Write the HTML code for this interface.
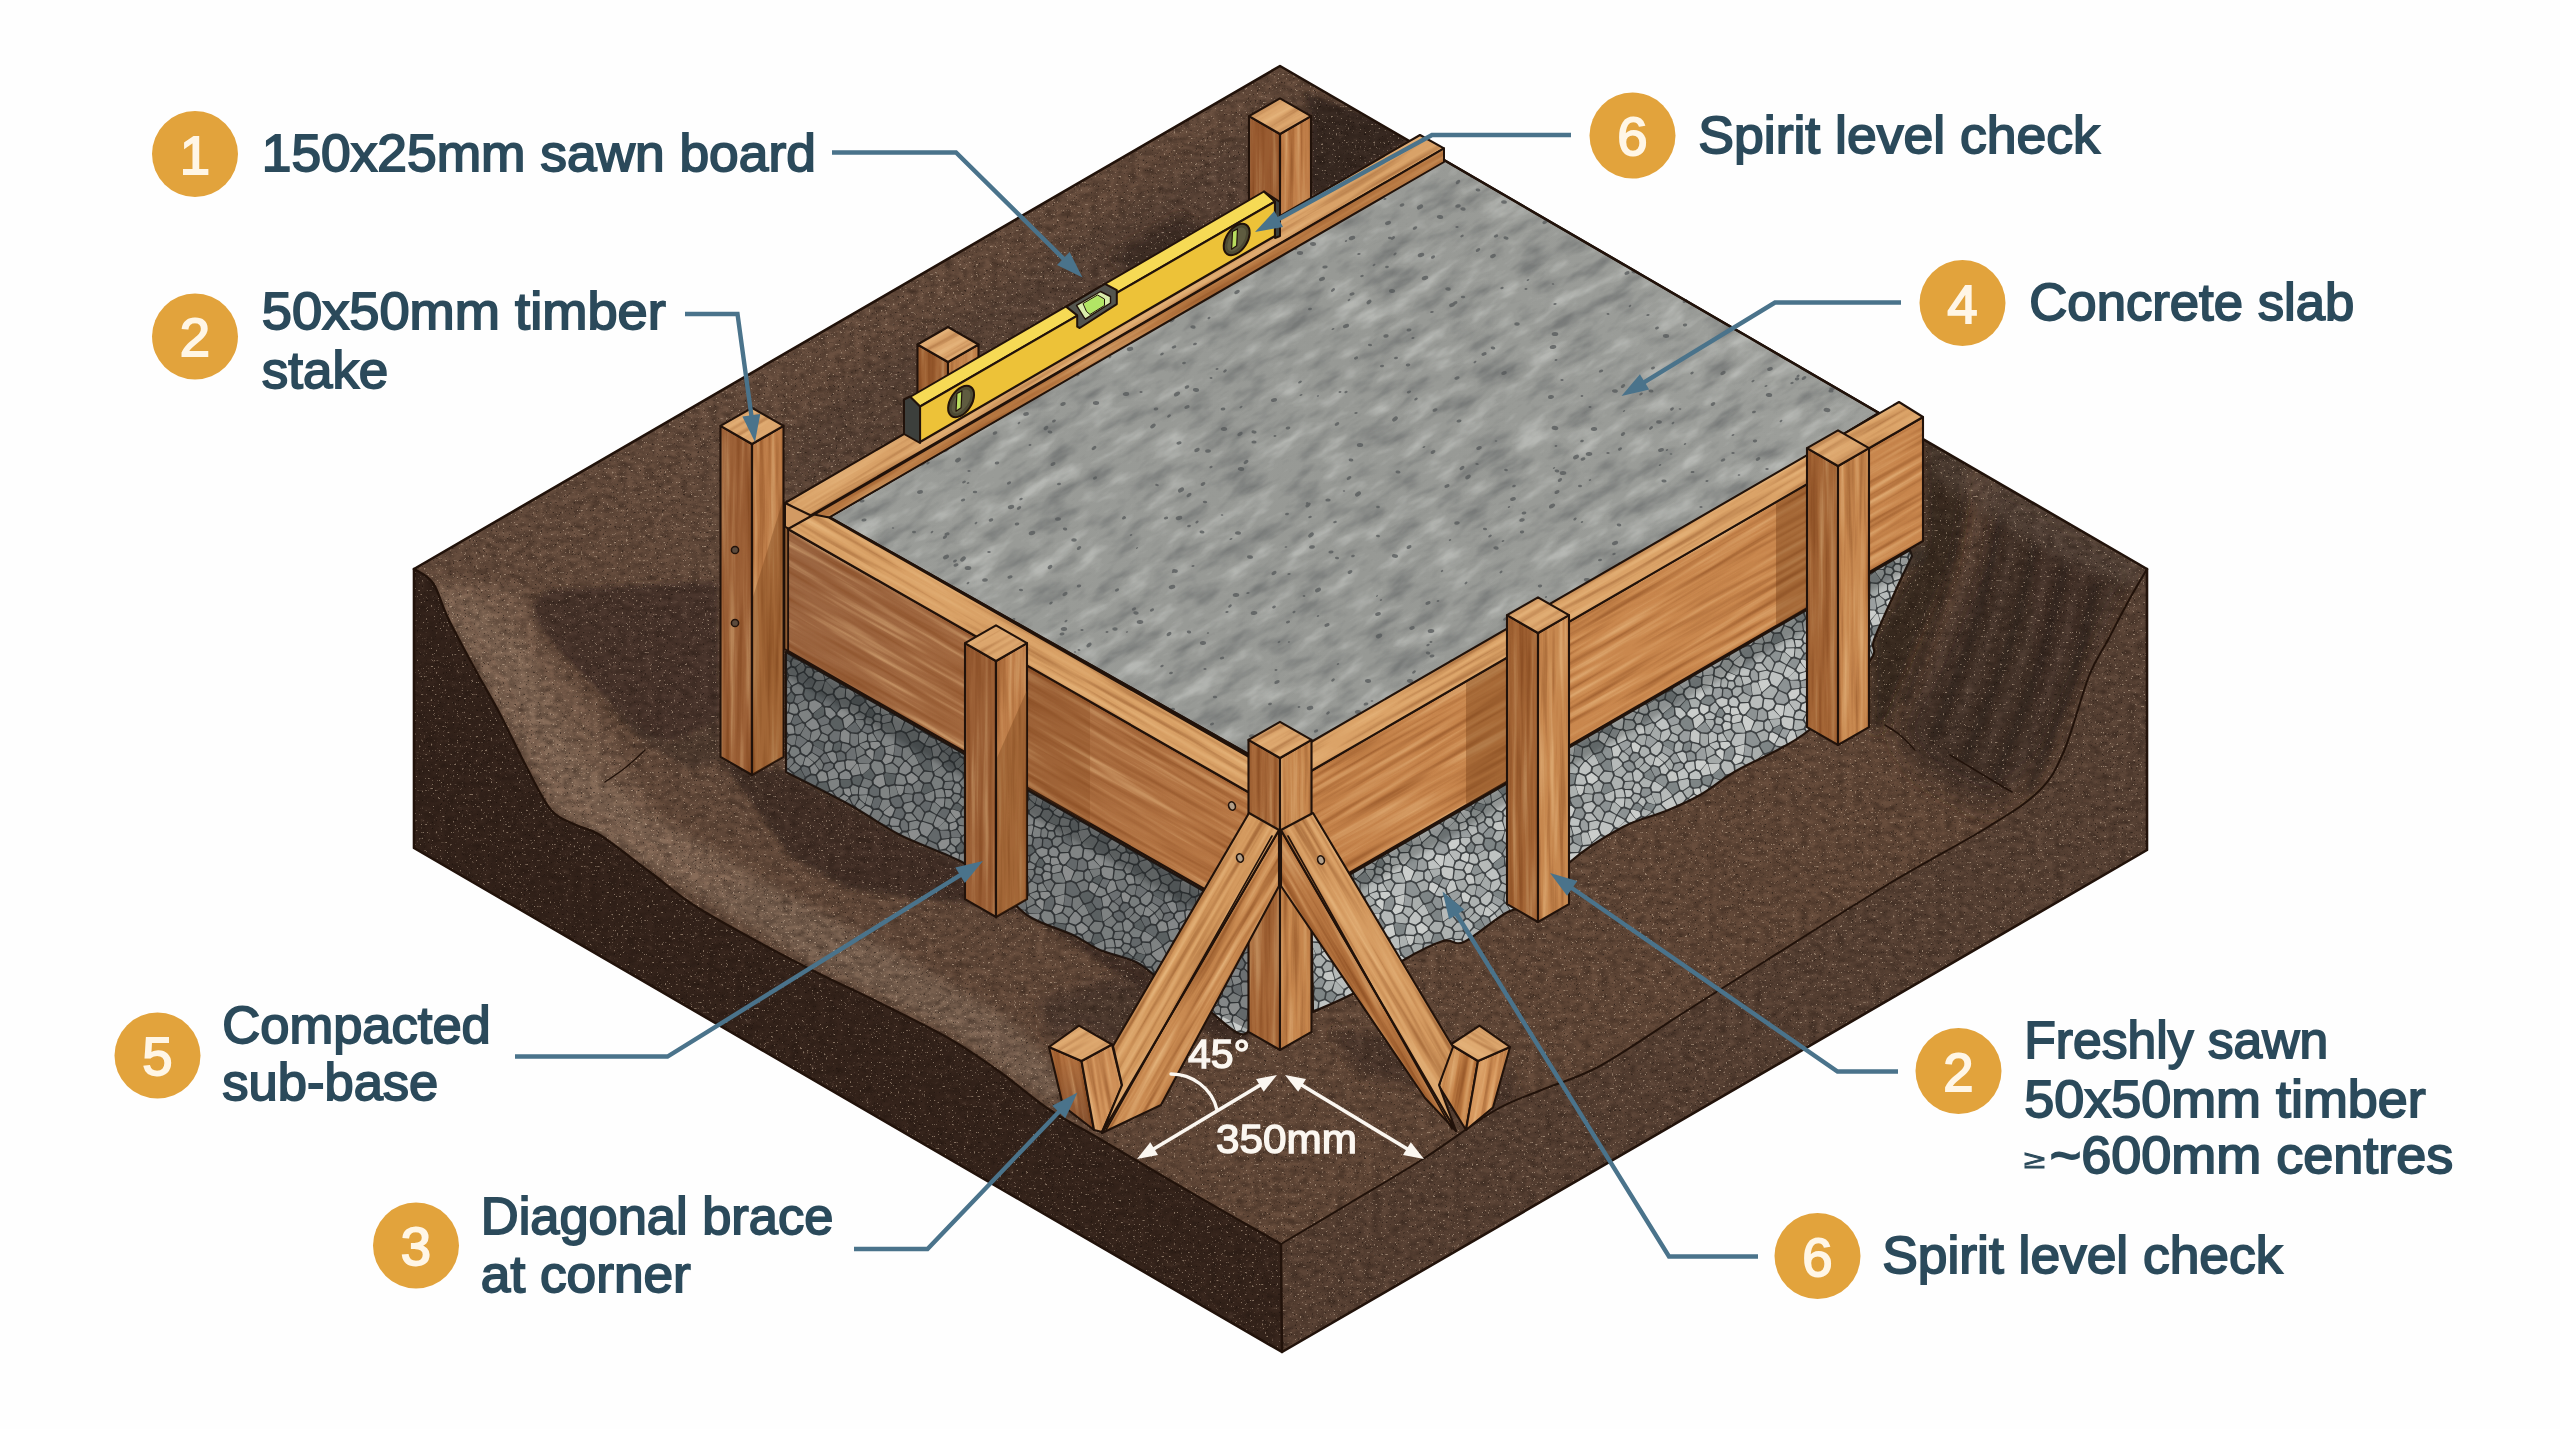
<!DOCTYPE html>
<html lang="en"><head><meta charset="utf-8"><title>Formwork for concrete slab</title>
<style>html,body{margin:0;padding:0;background:#fefefe;}svg{display:block}</style></head>
<body>
<svg width="2560" height="1429" viewBox="0 0 2560 1429">

<defs>
  <filter id="fSoil" x="0" y="0" width="100%" height="100%" filterUnits="userSpaceOnUse" color-interpolation-filters="sRGB">
    <feTurbulence type="fractalNoise" baseFrequency="0.11 0.16" numOctaves="4" seed="3" result="n"/>
    <feColorMatrix in="n" type="matrix" values="0 0 0 0 0  0 0 0 0 0  0 0 0 0 0  0.9 0.9 0 0 -0.62" result="a"/>
    <feFlood flood-color="#1c110b"/>
    <feComposite in2="a" operator="in" result="dark"/>
    <feColorMatrix in="n" type="matrix" values="0 0 0 0 0  0 0 0 0 0  0 0 0 0 0  -0.9 0 -0.9 0 0.62" result="b"/>
    <feFlood flood-color="#ab917c"/>
    <feComposite in2="b" operator="in" result="light"/>
    <feTurbulence type="fractalNoise" baseFrequency="0.42 0.5" numOctaves="2" seed="8" result="n2"/>
    <feColorMatrix in="n2" type="matrix" values="0 0 0 0 0  0 0 0 0 0  0 0 0 0 0  9 0 0 0 -6.05" result="c"/>
    <feFlood flood-color="#c8b39c"/>
    <feComposite in2="c" operator="in" result="specL"/>
    <feColorMatrix in="n2" type="matrix" values="0 0 0 0 0  0 0 0 0 0  0 0 0 0 0  0 -9 0 0 2.95" result="d"/>
    <feFlood flood-color="#120a06"/>
    <feComposite in2="d" operator="in" result="specD"/>
    <feMerge><feMergeNode in="dark"/><feMergeNode in="light"/><feMergeNode in="specD"/><feMergeNode in="specL"/></feMerge>
    <feComposite in2="SourceAlpha" operator="in"/>
  </filter>
  <filter id="fConc" x="0" y="0" width="1" height="1" color-interpolation-filters="sRGB">
    <feTurbulence type="fractalNoise" baseFrequency="0.022 0.06" numOctaves="4" seed="11" result="n"/>
    <feColorMatrix in="n" type="matrix" values="0 0 0 0 0  0 0 0 0 0  0 0 0 0 0  3 0 0 0 -1.55" result="a"/>
    <feFlood flood-color="#55585a"/>
    <feComposite in2="a" operator="in" result="dark"/>
    <feColorMatrix in="n" type="matrix" values="0 0 0 0 0  0 0 0 0 0  0 0 0 0 0  -3.4 0 0 0 1.55" result="b"/>
    <feFlood flood-color="#d5d7d3"/>
    <feComposite in2="b" operator="in" result="light"/>
    <feMerge><feMergeNode in="dark"/><feMergeNode in="light"/></feMerge>
  </filter>
  <filter id="fWood" x="0" y="0" width="1" height="1" color-interpolation-filters="sRGB">
    <feTurbulence type="fractalNoise" baseFrequency="0.007 0.17" numOctaves="3" seed="5" result="n"/>
    <feColorMatrix in="n" type="matrix" values="0 0 0 0 0  0 0 0 0 0  0 0 0 0 0  3.2 0 0 0 -1.6" result="a"/>
    <feFlood flood-color="#7a3c14"/>
    <feComposite in2="a" operator="in" result="dark"/>
    <feColorMatrix in="n" type="matrix" values="0 0 0 0 0  0 0 0 0 0  0 0 0 0 0  -3.2 0 0 0 1.5" result="b"/>
    <feFlood flood-color="#f6cf98"/>
    <feComposite in2="b" operator="in" result="light"/>
    <feMerge><feMergeNode in="dark"/><feMergeNode in="light"/></feMerge>
  </filter>
  <filter id="blur6"><feGaussianBlur stdDeviation="6"/></filter>
  <filter id="blur12"><feGaussianBlur stdDeviation="12"/></filter>
  <filter id="blur3"><feGaussianBlur stdDeviation="2.5"/></filter>

  <linearGradient id="gSoilTop" x1="414" y1="569" x2="1280" y2="1245" gradientUnits="userSpaceOnUse">
    <stop offset="0" stop-color="#6b5141"/><stop offset="1" stop-color="#684d3c"/>
  </linearGradient>
  <linearGradient id="gLeftFace" x1="414" y1="600" x2="1282" y2="1352" gradientUnits="userSpaceOnUse">
    <stop offset="0" stop-color="#35241c"/><stop offset="1" stop-color="#38261d"/>
  </linearGradient>
  <linearGradient id="gRightFace" x1="2147" y1="600" x2="1282" y2="1352" gradientUnits="userSpaceOnUse">
    <stop offset="0" stop-color="#5e4739"/><stop offset="1" stop-color="#5c4436"/>
  </linearGradient>
  <linearGradient id="gSlab" x1="829" y1="517" x2="1879" y2="413" gradientUnits="userSpaceOnUse">
    <stop offset="0" stop-color="#9a9c98"/><stop offset="0.5" stop-color="#979995"/><stop offset="1" stop-color="#9d9f9b"/>
  </linearGradient>
  <linearGradient id="gBoardL" x1="788" y1="590" x2="1249" y2="855" gradientUnits="userSpaceOnUse">
    <stop offset="0" stop-color="#9b6541"/><stop offset="0.5" stop-color="#a66b40"/><stop offset="1" stop-color="#b87744"/>
  </linearGradient>
  <linearGradient id="gBoardR" x1="1311" y1="830" x2="1923" y2="480" gradientUnits="userSpaceOnUse">
    <stop offset="0" stop-color="#c4824a"/><stop offset="0.5" stop-color="#ca884e"/><stop offset="1" stop-color="#c8864d"/>
  </linearGradient>
  <linearGradient id="gPegL" x1="0" y1="1047" x2="0" y2="1130" gradientUnits="userSpaceOnUse"><stop offset="0" stop-color="#b87541"/><stop offset="1" stop-color="#84502f"/></linearGradient>
  <pattern id="pGravel" width="170" height="150" patternUnits="userSpaceOnUse">
    <rect width="170" height="150" fill="#3d4143"/>
    <polygon points="-13.7,0.6 -10.6,-0.8 -9.7,-6.2 -10.8,-7.4 -15.0,-5.6 -15.9,-0.5" fill="#7e8586" stroke="#7e8586" stroke-width="1.6" stroke-linejoin="round"/>
    <polygon points="-2.1,-4.7 -7.1,-6.0 -7.8,-0.3 -4.5,1.4 -0.0,-3.2" fill="#a5aaa9" stroke="#a5aaa9" stroke-width="1.6" stroke-linejoin="round"/>
    <polygon points="-13.4,117.3 -9.3,120.3 -7.3,127.6 -10.2,129.3 -15.2,128.3 -18.6,123.7 -17.9,120.8" fill="#7e8586" stroke="#7e8586" stroke-width="1.6" stroke-linejoin="round"/>
    <polygon points="-14.1,14.7 -11.9,13.0 -6.7,12.2 -5.9,18.8 -11.0,21.7 -14.2,17.1" fill="#bfc3c2" stroke="#bfc3c2" stroke-width="1.6" stroke-linejoin="round"/>
    <polygon points="-0.5,84.8 -4.0,86.1 -8.3,85.0 -9.1,80.3 -6.2,77.0 0.2,78.9 0.2,84.0" fill="#8c9293" stroke="#8c9293" stroke-width="1.6" stroke-linejoin="round"/>
    <polygon points="-15.0,144.4 -10.8,142.6 -9.7,143.8 -10.6,149.2 -13.7,150.6 -15.9,149.5" fill="#7e8586" stroke="#7e8586" stroke-width="1.6" stroke-linejoin="round"/>
    <polygon points="-16.6,75.6 -15.0,69.9 -14.8,69.8 -9.6,71.5 -8.7,74.6 -11.3,77.7" fill="#9a9fa0" stroke="#9a9fa0" stroke-width="1.6" stroke-linejoin="round"/>
    <polygon points="-11.8,113.0 -8.7,109.7 -2.9,109.2 -1.9,113.1 -7.8,117.1 -11.7,114.6" fill="#cbcecc" stroke="#cbcecc" stroke-width="1.6" stroke-linejoin="round"/>
    <polygon points="-8.5,53.3 -7.5,58.1 -13.1,58.3 -16.9,55.2 -12.8,50.2 -11.8,50.4" fill="#a9aead" stroke="#a9aead" stroke-width="1.6" stroke-linejoin="round"/>
    <polygon points="-1.1,103.0 -2.3,106.4 -7.9,106.5 -10.1,100.3 -4.5,99.6 -1.4,101.7" fill="#a9aead" stroke="#a9aead" stroke-width="1.6" stroke-linejoin="round"/>
    <polygon points="-8.0,35.5 -8.7,30.8 -0.3,30.4 0.5,34.2 -1.7,36.1 -5.8,36.7" fill="#7e8586" stroke="#7e8586" stroke-width="1.6" stroke-linejoin="round"/>
    <polygon points="-3.7,11.9 -2.6,11.1 4.5,11.4 5.5,13.1 -0.2,19.5 -3.1,18.2" fill="#cbcecc" stroke="#cbcecc" stroke-width="1.6" stroke-linejoin="round"/>
    <polygon points="-1.6,142.3 -1.1,133.4 -4.8,130.7 -5.6,130.5 -8.1,132.4 -8.8,139.4 -7.6,140.7" fill="#c4c7c5" stroke="#c4c7c5" stroke-width="1.6" stroke-linejoin="round"/>
    <polygon points="-13.7,111.2 -10.9,106.9 -12.4,101.3 -13.6,100.7 -18.4,106.4" fill="#7e8586" stroke="#7e8586" stroke-width="1.6" stroke-linejoin="round"/>
    <polygon points="-7.1,61.0 -12.2,61.3 -14.2,67.2 -8.2,68.7 -5.6,64.6 -6.9,61.2" fill="#cbcecc" stroke="#cbcecc" stroke-width="1.6" stroke-linejoin="round"/>
    <polygon points="2.7,121.0 3.2,119.9 2.4,116.8 -0.2,115.1 -6.1,119.4 -4.7,127.0 -3.7,127.1" fill="#c4c7c5" stroke="#c4c7c5" stroke-width="1.6" stroke-linejoin="round"/>
    <polygon points="-10.2,38.0 -15.7,41.7 -12.5,46.6 -11.6,46.6 -8.2,43.3 -8.2,39.7" fill="#a9aead" stroke="#a9aead" stroke-width="1.6" stroke-linejoin="round"/>
    <polygon points="-11.5,97.6 -12.7,97.1 -14.8,93.8 -14.0,90.9 -10.2,87.9 -5.6,89.2 -6.2,96.6" fill="#bfc3c2" stroke="#bfc3c2" stroke-width="1.6" stroke-linejoin="round"/>
    <polygon points="-1.3,50.1 1.5,55.5 -4.8,58.0 -5.0,57.8 -5.0,53.9" fill="#a5aaa9" stroke="#a5aaa9" stroke-width="1.6" stroke-linejoin="round"/>
    <polygon points="-11.3,9.8 -12.6,3.5 -9.0,2.5 -6.1,4.5 -5.4,8.5 -6.3,9.3" fill="#8c9293" stroke="#8c9293" stroke-width="1.6" stroke-linejoin="round"/>
    <polygon points="-2.6,48.3 -6.1,51.0 -10.0,48.4 -5.9,45.6 -2.3,47.6" fill="#c4c7c5" stroke="#c4c7c5" stroke-width="1.6" stroke-linejoin="round"/>
    <polygon points="-9.2,24.1 -4.5,21.6 -1.6,22.7 0.4,26.3 -0.6,28.1 -8.7,28.5 -9.6,27.5" fill="#bfc3c2" stroke="#bfc3c2" stroke-width="1.6" stroke-linejoin="round"/>
    <polygon points="-0.0,146.8 -4.5,151.4 -7.8,149.7 -7.1,144.0 -2.1,145.3" fill="#a5aaa9" stroke="#a5aaa9" stroke-width="1.6" stroke-linejoin="round"/>
    <polygon points="-6.1,71.0 -3.2,66.9 1.1,68.5 1.5,74.9 0.6,76.0 -5.3,74.2" fill="#b9bdbc" stroke="#b9bdbc" stroke-width="1.6" stroke-linejoin="round"/>
    <polygon points="-5.5,39.6 -4.6,43.1 -1.2,45.4 0.3,44.2 -1.0,39.1" fill="#cbcecc" stroke="#cbcecc" stroke-width="1.6" stroke-linejoin="round"/>
    <polygon points="-9.0,152.5 -12.6,153.5 -11.3,159.8 -6.3,159.3 -5.4,158.5 -6.1,154.5" fill="#8c9293" stroke="#8c9293" stroke-width="1.6" stroke-linejoin="round"/>
    <polygon points="98.7,-4.1 94.1,-0.4 93.1,-0.3 90.0,-5.4 96.9,-8.5 99.8,-7.0" fill="#9a9fa0" stroke="#9a9fa0" stroke-width="1.6" stroke-linejoin="round"/>
    <polygon points="51.3,-17.2 47.5,-16.4 47.1,-15.9 46.9,-7.3 52.7,-4.6 57.8,-5.8 59.0,-8.2 54.9,-15.2" fill="#8c9293" stroke="#8c9293" stroke-width="1.6" stroke-linejoin="round"/>
    <polygon points="111.6,-5.6 106.6,-9.2 109.7,-13.5 114.0,-14.2 115.6,-13.6 114.1,-6.0" fill="#a5aaa9" stroke="#a5aaa9" stroke-width="1.6" stroke-linejoin="round"/>
    <polygon points="160.3,-6.2 159.2,-7.4 155.0,-5.6 154.1,-0.5 156.3,0.6 159.4,-0.8" fill="#7e8586" stroke="#7e8586" stroke-width="1.6" stroke-linejoin="round"/>
    <polygon points="150.3,-14.1 154.1,-18.1 159.3,-17.8 158.4,-10.2 153.8,-8.8 150.6,-10.8" fill="#9a9fa0" stroke="#9a9fa0" stroke-width="1.6" stroke-linejoin="round"/>
    <polygon points="16.1,-15.0 11.7,-17.5 9.4,-15.6 9.9,-7.4 16.1,-10.2" fill="#b9bdbc" stroke="#b9bdbc" stroke-width="1.6" stroke-linejoin="round"/>
    <polygon points="107.6,1.4 103.8,0.7 102.5,-3.6 102.6,-6.5 104.8,-6.9 109.5,-3.6" fill="#cbcecc" stroke="#cbcecc" stroke-width="1.6" stroke-linejoin="round"/>
    <polygon points="126.9,4.1 129.9,0.8 131.3,-3.9 130.9,-5.9 129.0,-7.3 127.8,-7.2 121.5,-1.6 122.2,2.2 125.9,4.4" fill="#b9bdbc" stroke="#b9bdbc" stroke-width="1.6" stroke-linejoin="round"/>
    <polygon points="72.3,-16.7 70.7,-16.0 69.7,-10.6 74.1,-7.4 77.4,-13.7 77.2,-14.3" fill="#cbcecc" stroke="#cbcecc" stroke-width="1.6" stroke-linejoin="round"/>
    <polygon points="1.1,-6.8 1.4,-15.6 7.1,-14.9 7.4,-6.6 7.2,-6.2 4.9,-4.7 2.8,-5.1" fill="#a5aaa9" stroke="#a5aaa9" stroke-width="1.6" stroke-linejoin="round"/>
    <polygon points="87.5,-11.9 88.3,-7.7 88.8,-7.6 95.8,-11.1 93.9,-17.7 92.5,-18.9 90.5,-18.2" fill="#c4c7c5" stroke="#c4c7c5" stroke-width="1.6" stroke-linejoin="round"/>
    <polygon points="148.7,-7.9 146.1,-5.4 145.3,-0.5 145.7,1.0 146.8,1.2 151.0,-0.3 152.1,-5.7" fill="#adb2b1" stroke="#adb2b1" stroke-width="1.6" stroke-linejoin="round"/>
    <polygon points="32.4,-8.0 33.2,-5.7 35.3,-4.6 43.6,-6.8 43.6,-6.8 44.4,-15.7 35.9,-15.0" fill="#b9bdbc" stroke="#b9bdbc" stroke-width="1.6" stroke-linejoin="round"/>
    <polygon points="106.7,-14.7 103.9,-19.5 96.4,-18.1 99.0,-11.5 101.6,-9.9 103.8,-10.5" fill="#a5aaa9" stroke="#a5aaa9" stroke-width="1.6" stroke-linejoin="round"/>
    <polygon points="17.6,-6.6 18.5,-2.9 15.3,-1.4 10.6,-5.0 11.0,-5.4 16.5,-7.3" fill="#b9bdbc" stroke="#b9bdbc" stroke-width="1.6" stroke-linejoin="round"/>
    <polygon points="72.5,-4.8 67.9,-7.7 62.2,-6.2 61.0,-4.0 64.5,2.0 65.3,2.2 70.2,0.4 72.9,-4.0" fill="#7e8586" stroke="#7e8586" stroke-width="1.6" stroke-linejoin="round"/>
    <polygon points="21.0,-7.0 21.8,-3.0 24.8,-1.6 29.7,-4.9 28.8,-6.9 26.8,-7.5" fill="#cbcecc" stroke="#cbcecc" stroke-width="1.6" stroke-linejoin="round"/>
    <polygon points="84.2,-10.1 85.6,-6.3 80.8,-4.6 76.4,-5.3 76.1,-6.0 79.6,-12.1" fill="#b9bdbc" stroke="#b9bdbc" stroke-width="1.6" stroke-linejoin="round"/>
    <polygon points="143.2,-6.6 142.5,-0.8 134.8,-5.2 134.0,-6.9 138.1,-8.4" fill="#7e8586" stroke="#7e8586" stroke-width="1.6" stroke-linejoin="round"/>
    <polygon points="116.3,-5.6 117.8,-13.1 119.7,-13.1 126.0,-9.0 119.6,-3.4" fill="#9a9fa0" stroke="#9a9fa0" stroke-width="1.6" stroke-linejoin="round"/>
    <polygon points="22.2,-15.8 25.9,-9.9 20.0,-9.4 19.0,-10.1 19.0,-14.4" fill="#b9bdbc" stroke="#b9bdbc" stroke-width="1.6" stroke-linejoin="round"/>
    <polygon points="165.5,1.4 162.2,-0.3 162.9,-6.0 167.9,-4.7 170.0,-3.2" fill="#a5aaa9" stroke="#a5aaa9" stroke-width="1.6" stroke-linejoin="round"/>
    <polygon points="146.9,-13.5 142.3,-15.5 139.7,-10.7 144.8,-8.9 147.2,-10.5" fill="#adb2b1" stroke="#adb2b1" stroke-width="1.6" stroke-linejoin="round"/>
    <polygon points="87.5,100.0 86.9,101.3 84.0,103.1 77.5,102.5 75.4,99.0 79.2,92.0 85.9,95.2" fill="#9a9fa0" stroke="#9a9fa0" stroke-width="1.6" stroke-linejoin="round"/>
    <polygon points="55.2,54.5 53.9,57.3 56.6,61.5 61.1,61.1 64.8,55.9 61.8,52.8" fill="#b9bdbc" stroke="#b9bdbc" stroke-width="1.6" stroke-linejoin="round"/>
    <polygon points="113.2,90.7 115.9,93.3 121.6,93.0 122.9,88.4 121.2,85.9 118.0,84.6 113.6,87.0 112.7,88.2" fill="#a5aaa9" stroke="#a5aaa9" stroke-width="1.6" stroke-linejoin="round"/>
    <polygon points="0.7,87.8 -3.1,89.6 -3.3,96.4 0.2,99.1 3.8,95.1" fill="#cbcecc" stroke="#cbcecc" stroke-width="1.6" stroke-linejoin="round"/>
    <polygon points="11.0,128.2 13.3,123.7 12.8,120.7 6.6,120.5 6.4,121.7" fill="#a9aead" stroke="#a9aead" stroke-width="1.6" stroke-linejoin="round"/>
    <polygon points="82.7,124.0 82.2,119.5 82.6,118.8 84.3,117.8 91.9,118.7 92.6,119.9 91.7,127.9 89.4,128.2 84.3,126.2" fill="#c4c7c5" stroke="#c4c7c5" stroke-width="1.6" stroke-linejoin="round"/>
    <polygon points="70.7,129.8 69.1,130.9 65.6,128.3 65.3,122.9 67.9,121.0 68.8,121.5 71.5,127.5" fill="#adb2b1" stroke="#adb2b1" stroke-width="1.6" stroke-linejoin="round"/>
    <polygon points="152.1,120.8 156.6,117.3 160.7,120.3 162.7,127.6 159.8,129.3 154.8,128.3 151.4,123.7" fill="#7e8586" stroke="#7e8586" stroke-width="1.6" stroke-linejoin="round"/>
    <polygon points="90.8,15.0 83.7,20.2 83.6,20.1 82.3,10.5 84.0,9.1 87.5,9.2 91.3,13.2" fill="#b6bab9" stroke="#b6bab9" stroke-width="1.6" stroke-linejoin="round"/>
    <polygon points="159.0,21.7 164.1,18.8 163.3,12.2 158.1,13.0 155.9,14.7 155.8,17.1" fill="#bfc3c2" stroke="#bfc3c2" stroke-width="1.6" stroke-linejoin="round"/>
    <polygon points="169.5,84.8 166.0,86.1 161.7,85.0 160.9,80.3 163.8,77.0 170.2,78.9 170.2,84.0" fill="#8c9293" stroke="#8c9293" stroke-width="1.6" stroke-linejoin="round"/>
    <polygon points="90.0,144.6 93.1,149.7 94.1,149.6 98.7,145.9 99.8,143.0 96.9,141.5" fill="#9a9fa0" stroke="#9a9fa0" stroke-width="1.6" stroke-linejoin="round"/>
    <polygon points="97.3,78.8 97.3,74.4 95.1,72.3 89.0,77.9 90.8,79.1" fill="#b9bdbc" stroke="#b9bdbc" stroke-width="1.6" stroke-linejoin="round"/>
    <polygon points="63.9,63.1 67.2,57.4 69.2,57.6 73.2,63.0 71.2,69.3 70.3,69.8 67.8,68.1" fill="#a5aaa9" stroke="#a5aaa9" stroke-width="1.6" stroke-linejoin="round"/>
    <polygon points="1.6,104.9 7.9,106.9 7.7,110.7 3.6,113.4 1.3,111.9 0.5,108.6" fill="#cbcecc" stroke="#cbcecc" stroke-width="1.6" stroke-linejoin="round"/>
    <polygon points="110.0,18.7 115.0,13.9 119.3,17.1 118.5,18.4 114.2,21.6" fill="#a9aead" stroke="#a9aead" stroke-width="1.6" stroke-linejoin="round"/>
    <polygon points="141.4,72.3 135.4,73.4 134.0,77.0 136.9,79.1 143.4,79.4 143.6,79.0" fill="#c4c7c5" stroke="#c4c7c5" stroke-width="1.6" stroke-linejoin="round"/>
    <polygon points="90.6,29.6 85.0,27.2 82.4,32.7 85.1,38.4 91.4,36.7 92.3,32.0" fill="#adb2b1" stroke="#adb2b1" stroke-width="1.6" stroke-linejoin="round"/>
    <polygon points="2.9,29.4 3.8,27.6 9.9,26.3 10.5,26.6 11.5,28.4 9.3,34.3 8.6,34.8 3.8,33.0" fill="#7e8586" stroke="#7e8586" stroke-width="1.6" stroke-linejoin="round"/>
    <polygon points="14.6,86.3 19.4,86.0 20.0,79.7 14.8,77.8 13.5,84.7" fill="#b6bab9" stroke="#b6bab9" stroke-width="1.6" stroke-linejoin="round"/>
    <polygon points="16.4,43.6 9.9,44.0 9.7,43.9 10.2,38.1 10.9,37.7 17.1,39.6 16.8,43.5" fill="#bfc3c2" stroke="#bfc3c2" stroke-width="1.6" stroke-linejoin="round"/>
    <polygon points="43.0,53.7 41.3,49.7 42.0,49.0 47.8,47.2 49.4,47.6 51.9,52.9 50.6,55.9 45.7,56.3" fill="#8c9293" stroke="#8c9293" stroke-width="1.6" stroke-linejoin="round"/>
    <polygon points="123.4,73.6 119.4,75.4 118.9,76.8 119.4,81.1 122.4,82.8 127.0,77.5" fill="#9a9fa0" stroke="#9a9fa0" stroke-width="1.6" stroke-linejoin="round"/>
    <polygon points="38.4,47.6 39.0,46.7 37.9,37.8 35.8,37.0 31.3,39.5 31.3,45.3 33.2,47.2" fill="#b9bdbc" stroke="#b9bdbc" stroke-width="1.6" stroke-linejoin="round"/>
    <polygon points="123.6,124.7 122.0,124.0 115.9,126.7 116.2,132.7 117.8,133.5 119.7,133.1 123.7,126.5" fill="#a5aaa9" stroke="#a5aaa9" stroke-width="1.6" stroke-linejoin="round"/>
    <polygon points="61.7,23.8 66.8,27.7 67.0,29.5 62.0,33.1 58.7,32.1 57.1,26.5" fill="#cbcecc" stroke="#cbcecc" stroke-width="1.6" stroke-linejoin="round"/>
    <polygon points="33.4,90.5 34.0,94.6 37.1,95.5 41.0,91.9 40.6,88.1 36.2,88.0" fill="#a9aead" stroke="#a9aead" stroke-width="1.6" stroke-linejoin="round"/>
    <polygon points="36.6,2.5 42.7,4.3 44.0,-4.7 35.8,-2.1" fill="#c4c7c5" stroke="#c4c7c5" stroke-width="1.6" stroke-linejoin="round"/>
    <polygon points="47.1,18.3 42.2,14.4 36.0,15.8 36.5,21.6 45.4,22.7 46.9,22.0" fill="#adb2b1" stroke="#adb2b1" stroke-width="1.6" stroke-linejoin="round"/>
    <polygon points="141.7,101.9 145.3,95.3 141.3,92.1 137.5,93.5 136.6,98.3" fill="#7e8586" stroke="#7e8586" stroke-width="1.6" stroke-linejoin="round"/>
    <polygon points="108.1,34.4 110.2,37.9 109.2,42.5 104.7,41.7 103.7,39.0 105.7,34.2" fill="#b6bab9" stroke="#b6bab9" stroke-width="1.6" stroke-linejoin="round"/>
    <polygon points="148.4,22.7 153.8,19.5 157.1,23.8 157.1,27.1 149.5,28.7" fill="#bfc3c2" stroke="#bfc3c2" stroke-width="1.6" stroke-linejoin="round"/>
    <polygon points="101.1,9.1 101.6,6.7 103.6,4.3 107.2,4.4 108.7,6.8 103.8,10.9" fill="#8c9293" stroke="#8c9293" stroke-width="1.6" stroke-linejoin="round"/>
    <polygon points="1.9,-1.5 4.2,-1.1 5.4,6.9 5.1,8.9 -2.5,8.4 -2.7,3.6" fill="#9a9fa0" stroke="#9a9fa0" stroke-width="1.6" stroke-linejoin="round"/>
    <polygon points="154.4,60.7 150.9,57.4 148.1,57.4 144.2,62.0 145.3,64.7 152.9,66.8 153.1,66.7" fill="#b9bdbc" stroke="#b9bdbc" stroke-width="1.6" stroke-linejoin="round"/>
    <polygon points="33.9,65.9 29.9,71.5 36.2,74.2 37.8,73.6 38.7,68.7" fill="#a5aaa9" stroke="#a5aaa9" stroke-width="1.6" stroke-linejoin="round"/>
    <polygon points="95.2,97.7 98.5,93.7 98.4,89.9 92.0,90.7 89.0,93.9 90.5,98.8" fill="#cbcecc" stroke="#cbcecc" stroke-width="1.6" stroke-linejoin="round"/>
    <polygon points="126.6,65.5 124.2,61.1 126.9,56.6 126.9,56.6 130.2,55.8 134.6,60.5 130.7,65.5" fill="#a9aead" stroke="#a9aead" stroke-width="1.6" stroke-linejoin="round"/>
    <polygon points="15.7,56.7 19.6,58.0 21.3,59.8 18.8,64.6 15.0,66.4 10.5,62.8 10.5,60.9" fill="#c4c7c5" stroke="#c4c7c5" stroke-width="1.6" stroke-linejoin="round"/>
    <polygon points="99.7,57.8 100.5,57.1 102.4,53.5 99.9,49.5 96.4,49.2 96.2,49.4 95.7,56.0" fill="#adb2b1" stroke="#adb2b1" stroke-width="1.6" stroke-linejoin="round"/>
    <polygon points="111.4,57.6 111.3,57.2 107.7,54.5 105.8,54.8 103.2,58.3 109.8,60.2" fill="#7e8586" stroke="#7e8586" stroke-width="1.6" stroke-linejoin="round"/>
    <polygon points="132.5,132.5 131.0,139.7 133.0,140.9 136.8,138.2 139.7,133.7 138.5,130.0" fill="#b6bab9" stroke="#b6bab9" stroke-width="1.6" stroke-linejoin="round"/>
    <polygon points="133.1,112.2 129.8,108.1 130.4,102.6 134.9,101.1 140.3,104.3 141.0,105.7" fill="#bfc3c2" stroke="#bfc3c2" stroke-width="1.6" stroke-linejoin="round"/>
    <polygon points="46.9,142.7 52.7,145.4 57.8,144.2 59.0,141.8 54.9,134.8 51.3,132.8 47.5,133.6 47.1,134.1" fill="#8c9293" stroke="#8c9293" stroke-width="1.6" stroke-linejoin="round"/>
    <polygon points="64.9,45.6 65.6,44.6 70.2,44.2 72.0,45.6 73.0,49.6 69.0,53.9 67.1,53.7 64.5,50.3" fill="#9a9fa0" stroke="#9a9fa0" stroke-width="1.6" stroke-linejoin="round"/>
    <polygon points="60.0,96.5 62.0,99.1 61.0,106.4 57.5,107.7 52.1,106.0 51.0,102.2 52.8,97.9 53.5,97.4" fill="#b9bdbc" stroke="#b9bdbc" stroke-width="1.6" stroke-linejoin="round"/>
    <polygon points="109.7,136.5 106.6,140.8 111.6,144.4 114.1,144.0 115.6,136.4 114.0,135.8" fill="#a5aaa9" stroke="#a5aaa9" stroke-width="1.6" stroke-linejoin="round"/>
    <polygon points="24.3,30.8 26.6,27.1 32.6,25.2 34.3,34.3 29.5,36.4 24.7,33.4" fill="#cbcecc" stroke="#cbcecc" stroke-width="1.6" stroke-linejoin="round"/>
    <polygon points="81.5,23.1 81.4,23.1 74.9,22.5 70.5,27.1 70.7,29.1 74.6,31.6 79.6,31.1 82.2,25.8" fill="#a9aead" stroke="#a9aead" stroke-width="1.6" stroke-linejoin="round"/>
    <polygon points="100.2,63.9 104.9,69.6 104.6,70.5 99.6,71.6 97.5,70.1 97.3,69.5" fill="#c4c7c5" stroke="#c4c7c5" stroke-width="1.6" stroke-linejoin="round"/>
    <polygon points="89.7,57.8 84.2,53.2 83.1,53.9 81.2,60.0 86.4,63.3" fill="#adb2b1" stroke="#adb2b1" stroke-width="1.6" stroke-linejoin="round"/>
    <polygon points="148.3,39.9 146.1,33.1 139.8,33.7 137.3,37.2 142.9,43.6" fill="#7e8586" stroke="#7e8586" stroke-width="1.6" stroke-linejoin="round"/>
    <polygon points="134.4,11.2 134.4,11.2 137.6,8.3 137.9,7.6 132.1,3.8 128.5,6.6" fill="#b6bab9" stroke="#b6bab9" stroke-width="1.6" stroke-linejoin="round"/>
    <polygon points="74.1,103.9 72.0,107.5 67.9,109.6 64.1,107.0 65.0,99.8 72.4,100.6" fill="#bfc3c2" stroke="#bfc3c2" stroke-width="1.6" stroke-linejoin="round"/>
    <polygon points="47.3,114.7 51.4,109.2 56.6,111.0 55.7,118.5 54.5,119.2" fill="#8c9293" stroke="#8c9293" stroke-width="1.6" stroke-linejoin="round"/>
    <polygon points="53.0,79.8 51.3,76.0 51.9,71.6 53.8,70.4 56.9,73.6 57.3,79.0 56.5,79.8" fill="#9a9fa0" stroke="#9a9fa0" stroke-width="1.6" stroke-linejoin="round"/>
    <polygon points="103.8,23.0 104.7,29.5 105.8,30.6 108.3,30.7 111.9,26.6 111.7,24.1 108.0,20.8 106.2,20.4" fill="#b9bdbc" stroke="#b9bdbc" stroke-width="1.6" stroke-linejoin="round"/>
    <polygon points="36.7,84.5 41.0,85.1 41.8,84.0 40.1,78.2 39.0,77.0 37.4,77.8 35.8,80.7" fill="#a5aaa9" stroke="#a5aaa9" stroke-width="1.6" stroke-linejoin="round"/>
    <polygon points="45.8,116.6 53.1,121.4 50.2,129.2 46.4,130.3 43.5,122.0 44.0,117.1" fill="#cbcecc" stroke="#cbcecc" stroke-width="1.6" stroke-linejoin="round"/>
    <polygon points="63.8,92.8 70.8,86.9 75.7,88.8 76.6,90.8 72.5,97.4 65.1,97.0 63.0,94.5" fill="#a9aead" stroke="#a9aead" stroke-width="1.6" stroke-linejoin="round"/>
    <polygon points="145.6,55.5 141.9,48.2 133.6,53.1 132.7,54.3 137.2,58.9 141.3,60.2" fill="#c4c7c5" stroke="#c4c7c5" stroke-width="1.6" stroke-linejoin="round"/>
    <polygon points="93.5,11.1 89.9,7.1 92.8,3.0 93.8,3.2 97.8,6.5 97.9,9.1" fill="#adb2b1" stroke="#adb2b1" stroke-width="1.6" stroke-linejoin="round"/>
    <polygon points="156.3,150.6 159.4,149.2 160.3,143.8 159.2,142.6 155.0,144.4 154.1,149.5" fill="#7e8586" stroke="#7e8586" stroke-width="1.6" stroke-linejoin="round"/>
    <polygon points="60.0,79.1 60.1,73.0 66.3,71.6 69.0,72.5 67.2,77.5" fill="#b6bab9" stroke="#b6bab9" stroke-width="1.6" stroke-linejoin="round"/>
    <polygon points="82.5,77.7 76.9,85.9 72.2,83.4 70.4,78.7 71.8,73.2 72.8,72.8 81.0,75.4" fill="#bfc3c2" stroke="#bfc3c2" stroke-width="1.6" stroke-linejoin="round"/>
    <polygon points="6.7,131.7 9.4,130.3 9.5,129.9 4.7,123.0 -2.6,128.9 2.2,131.5" fill="#8c9293" stroke="#8c9293" stroke-width="1.6" stroke-linejoin="round"/>
    <polygon points="161.3,74.6 158.7,77.7 153.4,75.6 155.0,69.9 155.2,69.8 160.4,71.5" fill="#9a9fa0" stroke="#9a9fa0" stroke-width="1.6" stroke-linejoin="round"/>
    <polygon points="67.7,13.1 62.4,15.3 58.0,10.7 63.5,5.6 64.2,5.8" fill="#b9bdbc" stroke="#b9bdbc" stroke-width="1.6" stroke-linejoin="round"/>
    <polygon points="18.6,13.0 21.1,10.3 14.6,5.9 8.7,8.7 8.1,10.4 9.1,12.0 9.6,12.2" fill="#a5aaa9" stroke="#a5aaa9" stroke-width="1.6" stroke-linejoin="round"/>
    <polygon points="158.2,113.0 161.3,109.7 167.1,109.2 168.1,113.1 162.2,117.1 158.3,114.6" fill="#cbcecc" stroke="#cbcecc" stroke-width="1.6" stroke-linejoin="round"/>
    <polygon points="161.5,53.3 162.5,58.1 156.9,58.3 153.1,55.2 157.2,50.2 158.2,50.4" fill="#a9aead" stroke="#a9aead" stroke-width="1.6" stroke-linejoin="round"/>
    <polygon points="20.7,76.7 15.9,75.1 15.4,74.4 15.9,69.7 19.9,67.9 25.2,72.4 23.4,76.0" fill="#c4c7c5" stroke="#c4c7c5" stroke-width="1.6" stroke-linejoin="round"/>
    <polygon points="111.7,5.2 110.4,2.6 112.3,-2.1 114.7,-2.4 117.9,-0.6 118.8,2.8 113.9,6.1" fill="#adb2b1" stroke="#adb2b1" stroke-width="1.6" stroke-linejoin="round"/>
    <polygon points="137.5,118.0 143.1,114.5 143.3,108.3 142.1,107.4 134.5,113.8 134.5,116.2" fill="#7e8586" stroke="#7e8586" stroke-width="1.6" stroke-linejoin="round"/>
    <polygon points="102.1,118.5 105.0,113.4 99.6,111.4 96.8,112.8 95.2,116.9 95.8,117.9" fill="#b6bab9" stroke="#b6bab9" stroke-width="1.6" stroke-linejoin="round"/>
    <polygon points="124.7,32.5 123.7,33.1 122.1,37.5 123.0,40.5 128.8,40.8 132.3,37.3" fill="#bfc3c2" stroke="#bfc3c2" stroke-width="1.6" stroke-linejoin="round"/>
    <polygon points="27.2,89.7 24.2,89.9 23.8,95.7 28.2,97.4 31.1,95.1 30.0,91.2" fill="#8c9293" stroke="#8c9293" stroke-width="1.6" stroke-linejoin="round"/>
    <polygon points="150.3,135.9 154.1,131.9 159.3,132.2 158.4,139.8 153.8,141.2 150.6,139.2" fill="#9a9fa0" stroke="#9a9fa0" stroke-width="1.6" stroke-linejoin="round"/>
    <polygon points="101.5,89.5 102.0,88.8 109.1,88.8 109.6,91.4 105.5,95.2 102.1,92.6" fill="#b9bdbc" stroke="#b9bdbc" stroke-width="1.6" stroke-linejoin="round"/>
    <polygon points="123.1,43.5 129.1,44.0 130.4,51.1 129.8,52.5 126.4,53.0 122.7,45.0" fill="#a5aaa9" stroke="#a5aaa9" stroke-width="1.6" stroke-linejoin="round"/>
    <polygon points="106.4,111.1 101.7,108.8 102.8,104.9 106.1,103.5 108.2,104.8 107.4,110.7" fill="#cbcecc" stroke="#cbcecc" stroke-width="1.6" stroke-linejoin="round"/>
    <polygon points="69.4,16.1 72.2,20.4 68.4,25.4 63.2,21.1 64.0,17.8 68.7,16.0" fill="#a9aead" stroke="#a9aead" stroke-width="1.6" stroke-linejoin="round"/>
    <polygon points="25.3,122.7 23.4,125.1 24.7,129.4 29.9,127.7 30.0,124.4 29.3,123.4" fill="#c4c7c5" stroke="#c4c7c5" stroke-width="1.6" stroke-linejoin="round"/>
    <polygon points="97.5,23.5 93.7,27.7 95.4,30.2 102.0,29.8 101.0,23.4" fill="#adb2b1" stroke="#adb2b1" stroke-width="1.6" stroke-linejoin="round"/>
    <polygon points="70.4,12.5 74.5,8.9 71.3,3.6 66.1,5.2 69.7,12.3" fill="#7e8586" stroke="#7e8586" stroke-width="1.6" stroke-linejoin="round"/>
    <polygon points="22.3,17.5 26.1,23.5 32.4,22.2 33.3,21.1 32.5,15.4 30.3,12.7 24.4,11.7 24.1,11.9 22.1,14.4" fill="#b6bab9" stroke="#b6bab9" stroke-width="1.6" stroke-linejoin="round"/>
    <polygon points="130.9,17.9 132.0,22.7 135.4,23.3 137.8,20.1 134.3,15.0 134.3,15.0" fill="#bfc3c2" stroke="#bfc3c2" stroke-width="1.6" stroke-linejoin="round"/>
    <polygon points="131.3,78.8 133.8,81.2 131.4,86.7 126.0,86.8 124.5,84.2 129.1,79.2" fill="#8c9293" stroke="#8c9293" stroke-width="1.6" stroke-linejoin="round"/>
    <polygon points="14.9,89.4 19.9,88.9 21.3,89.8 20.8,95.5 16.1,98.0 13.8,94.6" fill="#9a9fa0" stroke="#9a9fa0" stroke-width="1.6" stroke-linejoin="round"/>
    <polygon points="9.9,142.6 16.1,139.8 16.1,135.0 11.7,132.5 9.4,134.4" fill="#b9bdbc" stroke="#b9bdbc" stroke-width="1.6" stroke-linejoin="round"/>
    <polygon points="64.0,131.4 57.9,133.8 61.4,140.9 66.8,139.0 67.6,133.6" fill="#a5aaa9" stroke="#a5aaa9" stroke-width="1.6" stroke-linejoin="round"/>
    <polygon points="102.6,143.5 102.5,146.4 103.8,150.7 107.6,151.4 109.5,146.4 104.8,143.1" fill="#cbcecc" stroke="#cbcecc" stroke-width="1.6" stroke-linejoin="round"/>
    <polygon points="168.6,101.7 168.9,103.0 167.7,106.4 162.1,106.5 159.9,100.3 165.5,99.6" fill="#a9aead" stroke="#a9aead" stroke-width="1.6" stroke-linejoin="round"/>
    <polygon points="18.6,18.1 12.5,23.4 11.9,23.1 9.4,14.5 18.9,14.9" fill="#c4c7c5" stroke="#c4c7c5" stroke-width="1.6" stroke-linejoin="round"/>
    <polygon points="21.0,119.0 17.1,118.0 16.2,120.0 16.5,122.8 20.5,123.4 22.2,121.0" fill="#adb2b1" stroke="#adb2b1" stroke-width="1.6" stroke-linejoin="round"/>
    <polygon points="168.3,36.1 164.2,36.7 162.0,35.5 161.3,30.8 169.7,30.4 170.5,34.2" fill="#7e8586" stroke="#7e8586" stroke-width="1.6" stroke-linejoin="round"/>
    <polygon points="95.5,101.3 99.5,103.8 98.6,108.1 95.4,109.5 90.4,102.8 90.9,101.5" fill="#b6bab9" stroke="#b6bab9" stroke-width="1.6" stroke-linejoin="round"/>
    <polygon points="70.4,118.3 78.8,117.8 79.3,117.1 73.3,110.8 68.9,112.6 69.4,118.1" fill="#bfc3c2" stroke="#bfc3c2" stroke-width="1.6" stroke-linejoin="round"/>
    <polygon points="26.1,1.1 24.7,8.7 31.0,9.2 33.3,3.4 33.1,-1.5 31.2,-2.9" fill="#8c9293" stroke="#8c9293" stroke-width="1.6" stroke-linejoin="round"/>
    <polygon points="109.3,86.8 110.1,85.6 106.7,80.8 101.7,82.1 102.2,86.7" fill="#9a9fa0" stroke="#9a9fa0" stroke-width="1.6" stroke-linejoin="round"/>
    <polygon points="131.3,146.1 129.9,150.8 126.9,154.1 125.9,154.4 122.2,152.2 121.5,148.4 127.8,142.8 129.0,142.7 130.9,144.1" fill="#b9bdbc" stroke="#b9bdbc" stroke-width="1.6" stroke-linejoin="round"/>
    <polygon points="55.3,42.2 56.0,36.7 57.9,35.2 60.9,36.6 63.0,41.9 62.3,42.9" fill="#a5aaa9" stroke="#a5aaa9" stroke-width="1.6" stroke-linejoin="round"/>
    <polygon points="77.2,135.7 77.4,136.3 74.1,142.6 69.7,139.4 70.7,134.0 72.3,133.3" fill="#cbcecc" stroke="#cbcecc" stroke-width="1.6" stroke-linejoin="round"/>
    <polygon points="115.7,74.9 109.7,74.0 108.3,71.2 108.6,70.4 111.6,68.4 113.9,69.1 116.3,73.3" fill="#a9aead" stroke="#a9aead" stroke-width="1.6" stroke-linejoin="round"/>
    <polygon points="21.8,106.0 20.4,105.8 17.2,101.9 17.2,100.6 22.0,98.7 26.8,100.1 26.5,104.0" fill="#c4c7c5" stroke="#c4c7c5" stroke-width="1.6" stroke-linejoin="round"/>
    <polygon points="85.0,65.6 82.2,72.8 73.6,70.2 76.5,63.6 79.9,62.9 85.0,65.5" fill="#adb2b1" stroke="#adb2b1" stroke-width="1.6" stroke-linejoin="round"/>
    <polygon points="109.9,101.6 112.3,101.0 113.7,96.2 111.2,93.4 107.7,97.7 108.0,100.5" fill="#7e8586" stroke="#7e8586" stroke-width="1.6" stroke-linejoin="round"/>
    <polygon points="53.3,83.3 57.0,83.3 60.3,91.7 60.0,93.5 53.3,94.1 52.1,84.8" fill="#b6bab9" stroke="#b6bab9" stroke-width="1.6" stroke-linejoin="round"/>
    <polygon points="4.0,67.9 8.6,65.2 12.8,68.8 12.2,73.6 4.2,74.7" fill="#bfc3c2" stroke="#bfc3c2" stroke-width="1.6" stroke-linejoin="round"/>
    <polygon points="127.5,18.4 129.5,23.2 125.5,25.7 122.2,19.2 122.5,17.9 123.8,17.2" fill="#8c9293" stroke="#8c9293" stroke-width="1.6" stroke-linejoin="round"/>
    <polygon points="145.6,105.2 149.2,105.0 154.6,99.4 152.2,95.5 147.4,96.9 143.9,103.1 144.4,104.5" fill="#9a9fa0" stroke="#9a9fa0" stroke-width="1.6" stroke-linejoin="round"/>
    <polygon points="49.0,24.8 47.6,25.8 46.3,33.3 46.9,33.7 53.3,34.0 55.5,32.6 53.9,27.0" fill="#b9bdbc" stroke="#b9bdbc" stroke-width="1.6" stroke-linejoin="round"/>
    <polygon points="6.9,46.4 2.9,46.9 1.3,47.9 1.2,48.6 3.7,53.8 4.4,54.1 7.1,49.0 7.0,46.5" fill="#a5aaa9" stroke="#a5aaa9" stroke-width="1.6" stroke-linejoin="round"/>
    <polygon points="167.4,11.1 166.3,11.9 166.9,18.2 169.8,19.5 175.5,13.1 174.5,11.4" fill="#cbcecc" stroke="#cbcecc" stroke-width="1.6" stroke-linejoin="round"/>
    <polygon points="30.9,62.9 28.3,60.7 24.3,60.7 21.9,65.7 27.2,70.2 27.9,69.9 31.5,64.4" fill="#a9aead" stroke="#a9aead" stroke-width="1.6" stroke-linejoin="round"/>
    <polygon points="168.4,142.3 162.4,140.7 161.2,139.4 161.9,132.4 164.4,130.5 165.2,130.7 168.9,133.4" fill="#c4c7c5" stroke="#c4c7c5" stroke-width="1.6" stroke-linejoin="round"/>
    <polygon points="52.8,11.0 50.3,8.6 45.7,7.9 44.0,12.1 48.8,16.0" fill="#adb2b1" stroke="#adb2b1" stroke-width="1.6" stroke-linejoin="round"/>
    <polygon points="35.0,25.0 35.8,23.9 45.0,25.3 43.3,33.1 38.9,34.2 36.9,33.4" fill="#7e8586" stroke="#7e8586" stroke-width="1.6" stroke-linejoin="round"/>
    <polygon points="125.0,121.4 123.5,120.6 119.5,114.6 120.8,112.6 127.5,110.8 130.7,114.6 131.0,116.9" fill="#b6bab9" stroke="#b6bab9" stroke-width="1.6" stroke-linejoin="round"/>
    <polygon points="54.8,12.8 50.8,18.0 50.0,21.9 55.4,23.8 59.8,20.9 60.3,17.4 55.9,12.9" fill="#bfc3c2" stroke="#bfc3c2" stroke-width="1.6" stroke-linejoin="round"/>
    <polygon points="49.8,85.2 44.3,86.8 43.6,87.8 44.6,91.3 50.4,94.9 51.2,94.4" fill="#8c9293" stroke="#8c9293" stroke-width="1.6" stroke-linejoin="round"/>
    <polygon points="117.5,102.7 115.1,101.5 116.5,96.6 121.7,95.7 123.5,99.3" fill="#9a9fa0" stroke="#9a9fa0" stroke-width="1.6" stroke-linejoin="round"/>
    <polygon points="158.4,85.2 153.9,87.9 146.9,80.9 146.9,80.8 147.1,80.4 151.7,78.6 157.3,80.1" fill="#b9bdbc" stroke="#b9bdbc" stroke-width="1.6" stroke-linejoin="round"/>
    <polygon points="4.9,145.3 2.8,144.9 1.1,143.2 1.4,134.4 7.1,135.1 7.4,143.4 7.2,143.8" fill="#a5aaa9" stroke="#a5aaa9" stroke-width="1.6" stroke-linejoin="round"/>
    <polygon points="39.6,107.7 40.8,104.2 48.0,103.9 49.0,107.8 44.9,112.9 43.3,113.6 41.5,112.0" fill="#cbcecc" stroke="#cbcecc" stroke-width="1.6" stroke-linejoin="round"/>
    <polygon points="91.9,17.2 84.9,22.1 85.8,24.7 91.2,26.3 95.5,21.8" fill="#a9aead" stroke="#a9aead" stroke-width="1.6" stroke-linejoin="round"/>
    <polygon points="92.5,131.1 93.9,132.3 95.8,138.9 88.8,142.4 88.3,142.3 87.5,138.1 90.5,131.8" fill="#c4c7c5" stroke="#c4c7c5" stroke-width="1.6" stroke-linejoin="round"/>
    <polygon points="146.8,151.2 145.7,151.0 145.3,149.5 146.1,144.6 148.7,142.1 152.1,144.3 151.0,149.7" fill="#adb2b1" stroke="#adb2b1" stroke-width="1.6" stroke-linejoin="round"/>
    <polygon points="128.9,99.7 133.4,98.0 134.3,92.9 131.5,90.1 125.9,89.8 124.9,94.4 126.6,97.9" fill="#7e8586" stroke="#7e8586" stroke-width="1.6" stroke-linejoin="round"/>
    <polygon points="14.1,116.3 13.0,118.2 6.7,118.5 5.5,115.5 9.9,113.2 13.8,115.1" fill="#b6bab9" stroke="#b6bab9" stroke-width="1.6" stroke-linejoin="round"/>
    <polygon points="43.0,68.4 49.1,70.5 47.9,75.0 41.9,74.9 40.7,74.0 41.5,69.1" fill="#bfc3c2" stroke="#bfc3c2" stroke-width="1.6" stroke-linejoin="round"/>
    <polygon points="114.8,124.0 121.0,121.7 117.1,116.0 114.7,116.6 112.4,122.6" fill="#8c9293" stroke="#8c9293" stroke-width="1.6" stroke-linejoin="round"/>
    <polygon points="66.3,117.9 65.8,112.6 62.4,109.6 59.1,111.0 58.2,118.9 63.6,119.7" fill="#9a9fa0" stroke="#9a9fa0" stroke-width="1.6" stroke-linejoin="round"/>
    <polygon points="35.3,145.4 43.6,143.2 43.6,143.2 44.4,134.3 35.9,135.0 32.4,142.0 33.2,144.3" fill="#b9bdbc" stroke="#b9bdbc" stroke-width="1.6" stroke-linejoin="round"/>
    <polygon points="96.4,131.9 103.9,130.5 106.7,135.3 103.8,139.5 101.6,140.1 99.0,138.5" fill="#a5aaa9" stroke="#a5aaa9" stroke-width="1.6" stroke-linejoin="round"/>
    <polygon points="31.5,113.0 32.0,108.5 36.5,108.6 38.5,112.9 32.6,114.2" fill="#cbcecc" stroke="#cbcecc" stroke-width="1.6" stroke-linejoin="round"/>
    <polygon points="108.7,45.5 104.6,44.9 102.4,47.8 104.9,51.8 106.8,50.8 109.5,47.1" fill="#a9aead" stroke="#a9aead" stroke-width="1.6" stroke-linejoin="round"/>
    <polygon points="87.7,-3.9 87.2,-4.1 82.7,-1.8 84.0,5.7 87.7,5.5 90.2,0.9" fill="#c4c7c5" stroke="#c4c7c5" stroke-width="1.6" stroke-linejoin="round"/>
    <polygon points="94.6,128.3 95.6,120.7 102.2,121.5 104.5,124.6 103.0,127.6 96.2,129.3" fill="#adb2b1" stroke="#adb2b1" stroke-width="1.6" stroke-linejoin="round"/>
    <polygon points="156.3,111.2 159.1,106.9 157.6,101.3 156.4,100.7 151.6,106.4" fill="#7e8586" stroke="#7e8586" stroke-width="1.6" stroke-linejoin="round"/>
    <polygon points="151.0,39.0 152.8,39.4 158.4,35.5 158.2,30.8 157.4,29.7 149.9,31.2 149.0,32.3" fill="#b6bab9" stroke="#b6bab9" stroke-width="1.6" stroke-linejoin="round"/>
    <polygon points="153.8,12.1 151.4,10.2 147.9,4.0 152.7,2.6 154.8,4.0 156.0,10.0" fill="#bfc3c2" stroke="#bfc3c2" stroke-width="1.6" stroke-linejoin="round"/>
    <polygon points="81.7,6.2 80.2,-1.0 75.5,-2.7 73.4,2.2 76.9,7.2 80.0,7.6" fill="#8c9293" stroke="#8c9293" stroke-width="1.6" stroke-linejoin="round"/>
    <polygon points="44.9,4.2 45.3,4.8 50.5,5.5 51.3,-1.8 45.9,-4.3 45.8,-4.3" fill="#9a9fa0" stroke="#9a9fa0" stroke-width="1.6" stroke-linejoin="round"/>
    <polygon points="94.0,46.3 93.8,46.5 86.7,46.7 85.9,40.9 85.9,40.9 91.8,39.8 92.8,40.8" fill="#b9bdbc" stroke="#b9bdbc" stroke-width="1.6" stroke-linejoin="round"/>
    <polygon points="125.6,127.4 121.6,134.9 127.6,139.1 128.8,139.2 129.9,132.2" fill="#a5aaa9" stroke="#a5aaa9" stroke-width="1.6" stroke-linejoin="round"/>
    <polygon points="164.4,64.6 163.1,61.2 162.9,61.0 157.8,61.3 155.8,67.2 161.8,68.7" fill="#cbcecc" stroke="#cbcecc" stroke-width="1.6" stroke-linejoin="round"/>
    <polygon points="55.1,9.1 53.2,6.1 53.8,-1.0 58.5,-2.6 61.8,3.9 56.2,9.1" fill="#a9aead" stroke="#a9aead" stroke-width="1.6" stroke-linejoin="round"/>
    <polygon points="140.6,22.3 142.3,22.0 145.3,23.4 146.8,29.0 146.0,30.1 139.6,30.6 137.9,25.3" fill="#c4c7c5" stroke="#c4c7c5" stroke-width="1.6" stroke-linejoin="round"/>
    <polygon points="110.5,32.8 113.3,36.2 118.8,36.4 121.1,31.9 114.3,28.9" fill="#adb2b1" stroke="#adb2b1" stroke-width="1.6" stroke-linejoin="round"/>
    <polygon points="124.3,55.6 117.4,54.1 115.1,57.4 115.2,57.9 120.8,60.2 121.1,60.2" fill="#7e8586" stroke="#7e8586" stroke-width="1.6" stroke-linejoin="round"/>
    <polygon points="82.6,49.9 83.5,47.9 83.4,41.8 75.2,45.2 76.6,49.4 81.6,50.4" fill="#b6bab9" stroke="#b6bab9" stroke-width="1.6" stroke-linejoin="round"/>
    <polygon points="92.5,116.0 84.7,114.8 85.9,106.4 88.7,104.1 93.7,111.1" fill="#bfc3c2" stroke="#bfc3c2" stroke-width="1.6" stroke-linejoin="round"/>
    <polygon points="111.9,43.8 113.2,39.2 119.0,39.2 120.1,42.3 119.4,43.5 115.1,45.8 112.8,45.4" fill="#8c9293" stroke="#8c9293" stroke-width="1.6" stroke-linejoin="round"/>
    <polygon points="101.3,2.1 100.2,-2.2 95.4,1.4 99.5,4.6" fill="#9a9fa0" stroke="#9a9fa0" stroke-width="1.6" stroke-linejoin="round"/>
    <polygon points="117.5,110.7 116.6,112.6 114.1,112.9 110.0,111.4 110.8,105.0 113.7,104.4 115.9,106.1" fill="#b9bdbc" stroke="#b9bdbc" stroke-width="1.6" stroke-linejoin="round"/>
    <polygon points="141.8,127.2 148.4,125.2 152.2,129.9 147.6,133.8 142.9,131.6 141.3,128.7" fill="#a5aaa9" stroke="#a5aaa9" stroke-width="1.6" stroke-linejoin="round"/>
    <polygon points="40.9,56.6 34.4,62.0 35.2,63.5 39.9,65.8 41.4,65.0 43.8,59.2" fill="#cbcecc" stroke="#cbcecc" stroke-width="1.6" stroke-linejoin="round"/>
    <polygon points="139.8,18.7 141.4,18.4 142.2,14.5 139.7,10.1 136.2,13.8" fill="#a9aead" stroke="#a9aead" stroke-width="1.6" stroke-linejoin="round"/>
    <polygon points="112.7,126.9 113.7,132.7 108.9,133.1 106.5,128.6 107.6,125.8 110.5,125.5" fill="#c4c7c5" stroke="#c4c7c5" stroke-width="1.6" stroke-linejoin="round"/>
    <polygon points="112.7,65.1 112.5,62.5 113.7,59.9 120.1,62.0 114.9,65.8" fill="#adb2b1" stroke="#adb2b1" stroke-width="1.6" stroke-linejoin="round"/>
    <polygon points="74.6,43.0 72.6,41.6 74.9,34.8 79.8,34.5 82.4,39.7 82.4,39.7" fill="#7e8586" stroke="#7e8586" stroke-width="1.6" stroke-linejoin="round"/>
    <polygon points="144.5,67.3 152.3,69.4 150.4,75.3 145.8,78.0 144.0,71.2" fill="#b6bab9" stroke="#b6bab9" stroke-width="1.6" stroke-linejoin="round"/>
    <polygon points="150.5,117.8 154.8,114.7 154.4,113.0 150.0,108.7 145.9,108.2 146.7,114.4" fill="#bfc3c2" stroke="#bfc3c2" stroke-width="1.6" stroke-linejoin="round"/>
    <polygon points="20.2,43.5 23.9,45.3 28.1,45.0 28.3,39.2 23.3,36.3 20.5,39.7" fill="#8c9293" stroke="#8c9293" stroke-width="1.6" stroke-linejoin="round"/>
    <polygon points="141.4,8.1 144.0,12.0 149.0,10.9 145.5,4.7 144.5,4.5 141.7,7.5" fill="#9a9fa0" stroke="#9a9fa0" stroke-width="1.6" stroke-linejoin="round"/>
    <polygon points="15.3,148.6 18.5,147.1 17.6,143.4 16.5,142.7 11.0,144.6 10.6,145.0" fill="#b9bdbc" stroke="#b9bdbc" stroke-width="1.6" stroke-linejoin="round"/>
    <polygon points="30.0,140.4 27.9,139.0 24.5,133.1 25.2,132.2 30.5,130.7 33.3,133.7" fill="#a5aaa9" stroke="#a5aaa9" stroke-width="1.6" stroke-linejoin="round"/>
    <polygon points="59.1,82.1 60.1,81.4 67.1,80.2 69.3,84.7 62.2,91.0" fill="#cbcecc" stroke="#cbcecc" stroke-width="1.6" stroke-linejoin="round"/>
    <polygon points="49.7,96.9 43.3,94.0 39.0,97.6 41.1,101.3 47.7,101.2" fill="#a9aead" stroke="#a9aead" stroke-width="1.6" stroke-linejoin="round"/>
    <polygon points="173.2,119.9 172.7,121.0 166.3,127.1 165.3,127.0 163.9,119.4 169.8,115.1 172.4,116.8" fill="#c4c7c5" stroke="#c4c7c5" stroke-width="1.6" stroke-linejoin="round"/>
    <polygon points="41.1,46.2 40.3,37.3 44.3,36.2 44.9,36.8 47.1,44.0" fill="#adb2b1" stroke="#adb2b1" stroke-width="1.6" stroke-linejoin="round"/>
    <polygon points="67.9,142.3 62.2,143.8 61.0,146.0 64.5,152.0 65.3,152.2 70.2,150.4 72.9,146.0 72.5,145.2" fill="#7e8586" stroke="#7e8586" stroke-width="1.6" stroke-linejoin="round"/>
    <polygon points="13.5,54.4 9.5,50.9 6.3,55.6 9.2,59.0 13.8,54.8" fill="#b6bab9" stroke="#b6bab9" stroke-width="1.6" stroke-linejoin="round"/>
    <polygon points="100.8,41.1 95.7,40.7 96.7,46.2 99.9,45.9 101.8,43.4" fill="#bfc3c2" stroke="#bfc3c2" stroke-width="1.6" stroke-linejoin="round"/>
    <polygon points="94.5,15.7 98.0,19.8 101.3,20.3 104.0,17.9 102.1,13.9 99.4,12.1 94.8,13.8" fill="#8c9293" stroke="#8c9293" stroke-width="1.6" stroke-linejoin="round"/>
    <polygon points="13.2,130.4 17.7,132.3 21.1,131.5 21.8,130.6 20.2,126.5 15.9,125.8 13.3,129.9" fill="#9a9fa0" stroke="#9a9fa0" stroke-width="1.6" stroke-linejoin="round"/>
    <polygon points="149.8,42.5 151.6,42.9 154.9,48.2 150.8,53.7 147.9,53.8 144.5,46.8 144.7,46.1" fill="#b9bdbc" stroke="#b9bdbc" stroke-width="1.6" stroke-linejoin="round"/>
    <polygon points="18.4,37.0 21.2,34.1 20.8,31.6 14.4,29.2 11.9,35.4" fill="#a5aaa9" stroke="#a5aaa9" stroke-width="1.6" stroke-linejoin="round"/>
    <polygon points="36.2,5.3 33.2,10.6 35.5,13.4 40.8,11.2 42.7,7.3 42.3,6.8" fill="#cbcecc" stroke="#cbcecc" stroke-width="1.6" stroke-linejoin="round"/>
    <polygon points="158.4,46.6 157.5,46.6 154.3,41.7 159.8,38.0 161.8,39.7 161.8,43.3" fill="#a9aead" stroke="#a9aead" stroke-width="1.6" stroke-linejoin="round"/>
    <polygon points="26.0,112.1 23.7,108.5 27.9,106.4 29.4,108.0 28.9,112.3" fill="#c4c7c5" stroke="#c4c7c5" stroke-width="1.6" stroke-linejoin="round"/>
    <polygon points="145.7,82.3 143.7,90.1 147.6,93.2 151.9,92.8 152.7,89.7" fill="#adb2b1" stroke="#adb2b1" stroke-width="1.6" stroke-linejoin="round"/>
    <polygon points="81.6,20.4 74.9,19.1 72.2,14.6 76.6,10.9 79.8,10.9" fill="#7e8586" stroke="#7e8586" stroke-width="1.6" stroke-linejoin="round"/>
    <polygon points="1.4,38.2 2.6,43.5 7.1,43.5 7.4,37.7 3.0,36.0" fill="#b6bab9" stroke="#b6bab9" stroke-width="1.6" stroke-linejoin="round"/>
    <polygon points="164.4,89.2 159.8,87.9 156.0,90.9 155.2,93.8 157.3,97.1 158.5,97.6 163.8,96.6" fill="#bfc3c2" stroke="#bfc3c2" stroke-width="1.6" stroke-linejoin="round"/>
    <polygon points="131.4,26.2 134.9,26.6 136.7,31.7 134.6,35.5 133.7,35.6 126.2,30.7 127.4,28.4" fill="#8c9293" stroke="#8c9293" stroke-width="1.6" stroke-linejoin="round"/>
    <polygon points="138.7,120.0 144.7,117.1 148.6,120.1 147.8,122.7 141.3,124.7" fill="#9a9fa0" stroke="#9a9fa0" stroke-width="1.6" stroke-linejoin="round"/>
    <polygon points="18.2,46.5 16.7,52.6 16.7,53.2 20.4,55.0 22.3,48.2 18.5,46.2" fill="#b9bdbc" stroke="#b9bdbc" stroke-width="1.6" stroke-linejoin="round"/>
    <polygon points="168.7,50.1 171.5,55.5 165.2,58.0 165.0,57.8 165.0,53.9" fill="#a5aaa9" stroke="#a5aaa9" stroke-width="1.6" stroke-linejoin="round"/>
    <polygon points="29.7,145.1 24.8,148.4 21.8,147.0 21.0,143.0 26.8,142.5 28.8,143.1" fill="#cbcecc" stroke="#cbcecc" stroke-width="1.6" stroke-linejoin="round"/>
    <polygon points="143.6,81.7 136.8,82.1 134.0,87.7 136.9,90.5 140.9,88.5 143.6,81.7" fill="#a9aead" stroke="#a9aead" stroke-width="1.6" stroke-linejoin="round"/>
    <polygon points="7.4,15.0 6.9,14.6 1.6,20.9 3.1,24.8 9.5,23.4" fill="#c4c7c5" stroke="#c4c7c5" stroke-width="1.6" stroke-linejoin="round"/>
    <polygon points="36.3,131.7 33.2,128.9 33.3,124.9 40.9,123.3 44.5,131.4 44.0,131.9" fill="#adb2b1" stroke="#adb2b1" stroke-width="1.6" stroke-linejoin="round"/>
    <polygon points="21.7,116.1 17.5,115.2 17.4,114.0 19.9,109.5 21.3,109.7 23.4,113.5" fill="#7e8586" stroke="#7e8586" stroke-width="1.6" stroke-linejoin="round"/>
    <polygon points="123.9,7.3 120.4,5.2 115.6,8.7 116.5,11.4 120.7,14.8 122.0,13.9" fill="#b6bab9" stroke="#b6bab9" stroke-width="1.6" stroke-linejoin="round"/>
    <polygon points="126.8,123.6 132.9,119.1 135.6,121.2 138.3,125.8 137.8,127.4 131.8,129.1 127.2,125.3" fill="#bfc3c2" stroke="#bfc3c2" stroke-width="1.6" stroke-linejoin="round"/>
    <polygon points="46.6,59.6 51.4,59.1 53.8,63.4 52.4,67.0 50.6,68.1 44.3,65.9" fill="#8c9293" stroke="#8c9293" stroke-width="1.6" stroke-linejoin="round"/>
    <polygon points="-3.9,59.9 -2.1,64.0 2.4,65.2 6.8,62.6 6.7,60.9 3.8,57.7 3.1,57.6" fill="#9a9fa0" stroke="#9a9fa0" stroke-width="1.6" stroke-linejoin="round"/>
    <polygon points="85.6,143.7 80.8,145.4 76.4,144.7 76.1,144.0 79.6,137.9 84.2,139.9" fill="#b9bdbc" stroke="#b9bdbc" stroke-width="1.6" stroke-linejoin="round"/>
    <polygon points="105.5,12.8 110.3,8.6 112.5,9.4 112.8,12.3 108.5,17.1 106.8,16.9" fill="#a5aaa9" stroke="#a5aaa9" stroke-width="1.6" stroke-linejoin="round"/>
    <polygon points="29.0,78.9 26.8,76.8 28.1,73.7 28.7,73.5 34.7,76.1 32.6,79.2" fill="#cbcecc" stroke="#cbcecc" stroke-width="1.6" stroke-linejoin="round"/>
    <polygon points="26.1,86.2 23.3,86.7 22.0,85.8 22.4,80.1 24.7,79.0 26.8,81.7" fill="#a9aead" stroke="#a9aead" stroke-width="1.6" stroke-linejoin="round"/>
    <polygon points="3.3,83.4 3.5,78.1 4.5,77.1 12.1,76.1 12.5,76.8 10.9,84.1" fill="#c4c7c5" stroke="#c4c7c5" stroke-width="1.6" stroke-linejoin="round"/>
    <polygon points="62.4,122.7 57.1,122.0 55.9,122.7 52.5,129.8 56.5,131.4 62.4,128.6" fill="#adb2b1" stroke="#adb2b1" stroke-width="1.6" stroke-linejoin="round"/>
    <polygon points="138.1,141.6 134.0,143.1 134.8,144.8 142.5,149.2 143.2,143.4" fill="#7e8586" stroke="#7e8586" stroke-width="1.6" stroke-linejoin="round"/>
    <polygon points="39.5,54.8 38.3,50.6 33.1,50.6 30.2,57.8 33.1,60.1" fill="#b6bab9" stroke="#b6bab9" stroke-width="1.6" stroke-linejoin="round"/>
    <polygon points="93.7,70.4 93.8,71.1 87.7,76.6 85.7,76.2 84.5,74.0 87.3,67.0" fill="#bfc3c2" stroke="#bfc3c2" stroke-width="1.6" stroke-linejoin="round"/>
    <polygon points="98.3,60.4 94.0,59.2 92.4,59.7 88.6,64.4 88.6,64.4 94.9,67.7 98.2,62.1" fill="#8c9293" stroke="#8c9293" stroke-width="1.6" stroke-linejoin="round"/>
    <polygon points="119.6,146.6 126.0,141.0 119.7,136.9 117.8,136.9 116.3,144.4" fill="#9a9fa0" stroke="#9a9fa0" stroke-width="1.6" stroke-linejoin="round"/>
    <polygon points="50.5,81.2 48.6,77.8 42.5,77.5 44.4,83.9 49.2,82.3" fill="#b9bdbc" stroke="#b9bdbc" stroke-width="1.6" stroke-linejoin="round"/>
    <polygon points="141.7,65.9 141.0,63.3 137.1,62.5 133.4,67.0 135.2,70.6 140.9,69.2" fill="#a5aaa9" stroke="#a5aaa9" stroke-width="1.6" stroke-linejoin="round"/>
    <polygon points="20.2,-0.1 17.0,1.6 17.4,4.0 22.3,8.6 22.5,8.4 23.0,1.5" fill="#cbcecc" stroke="#cbcecc" stroke-width="1.6" stroke-linejoin="round"/>
    <polygon points="116.3,48.4 118.5,51.7 124.6,53.7 124.6,53.7 121.1,45.8" fill="#a9aead" stroke="#a9aead" stroke-width="1.6" stroke-linejoin="round"/>
    <polygon points="128.6,15.5 124.4,14.3 126.2,8.0 127.0,7.9 132.6,12.7" fill="#c4c7c5" stroke="#c4c7c5" stroke-width="1.6" stroke-linejoin="round"/>
    <polygon points="28.7,86.8 29.4,82.3 32.9,82.3 33.9,85.7 31.5,88.1" fill="#adb2b1" stroke="#adb2b1" stroke-width="1.6" stroke-linejoin="round"/>
    <polygon points="6.6,97.3 2.3,100.9 2.6,102.5 9.2,104.1 13.5,101.3 13.6,100.0 11.0,97.0" fill="#7e8586" stroke="#7e8586" stroke-width="1.6" stroke-linejoin="round"/>
    <polygon points="115.6,77.4 109.7,76.8 108.9,79.2 112.1,84.3 116.6,81.9" fill="#b6bab9" stroke="#b6bab9" stroke-width="1.6" stroke-linejoin="round"/>
    <polygon points="24.4,117.7 26.2,115.5 28.8,115.5 29.9,116.5 29.6,120.6 25.4,119.8" fill="#bfc3c2" stroke="#bfc3c2" stroke-width="1.6" stroke-linejoin="round"/>
    <polygon points="22.6,55.6 24.0,57.6 28.0,57.0 30.8,50.0 28.8,47.9 24.7,48.9" fill="#8c9293" stroke="#8c9293" stroke-width="1.6" stroke-linejoin="round"/>
    <polygon points="92.5,87.8 90.9,81.2 98.0,81.6 98.7,82.5 99.0,86.5 98.6,87.1" fill="#9a9fa0" stroke="#9a9fa0" stroke-width="1.6" stroke-linejoin="round"/>
    <polygon points="16.4,45.7 14.6,52.3 10.8,48.6 9.9,46.3" fill="#b9bdbc" stroke="#b9bdbc" stroke-width="1.6" stroke-linejoin="round"/>
    <polygon points="124.1,67.3 122.0,63.5 121.8,63.6 117.1,67.6 118.9,72.3 123.1,70.3" fill="#a5aaa9" stroke="#a5aaa9" stroke-width="1.6" stroke-linejoin="round"/>
    <polygon points="101.1,79.6 105.4,77.9 106.6,75.8 105.5,72.7 100.5,74.5 100.4,78.7" fill="#cbcecc" stroke="#cbcecc" stroke-width="1.6" stroke-linejoin="round"/>
    <polygon points="120.3,109.9 126.7,107.8 127.2,102.7 124.9,101.1 118.8,104.7" fill="#a9aead" stroke="#a9aead" stroke-width="1.6" stroke-linejoin="round"/>
    <polygon points="52.2,42.2 53.4,37.1 46.8,36.5 49.2,43.7 50.6,44.2" fill="#c4c7c5" stroke="#c4c7c5" stroke-width="1.6" stroke-linejoin="round"/>
    <polygon points="15.1,112.7 11.0,110.2 11.3,106.8 14.9,103.5 17.9,107.8" fill="#adb2b1" stroke="#adb2b1" stroke-width="1.6" stroke-linejoin="round"/>
    <polygon points="79.8,126.3 75.0,128.8 73.5,130.9 78.6,133.3 81.4,128.3" fill="#7e8586" stroke="#7e8586" stroke-width="1.6" stroke-linejoin="round"/>
    <polygon points="111.8,48.5 109.1,52.2 113.0,55.4 114.8,51.9 113.7,49.3" fill="#b6bab9" stroke="#b6bab9" stroke-width="1.6" stroke-linejoin="round"/>
    <polygon points="31.8,105.3 36.6,105.6 37.9,102.4 35.9,98.9 33.0,97.9 30.2,100.1 30.0,103.7" fill="#bfc3c2" stroke="#bfc3c2" stroke-width="1.6" stroke-linejoin="round"/>
    <polygon points="163.9,4.5 161.0,2.5 157.4,3.5 158.7,9.8 163.7,9.3 164.6,8.5" fill="#8c9293" stroke="#8c9293" stroke-width="1.6" stroke-linejoin="round"/>
    <polygon points="139.3,5.4 142.8,2.3 141.9,1.0 134.2,-3.4 133.1,1.9" fill="#9a9fa0" stroke="#9a9fa0" stroke-width="1.6" stroke-linejoin="round"/>
    <polygon points="19.0,139.9 20.0,140.6 25.9,140.1 22.2,134.2 19.0,135.6" fill="#b9bdbc" stroke="#b9bdbc" stroke-width="1.6" stroke-linejoin="round"/>
    <polygon points="54.9,44.9 61.8,45.2 61.2,50.2 54.6,51.7 52.4,46.5" fill="#a5aaa9" stroke="#a5aaa9" stroke-width="1.6" stroke-linejoin="round"/>
    <polygon points="101.6,60.7 102.6,60.2 108.8,62.3 109.7,65.6 106.3,67.9 102.0,62.4" fill="#cbcecc" stroke="#cbcecc" stroke-width="1.6" stroke-linejoin="round"/>
    <polygon points="63.7,35.5 68.7,31.6 72.1,34.3 70.1,40.8 65.4,41.4" fill="#a9aead" stroke="#a9aead" stroke-width="1.6" stroke-linejoin="round"/>
    <polygon points="167.7,47.6 164.1,45.6 160.0,48.4 163.9,51.0 167.4,48.3" fill="#c4c7c5" stroke="#c4c7c5" stroke-width="1.6" stroke-linejoin="round"/>
    <polygon points="2.7,86.8 6.2,93.9 11.0,93.9 11.8,88.4 10.5,86.9 3.4,85.9" fill="#adb2b1" stroke="#adb2b1" stroke-width="1.6" stroke-linejoin="round"/>
    <polygon points="20.0,19.6 23.9,25.4 21.3,29.1 15.0,26.9 13.7,25.2" fill="#7e8586" stroke="#7e8586" stroke-width="1.6" stroke-linejoin="round"/>
    <polygon points="141.0,45.0 140.9,45.7 132.7,50.6 131.8,42.6 134.8,39.2 135.7,39.0" fill="#b6bab9" stroke="#b6bab9" stroke-width="1.6" stroke-linejoin="round"/>
    <polygon points="160.4,27.5 161.3,28.5 169.4,28.1 170.4,26.3 168.4,22.7 165.5,21.6 160.8,24.1" fill="#bfc3c2" stroke="#bfc3c2" stroke-width="1.6" stroke-linejoin="round"/>
    <polygon points="80.7,53.2 78.5,59.5 75.4,60.6 71.2,55.9 75.3,52.0" fill="#8c9293" stroke="#8c9293" stroke-width="1.6" stroke-linejoin="round"/>
    <polygon points="143.8,19.2 147.2,20.3 152.1,17.2 152.4,14.8 149.8,13.7 145.6,14.9" fill="#9a9fa0" stroke="#9a9fa0" stroke-width="1.6" stroke-linejoin="round"/>
    <polygon points="97.7,99.3 101.7,101.7 104.8,100.7 104.2,97.9 100.9,95.4" fill="#b9bdbc" stroke="#b9bdbc" stroke-width="1.6" stroke-linejoin="round"/>
    <polygon points="170.0,146.8 165.5,151.4 162.2,149.7 162.9,144.0 167.9,145.3" fill="#a5aaa9" stroke="#a5aaa9" stroke-width="1.6" stroke-linejoin="round"/>
    <polygon points="80.8,115.6 75.2,109.2 76.9,105.2 83.4,106.2 82.4,114.5" fill="#cbcecc" stroke="#cbcecc" stroke-width="1.6" stroke-linejoin="round"/>
    <polygon points="79.2,124.0 79.2,119.7 70.7,120.4 74.0,126.6" fill="#a9aead" stroke="#a9aead" stroke-width="1.6" stroke-linejoin="round"/>
    <polygon points="32.4,121.2 33.1,122.4 39.9,120.7 41.4,116.3 39.2,115.1 33.3,116.8" fill="#c4c7c5" stroke="#c4c7c5" stroke-width="1.6" stroke-linejoin="round"/>
    <polygon points="127.1,68.8 130.8,69.0 132.1,72.2 131.2,75.5 129.1,75.4 126.0,72.0" fill="#adb2b1" stroke="#adb2b1" stroke-width="1.6" stroke-linejoin="round"/>
    <polygon points="115.2,24.2 120.3,20.5 123.8,27.2 122.9,29.3 122.0,29.7 115.7,26.9" fill="#7e8586" stroke="#7e8586" stroke-width="1.6" stroke-linejoin="round"/>
    <polygon points="55.5,68.1 56.9,64.6 61.1,64.3 65.4,69.3 58.7,70.5" fill="#b6bab9" stroke="#b6bab9" stroke-width="1.6" stroke-linejoin="round"/>
    <polygon points="93.0,55.9 93.7,49.1 86.8,49.3 85.8,51.7 91.1,56.1" fill="#bfc3c2" stroke="#bfc3c2" stroke-width="1.6" stroke-linejoin="round"/>
    <polygon points="86.7,91.9 79.9,89.2 79.1,87.2 84.6,79.5 86.6,80.2 88.1,81.7 89.4,88.1" fill="#8c9293" stroke="#8c9293" stroke-width="1.6" stroke-linejoin="round"/>
    <polygon points="83.3,129.7 88.6,130.8 85.0,137.1 80.9,135.1 80.8,134.5" fill="#9a9fa0" stroke="#9a9fa0" stroke-width="1.6" stroke-linejoin="round"/>
    <polygon points="171.5,74.9 170.6,76.0 164.7,74.2 163.9,71.0 166.8,66.9 171.1,68.5" fill="#b9bdbc" stroke="#b9bdbc" stroke-width="1.6" stroke-linejoin="round"/>
    <polygon points="95.7,32.9 94.4,37.3 95.6,38.2 100.7,38.0 103.4,33.1 102.1,32.2" fill="#a5aaa9" stroke="#a5aaa9" stroke-width="1.6" stroke-linejoin="round"/>
    <polygon points="170.3,44.2 168.8,45.4 165.4,43.1 164.5,39.6 169.0,39.1" fill="#cbcecc" stroke="#cbcecc" stroke-width="1.6" stroke-linejoin="round"/>
    <polygon points="9.2,-3.2 13.6,0.7 13.9,3.1 7.7,6.3 6.5,-1.7" fill="#a9aead" stroke="#a9aead" stroke-width="1.6" stroke-linejoin="round"/>
    <polygon points="110.0,121.9 106.9,122.6 105.1,119.2 107.3,114.7 108.3,114.3 112.4,115.7" fill="#c4c7c5" stroke="#c4c7c5" stroke-width="1.6" stroke-linejoin="round"/>
    <polygon points="139.7,139.3 144.8,141.1 147.2,139.5 146.9,136.5 142.3,134.5" fill="#adb2b1" stroke="#adb2b1" stroke-width="1.6" stroke-linejoin="round"/>
    <polygon points="82.3,160.5 84.0,159.1 87.5,159.2 91.3,163.2 90.8,165.0 83.7,170.2 83.6,170.1" fill="#b6bab9" stroke="#b6bab9" stroke-width="1.6" stroke-linejoin="round"/>
    <polygon points="35.8,147.9 36.6,152.5 42.7,154.3 44.0,145.3" fill="#c4c7c5" stroke="#c4c7c5" stroke-width="1.6" stroke-linejoin="round"/>
    <polygon points="108.7,156.8 107.2,154.4 103.6,154.3 101.6,156.7 101.1,159.1 103.8,160.9" fill="#8c9293" stroke="#8c9293" stroke-width="1.6" stroke-linejoin="round"/>
    <polygon points="5.4,156.9 5.1,158.9 -2.5,158.4 -2.7,153.6 1.9,148.5 4.2,148.9" fill="#9a9fa0" stroke="#9a9fa0" stroke-width="1.6" stroke-linejoin="round"/>
    <polygon points="134.4,161.2 137.6,158.3 137.9,157.6 132.1,153.8 128.5,156.6 134.4,161.2" fill="#b6bab9" stroke="#b6bab9" stroke-width="1.6" stroke-linejoin="round"/>
    <polygon points="97.8,156.5 93.8,153.2 92.8,153.0 89.9,157.1 93.5,161.1 97.9,159.1" fill="#adb2b1" stroke="#adb2b1" stroke-width="1.6" stroke-linejoin="round"/>
    <polygon points="67.7,163.1 62.4,165.3 58.0,160.7 63.5,155.6 64.2,155.8" fill="#b9bdbc" stroke="#b9bdbc" stroke-width="1.6" stroke-linejoin="round"/>
    <polygon points="14.6,155.9 21.1,160.3 18.6,163.0 9.6,162.2 9.1,162.0 8.1,160.4 8.7,158.7" fill="#a5aaa9" stroke="#a5aaa9" stroke-width="1.6" stroke-linejoin="round"/>
    <polygon points="113.9,156.1 118.8,152.8 117.9,149.4 114.7,147.6 112.3,147.9 110.4,152.6 111.7,155.2" fill="#adb2b1" stroke="#adb2b1" stroke-width="1.6" stroke-linejoin="round"/>
    <polygon points="74.5,158.9 71.3,153.6 66.1,155.2 69.7,162.3 70.4,162.5" fill="#7e8586" stroke="#7e8586" stroke-width="1.6" stroke-linejoin="round"/>
    <polygon points="33.1,148.5 33.3,153.4 31.0,159.2 24.7,158.7 26.1,151.1 31.2,147.1" fill="#8c9293" stroke="#8c9293" stroke-width="1.6" stroke-linejoin="round"/>
    <polygon points="52.8,161.0 48.8,166.0 44.0,162.1 45.7,157.9 50.3,158.6" fill="#adb2b1" stroke="#adb2b1" stroke-width="1.6" stroke-linejoin="round"/>
    <polygon points="87.7,146.1 90.2,150.9 87.7,155.5 84.0,155.7 82.7,148.2 87.2,145.9" fill="#c4c7c5" stroke="#c4c7c5" stroke-width="1.6" stroke-linejoin="round"/>
    <polygon points="156.0,160.0 154.8,154.0 152.7,152.6 147.9,154.0 151.4,160.2 153.8,162.1" fill="#bfc3c2" stroke="#bfc3c2" stroke-width="1.6" stroke-linejoin="round"/>
    <polygon points="76.9,157.2 73.4,152.2 75.5,147.3 80.2,149.0 81.7,156.2 80.0,157.6" fill="#8c9293" stroke="#8c9293" stroke-width="1.6" stroke-linejoin="round"/>
    <polygon points="45.9,145.7 51.3,148.2 50.5,155.5 45.3,154.8 44.9,154.2 45.8,145.7" fill="#9a9fa0" stroke="#9a9fa0" stroke-width="1.6" stroke-linejoin="round"/>
    <polygon points="55.1,159.1 53.2,156.1 53.8,149.0 58.5,147.4 61.8,153.9 56.2,159.1" fill="#a9aead" stroke="#a9aead" stroke-width="1.6" stroke-linejoin="round"/>
    <polygon points="100.2,147.8 95.4,151.4 99.5,154.6 101.3,152.1" fill="#9a9fa0" stroke="#9a9fa0" stroke-width="1.6" stroke-linejoin="round"/>
    <polygon points="149.0,160.9 144.0,162.0 141.4,158.1 141.7,157.5 144.5,154.5 145.5,154.7" fill="#9a9fa0" stroke="#9a9fa0" stroke-width="1.6" stroke-linejoin="round"/>
    <polygon points="40.8,161.2 35.5,163.4 33.2,160.6 36.2,155.3 42.3,156.8 42.7,157.3" fill="#cbcecc" stroke="#cbcecc" stroke-width="1.6" stroke-linejoin="round"/>
    <polygon points="115.6,158.7 120.4,155.2 123.9,157.3 122.0,163.9 120.7,164.8 116.5,161.4" fill="#b6bab9" stroke="#b6bab9" stroke-width="1.6" stroke-linejoin="round"/>
    <polygon points="112.5,159.4 112.8,162.3 108.5,167.1 106.8,166.9 105.5,162.8 110.3,158.6" fill="#a5aaa9" stroke="#a5aaa9" stroke-width="1.6" stroke-linejoin="round"/>
    <polygon points="17.4,154.0 22.3,158.6 22.5,158.4 23.0,151.5 20.2,149.9 17.0,151.6" fill="#cbcecc" stroke="#cbcecc" stroke-width="1.6" stroke-linejoin="round"/>
    <polygon points="132.6,162.7 127.0,157.9 126.2,158.0 124.4,164.3 128.6,165.5" fill="#c4c7c5" stroke="#c4c7c5" stroke-width="1.6" stroke-linejoin="round"/>
    <polygon points="158.7,159.8 163.7,159.3 164.6,158.5 163.9,154.5 161.0,152.5 157.4,153.5" fill="#8c9293" stroke="#8c9293" stroke-width="1.6" stroke-linejoin="round"/>
    <polygon points="139.3,155.4 133.1,151.9 134.2,146.6 141.9,151.0 142.8,152.3" fill="#9a9fa0" stroke="#9a9fa0" stroke-width="1.6" stroke-linejoin="round"/>
    <polygon points="13.9,153.1 7.7,156.3 6.5,148.3 9.2,146.8 13.6,150.7" fill="#a9aead" stroke="#a9aead" stroke-width="1.6" stroke-linejoin="round"/>
    <polygon points="186.1,-10.2 186.1,-15.0 181.7,-17.5 179.4,-15.6 179.9,-7.4" fill="#b9bdbc" stroke="#b9bdbc" stroke-width="1.6" stroke-linejoin="round"/>
    <polygon points="177.4,-6.6 177.1,-14.9 171.4,-15.6 171.1,-6.8 172.8,-5.1 174.9,-4.7 177.2,-6.2" fill="#a5aaa9" stroke="#a5aaa9" stroke-width="1.6" stroke-linejoin="round"/>
    <polygon points="170.7,87.8 166.9,89.6 166.7,96.4 170.2,99.1 173.8,95.1" fill="#cbcecc" stroke="#cbcecc" stroke-width="1.6" stroke-linejoin="round"/>
    <polygon points="176.6,120.5 176.4,121.7 181.0,128.2 183.3,123.7 182.8,120.7" fill="#a9aead" stroke="#a9aead" stroke-width="1.6" stroke-linejoin="round"/>
    <polygon points="173.6,113.4 171.3,111.9 170.5,108.6 171.6,104.9 177.9,106.9 177.7,110.7" fill="#cbcecc" stroke="#cbcecc" stroke-width="1.6" stroke-linejoin="round"/>
    <polygon points="173.8,33.0 172.9,29.4 173.8,27.6 179.9,26.3 180.5,26.6 181.5,28.4 179.3,34.3 178.6,34.8" fill="#7e8586" stroke="#7e8586" stroke-width="1.6" stroke-linejoin="round"/>
    <polygon points="179.7,43.9 179.9,44.0 186.4,43.6 186.8,43.5 187.1,39.6 180.9,37.7 180.2,38.1" fill="#bfc3c2" stroke="#bfc3c2" stroke-width="1.6" stroke-linejoin="round"/>
    <polygon points="167.3,3.6 171.9,-1.5 174.2,-1.1 175.4,6.9 175.1,8.9 167.5,8.4" fill="#9a9fa0" stroke="#9a9fa0" stroke-width="1.6" stroke-linejoin="round"/>
    <polygon points="176.7,131.7 179.4,130.3 179.5,129.9 174.7,123.0 167.4,128.9 172.2,131.5" fill="#8c9293" stroke="#8c9293" stroke-width="1.6" stroke-linejoin="round"/>
    <polygon points="178.1,10.4 179.1,12.0 179.6,12.2 188.6,13.0 191.1,10.3 184.6,5.9 178.7,8.7" fill="#a5aaa9" stroke="#a5aaa9" stroke-width="1.6" stroke-linejoin="round"/>
    <polygon points="179.9,142.6 186.1,139.8 186.1,135.0 181.7,132.5 179.4,134.4" fill="#b9bdbc" stroke="#b9bdbc" stroke-width="1.6" stroke-linejoin="round"/>
    <polygon points="182.2,73.6 174.2,74.7 174.0,67.9 178.6,65.2 182.8,68.8" fill="#bfc3c2" stroke="#bfc3c2" stroke-width="1.6" stroke-linejoin="round"/>
    <polygon points="172.9,46.9 171.3,47.9 171.2,48.6 173.7,53.8 174.4,54.1 177.1,49.0 177.0,46.5 176.9,46.4" fill="#a5aaa9" stroke="#a5aaa9" stroke-width="1.6" stroke-linejoin="round"/>
    <polygon points="172.8,144.9 174.9,145.3 177.2,143.8 177.4,143.4 177.1,135.1 171.4,134.4 171.1,143.2" fill="#a5aaa9" stroke="#a5aaa9" stroke-width="1.6" stroke-linejoin="round"/>
    <polygon points="176.7,118.5 183.0,118.2 184.1,116.3 183.8,115.1 179.9,113.2 175.5,115.5" fill="#b6bab9" stroke="#b6bab9" stroke-width="1.6" stroke-linejoin="round"/>
    <polygon points="183.5,54.4 183.8,54.8 179.2,59.0 176.3,55.6 179.5,50.9" fill="#b6bab9" stroke="#b6bab9" stroke-width="1.6" stroke-linejoin="round"/>
    <polygon points="172.6,43.5 171.4,38.2 173.0,36.0 177.4,37.7 177.1,43.5" fill="#b6bab9" stroke="#b6bab9" stroke-width="1.6" stroke-linejoin="round"/>
    <polygon points="176.9,14.6 171.6,20.9 173.1,24.8 179.5,23.4 177.4,15.0" fill="#c4c7c5" stroke="#c4c7c5" stroke-width="1.6" stroke-linejoin="round"/>
    <polygon points="176.8,62.6 176.7,60.9 173.8,57.7 173.1,57.6 166.1,59.9 167.9,64.0 172.4,65.2" fill="#9a9fa0" stroke="#9a9fa0" stroke-width="1.6" stroke-linejoin="round"/>
    <polygon points="182.1,76.1 182.5,76.8 180.9,84.1 173.3,83.4 173.5,78.1 174.5,77.1" fill="#c4c7c5" stroke="#c4c7c5" stroke-width="1.6" stroke-linejoin="round"/>
    <polygon points="176.6,97.3 172.3,100.9 172.6,102.5 179.2,104.1 183.5,101.3 183.6,100.0 181.0,97.0" fill="#7e8586" stroke="#7e8586" stroke-width="1.6" stroke-linejoin="round"/>
    <polygon points="186.4,45.7 179.9,46.3 180.8,48.6 184.6,52.3" fill="#b9bdbc" stroke="#b9bdbc" stroke-width="1.6" stroke-linejoin="round"/>
    <polygon points="185.1,112.7 187.9,107.8 184.9,103.5 181.3,106.8 181.0,110.2" fill="#adb2b1" stroke="#adb2b1" stroke-width="1.6" stroke-linejoin="round"/>
    <polygon points="172.7,86.8 176.2,93.9 181.0,93.9 181.8,88.4 180.5,86.9 173.4,85.9" fill="#adb2b1" stroke="#adb2b1" stroke-width="1.6" stroke-linejoin="round"/>
    <polygon points="179.2,-3.2 176.5,-1.7 177.7,6.3 183.9,3.1 183.6,0.7" fill="#a9aead" stroke="#a9aead" stroke-width="1.6" stroke-linejoin="round"/>
    <polygon points="171.9,148.5 167.3,153.6 167.5,158.4 175.1,158.9 175.4,156.9 174.2,148.9" fill="#9a9fa0" stroke="#9a9fa0" stroke-width="1.6" stroke-linejoin="round"/>
    <polygon points="184.6,155.9 191.1,160.3 188.6,163.0 179.6,162.2 179.1,162.0 178.1,160.4 178.7,158.7" fill="#a5aaa9" stroke="#a5aaa9" stroke-width="1.6" stroke-linejoin="round"/>
    <polygon points="179.2,146.8 183.6,150.7 183.9,153.1 177.7,156.3 176.5,148.3" fill="#a9aead" stroke="#a9aead" stroke-width="1.6" stroke-linejoin="round"/>
  </pattern>
</defs>

<rect width="2560" height="1429" fill="#fefefe"/>
<polygon points="1280.0,66.0 2147.0,569.0 2147.0,850.0 1282.0,1352.0 414.0,848.0 414.0,569.0" fill="url(#gSoilTop)" />
<clipPath id="clipSoil"><polygon points="1280.0,66.0 2147.0,569.0 2147.0,850.0 1282.0,1352.0 414.0,848.0 414.0,569.0"/></clipPath>
<g clip-path="url(#clipSoil)">
<polygon points="790.0,500.0 1420.0,135.0 1400.0,112.0 1290.0,100.0 1180.0,170.0 980.0,300.0 860.0,375.0 790.0,430.0" fill="#4b3a30" filter="url(#blur12)" opacity="0.35"/>
<polygon points="1305.0,92.0 1420.0,134.0 1335.0,186.0 1311.0,195.0 1311.0,118.0" fill="#2f221c" filter="url(#blur3)" opacity="0.75"/>
<polygon points="1110.0,255.0 1180.0,215.0 1215.0,235.0 1140.0,285.0" fill="#2f211a" filter="url(#blur6)" opacity="0.6"/>
<polygon points="533.0,602.0 548.0,590.0 717.0,581.0 720.0,722.0 668.0,742.0 640.0,735.0 600.0,692.0 560.0,652.0 536.0,622.0" fill="#44332a" filter="url(#blur3)" opacity="0.8"/>
<polygon points="600.0,700.0 668.0,742.0 720.0,722.0 722.0,760.0 690.0,770.0 640.0,740.0" fill="#4a382e" filter="url(#blur3)" opacity="0.6"/>
<polygon points="436.0,588.0 470.0,596.0 520.0,640.0 580.0,760.0 640.0,810.0 760.0,880.0 900.0,955.0 1010.0,1020.0 1070.0,1085.0 1050.0,1103.0 950.0,1032.0 800.0,957.0 650.0,866.0 556.0,812.0 500.0,707.0 452.0,622.0" fill="#836a58" filter="url(#blur6)" opacity="0.9"/>
<polygon points="428.0,578.0 520.0,588.0 540.0,640.0 600.0,720.0 660.0,820.0 760.0,880.0 700.0,890.0 600.0,830.0 556.0,806.0 500.0,700.0 452.0,618.0" fill="#8d705b" filter="url(#blur6)" opacity="0.6"/>
<polygon points="722.0,762.0 786.0,772.0 850.0,805.0 900.0,835.0 962.0,862.0 1000.0,890.0 1030.0,917.0 1073.0,935.0 1100.0,950.0 1136.0,962.0 1161.0,980.0 1205.0,1008.0 1249.0,1030.0 1249.0,1052.0 1200.0,1030.0 1120.0,975.0 1060.0,935.0 1018.0,912.0 961.0,903.0 905.0,897.0 848.0,889.0 790.0,856.0 752.0,803.0" fill="#3f2e25" filter="url(#blur3)" opacity="0.85"/>
<polygon points="1120.0,975.0 1200.0,1020.0 1160.0,1095.0 1115.0,1045.0 1080.0,1025.0 1050.0,1040.0 1040.0,1000.0" fill="#43312a" filter="url(#blur6)" opacity="0.6"/>
<polygon points="1330.0,1030.0 1440.0,1040.0 1500.0,1050.0 1520.0,1100.0 1470.0,1135.0 1440.0,1090.0 1360.0,1075.0" fill="#3f2d25" filter="url(#blur6)" opacity="0.6"/>
<polygon points="1925.0,425.0 1970.0,455.0 1955.0,560.0 1915.0,650.0 1890.0,720.0 1872.0,735.0 1872.0,640.0 1900.0,590.0 1925.0,545.0" fill="#33261f" filter="url(#blur6)" opacity="0.8"/>
<polygon points="1990.0,470.0 2147.0,569.0 2120.0,610.0 2080.0,690.0 2050.0,760.0 1990.0,810.0 1920.0,770.0 1895.0,730.0 1935.0,650.0 1975.0,560.0" fill="#3d2e27" filter="url(#blur12)" opacity="0.8"/>
<path d="M1965.0,500.0 C1961.7,515.0 1955.0,556.7 1945.0,590.0 C1935.0,623.3 1911.7,681.7 1905.0,700.0" fill="none" stroke="#2c201a" stroke-width="9" stroke-linejoin="round" stroke-linecap="round" opacity="0.45" filter="url(#blur3)"/>
<path d="M1981.0,506.0 C1977.7,521.0 1971.0,562.7 1961.0,596.0 C1951.0,629.3 1927.7,687.7 1921.0,706.0" fill="none" stroke="#6a5548" stroke-width="7" stroke-linejoin="round" stroke-linecap="round" opacity="0.35" filter="url(#blur3)"/>
<path d="M2000.0,520.0 C1996.2,536.2 1988.3,581.7 1977.5,617.5 C1966.7,653.3 1942.1,715.4 1935.0,735.0" fill="none" stroke="#2c201a" stroke-width="9" stroke-linejoin="round" stroke-linecap="round" opacity="0.45" filter="url(#blur3)"/>
<path d="M2016.0,526.0 C2012.2,542.2 2004.3,587.7 1993.5,623.5 C1982.7,659.3 1958.1,721.4 1951.0,741.0" fill="none" stroke="#6a5548" stroke-width="7" stroke-linejoin="round" stroke-linecap="round" opacity="0.35" filter="url(#blur3)"/>
<path d="M2035.0,545.0 C2030.8,561.2 2021.7,606.7 2010.0,642.5 C1998.3,678.3 1972.5,740.4 1965.0,760.0" fill="none" stroke="#2c201a" stroke-width="9" stroke-linejoin="round" stroke-linecap="round" opacity="0.45" filter="url(#blur3)"/>
<path d="M2051.0,551.0 C2046.8,567.2 2037.7,612.7 2026.0,648.5 C2014.3,684.3 1988.5,746.4 1981.0,766.0" fill="none" stroke="#6a5548" stroke-width="7" stroke-linejoin="round" stroke-linecap="round" opacity="0.35" filter="url(#blur3)"/>
<path d="M2065.0,565.0 C2060.8,581.2 2051.7,626.7 2040.0,662.5 C2028.3,698.3 2002.5,760.4 1995.0,780.0" fill="none" stroke="#2c201a" stroke-width="9" stroke-linejoin="round" stroke-linecap="round" opacity="0.45" filter="url(#blur3)"/>
<path d="M2081.0,571.0 C2076.8,587.2 2067.7,632.7 2056.0,668.5 C2044.3,704.3 2018.5,766.4 2011.0,786.0" fill="none" stroke="#6a5548" stroke-width="7" stroke-linejoin="round" stroke-linecap="round" opacity="0.35" filter="url(#blur3)"/>
<path d="M2095.0,585.0 C2091.2,600.4 2083.3,643.3 2072.5,677.5 C2061.7,711.7 2037.1,771.2 2030.0,790.0" fill="none" stroke="#2c201a" stroke-width="9" stroke-linejoin="round" stroke-linecap="round" opacity="0.45" filter="url(#blur3)"/>
<path d="M2111.0,591.0 C2107.2,606.4 2099.3,649.3 2088.5,683.5 C2077.7,717.7 2053.1,777.2 2046.0,796.0" fill="none" stroke="#6a5548" stroke-width="7" stroke-linejoin="round" stroke-linecap="round" opacity="0.35" filter="url(#blur3)"/>
<polygon points="1930.0,440.0 2147.0,565.0 2140.0,590.0 2060.0,560.0 1935.0,480.0" fill="#66544a" filter="url(#blur6)" opacity="0.55"/>
</g>
<path d="M414.0,569.0 C417.2,571.3 427.3,574.8 433.0,583.0 C438.7,591.2 440.8,603.3 448.0,618.0 C455.2,632.7 467.3,655.0 476.0,671.0 C484.7,687.0 491.7,698.2 500.0,714.0 C508.3,729.8 517.5,750.0 526.0,766.0 C534.5,782.0 542.7,800.2 551.0,810.0 C559.3,819.8 567.8,820.8 576.0,825.0 C584.2,829.2 587.7,827.2 600.0,835.0 C612.3,842.8 633.3,859.7 650.0,872.0 C666.7,884.3 675.0,893.7 700.0,909.0 C725.0,924.3 770.0,948.3 800.0,964.0 C830.0,979.7 855.0,990.5 880.0,1003.0 C905.0,1015.5 930.0,1027.5 950.0,1039.0 C970.0,1050.5 983.3,1060.2 1000.0,1072.0 C1016.7,1083.8 1033.3,1098.8 1050.0,1110.0 C1066.7,1121.2 1076.7,1125.3 1100.0,1139.0 C1123.3,1152.7 1159.8,1174.5 1190.0,1192.0 C1220.2,1209.5 1265.8,1235.3 1281.0,1244.0 L1282,1352 L414,848 Z" fill="url(#gLeftFace)" />
<path d="M2147.0,569.0 C2144.0,574.2 2135.5,588.2 2129.0,600.0 C2122.5,611.8 2114.7,627.3 2108.0,640.0 C2101.3,652.7 2096.3,657.5 2089.0,676.0 C2081.7,694.5 2072.3,731.8 2064.0,751.0 C2055.7,770.2 2051.7,778.3 2039.0,791.0 C2026.3,803.7 2013.3,811.3 1988.0,827.0 C1962.7,842.7 1923.8,862.8 1887.0,885.0 C1850.2,907.2 1801.5,938.3 1767.0,960.0 C1732.5,981.7 1707.8,997.3 1680.0,1015.0 C1652.2,1032.7 1623.5,1053.3 1600.0,1066.0 C1576.5,1078.7 1556.7,1083.5 1539.0,1091.0 C1521.3,1098.5 1513.3,1099.7 1494.0,1111.0 C1474.7,1122.3 1447.0,1143.7 1423.0,1159.0 C1399.0,1174.3 1373.7,1188.8 1350.0,1203.0 C1326.3,1217.2 1292.5,1237.2 1281.0,1244.0 L1282,1352 L2147,850 Z" fill="url(#gRightFace)" />
<polygon points="1280.0,66.0 2147.0,569.0 2147.0,850.0 1282.0,1352.0 414.0,848.0 414.0,569.0" fill="#000" filter="url(#fSoil)" opacity="0.55"/>
<path d="M414.0,569.0 C417.2,571.3 427.3,574.8 433.0,583.0 C438.7,591.2 440.8,603.3 448.0,618.0 C455.2,632.7 467.3,655.0 476.0,671.0 C484.7,687.0 491.7,698.2 500.0,714.0 C508.3,729.8 517.5,750.0 526.0,766.0 C534.5,782.0 542.7,800.2 551.0,810.0 C559.3,819.8 567.8,820.8 576.0,825.0 C584.2,829.2 587.7,827.2 600.0,835.0 C612.3,842.8 633.3,859.7 650.0,872.0 C666.7,884.3 675.0,893.7 700.0,909.0 C725.0,924.3 770.0,948.3 800.0,964.0 C830.0,979.7 855.0,990.5 880.0,1003.0 C905.0,1015.5 930.0,1027.5 950.0,1039.0 C970.0,1050.5 983.3,1060.2 1000.0,1072.0 C1016.7,1083.8 1033.3,1098.8 1050.0,1110.0 C1066.7,1121.2 1076.7,1125.3 1100.0,1139.0 C1123.3,1152.7 1159.8,1174.5 1190.0,1192.0 C1220.2,1209.5 1265.8,1235.3 1281.0,1244.0" fill="none" stroke="#21120a" stroke-width="2.2" stroke-linejoin="round" stroke-linecap="round" />
<path d="M2147.0,569.0 C2144.0,574.2 2135.5,588.2 2129.0,600.0 C2122.5,611.8 2114.7,627.3 2108.0,640.0 C2101.3,652.7 2096.3,657.5 2089.0,676.0 C2081.7,694.5 2072.3,731.8 2064.0,751.0 C2055.7,770.2 2051.7,778.3 2039.0,791.0 C2026.3,803.7 2013.3,811.3 1988.0,827.0 C1962.7,842.7 1923.8,862.8 1887.0,885.0 C1850.2,907.2 1801.5,938.3 1767.0,960.0 C1732.5,981.7 1707.8,997.3 1680.0,1015.0 C1652.2,1032.7 1623.5,1053.3 1600.0,1066.0 C1576.5,1078.7 1556.7,1083.5 1539.0,1091.0 C1521.3,1098.5 1513.3,1099.7 1494.0,1111.0 C1474.7,1122.3 1447.0,1143.7 1423.0,1159.0 C1399.0,1174.3 1373.7,1188.8 1350.0,1203.0 C1326.3,1217.2 1292.5,1237.2 1281.0,1244.0" fill="none" stroke="#21120a" stroke-width="2.0" stroke-linejoin="round" stroke-linecap="round" />
<path d="M414.0,569.0 L1280.0,66.0 L2147.0,569.0" fill="none" stroke="#21120a" stroke-width="2.6" stroke-linejoin="round" stroke-linecap="round" />
<path d="M2147.0,569.0 L2147.0,850.0 L1282.0,1352.0 L414.0,848.0 L414.0,569.0" fill="none" stroke="#21120a" stroke-width="2.6" stroke-linejoin="round" stroke-linecap="round" />
<path d="M1281.0,1244.0 L1282.0,1352.0" fill="none" stroke="#21120a" stroke-width="2.4" stroke-linejoin="round" stroke-linecap="round" />
<path d="M1885.0,725.0 C1887.5,726.7 1895.0,730.8 1900.0,735.0 C1905.0,739.2 1912.5,747.5 1915.0,750.0" fill="none" stroke="#21120a" stroke-width="1.6" stroke-linejoin="round" stroke-linecap="round" />
<path d="M1950.0,755.0 C1954.2,757.5 1966.7,765.0 1975.0,770.0 C1983.3,775.0 1993.8,781.3 2000.0,785.0 C2006.2,788.7 2010.0,790.8 2012.0,792.0" fill="none" stroke="#21120a" stroke-width="1.6" stroke-linejoin="round" stroke-linecap="round" />
<path d="M880.0,735.0 C884.2,732.8 897.5,725.3 905.0,722.0 C912.5,718.7 921.7,716.2 925.0,715.0" fill="none" stroke="#21120a" stroke-width="1.4" stroke-linejoin="round" stroke-linecap="round" />
<path d="M605.0,782.0 C608.3,779.7 618.3,773.3 625.0,768.0 C631.7,762.7 641.7,753.0 645.0,750.0" fill="none" stroke="#21120a" stroke-width="1.4" stroke-linejoin="round" stroke-linecap="round" />
<path d="M786.0,652.0 L1249.0,917.0 L1249.0,917.0 C1249.0,935.8 1256.3,1014.8 1249.0,1030.0 C1241.7,1045.2 1219.7,1016.3 1205.0,1008.0 C1190.3,999.7 1172.5,987.7 1161.0,980.0 C1149.5,972.3 1146.2,967.0 1136.0,962.0 C1125.8,957.0 1110.5,954.5 1100.0,950.0 C1089.5,945.5 1084.7,940.5 1073.0,935.0 C1061.3,929.5 1042.2,924.5 1030.0,917.0 C1017.8,909.5 1011.3,899.2 1000.0,890.0 C988.7,880.8 978.7,871.2 962.0,862.0 C945.3,852.8 918.7,844.5 900.0,835.0 C881.3,825.5 869.0,815.5 850.0,805.0 C831.0,794.5 796.7,777.5 786.0,772.0 Z" fill="url(#pGravel)" stroke="#21120a" stroke-width="2.2" stroke-linejoin="round" stroke-linecap="round" />
<path d="M1311.0,897.0 L1910.0,550.0 L1912.0,556.0 L1912.0,556.0 C1909.2,562.0 1901.3,578.0 1895.0,592.0 C1888.7,606.0 1878.3,628.3 1874.0,640.0 C1869.7,651.7 1880.0,646.8 1869.0,662.0 C1858.0,677.2 1830.2,712.8 1808.0,731.0 C1785.8,749.2 1754.0,760.3 1736.0,771.0 C1718.0,781.7 1711.7,788.3 1700.0,795.0 C1688.3,801.7 1678.8,805.7 1666.0,811.0 C1653.2,816.3 1639.0,818.5 1623.0,827.0 C1607.0,835.5 1583.8,849.8 1570.0,862.0 C1556.2,874.2 1550.7,891.5 1540.0,900.0 C1529.3,908.5 1518.7,906.0 1506.0,913.0 C1493.3,920.0 1474.5,937.3 1464.0,942.0 C1453.5,946.7 1453.3,937.8 1443.0,941.0 C1432.7,944.2 1415.8,952.8 1402.0,961.0 C1388.2,969.2 1374.8,981.5 1360.0,990.0 C1345.2,998.5 1320.8,1008.3 1313.0,1012.0 Z" fill="url(#pGravel)" stroke="#21120a" stroke-width="2.2" stroke-linejoin="round" stroke-linecap="round" />
<polygon points="786.0,652.0 1249.0,917.0 1249.0,940.0 786.0,676.0" fill="#1e2224" opacity="0.35" filter="url(#blur3)"/>
<polygon points="1311.0,897.0 1925.0,541.0 1925.0,560.0 1311.0,918.0" fill="#1e2224" opacity="0.3" filter="url(#blur3)"/>
<polygon points="786.0,652.0 1249.0,917.0 1249.0,1030.0 1205.0,1008.0 1161.0,980.0 1136.0,962.0 1100.0,950.0 1073.0,935.0 1030.0,917.0 1000.0,890.0 962.0,862.0 900.0,835.0 850.0,805.0 786.0,772.0" fill="#1b1f21" opacity="0.36"/>
<polygon points="829.0,517.0 1444.0,160.0 1879.0,413.0 1280.0,772.0" fill="url(#gSlab)" stroke="#21120a" stroke-width="2.4" stroke-linejoin="round" />
<clipPath id="cSlab"><polygon points="829.0,517.0 1444.0,160.0 1879.0,413.0 1280.0,772.0"/></clipPath>
<g clip-path="url(#cSlab)" opacity="0.48"><rect x="461.6" y="857.6" width="962.4" height="449.1" fill="#000" filter="url(#fConc)" transform="rotate(-29.86)"/></g>
<g fill="#55585a" opacity="0.75"><ellipse cx="1010" cy="577" rx="2.6" ry="1.6" transform="rotate(-10 1010 577)"/><ellipse cx="1329" cy="738" rx="1.6" ry="1.0" transform="rotate(-7 1329 738)"/><ellipse cx="1222" cy="515" rx="1.3" ry="0.8" transform="rotate(10 1222 515)"/><ellipse cx="1555" cy="428" rx="3.4" ry="2.1" transform="rotate(9 1555 428)"/><ellipse cx="1352" cy="238" rx="3.3" ry="2.0" transform="rotate(-17 1352 238)"/><ellipse cx="1590" cy="407" rx="1.5" ry="0.9" transform="rotate(2 1590 407)"/><ellipse cx="1082" cy="630" rx="1.6" ry="1.0" transform="rotate(2 1082 630)"/><ellipse cx="1438" cy="601" rx="1.4" ry="0.9" transform="rotate(-10 1438 601)"/><ellipse cx="1416" cy="399" rx="1.9" ry="1.2" transform="rotate(-31 1416 399)"/><ellipse cx="1754" cy="412" rx="2.0" ry="1.2" transform="rotate(-12 1754 412)"/><ellipse cx="1356" cy="358" rx="2.2" ry="1.4" transform="rotate(-23 1356 358)"/><ellipse cx="1351" cy="460" rx="2.4" ry="1.5" transform="rotate(7 1351 460)"/><ellipse cx="1378" cy="507" rx="1.9" ry="1.2" transform="rotate(-1 1378 507)"/><ellipse cx="956" cy="565" rx="2.6" ry="1.6" transform="rotate(-19 956 565)"/><ellipse cx="1197" cy="522" rx="1.8" ry="1.1" transform="rotate(-34 1197 522)"/><ellipse cx="1019" cy="423" rx="1.5" ry="0.9" transform="rotate(-38 1019 423)"/><ellipse cx="1827" cy="410" rx="3.4" ry="2.1" transform="rotate(7 1827 410)"/><ellipse cx="1346" cy="392" rx="1.7" ry="1.1" transform="rotate(-25 1346 392)"/><ellipse cx="1338" cy="664" rx="1.3" ry="0.8" transform="rotate(-24 1338 664)"/><ellipse cx="1096" cy="403" rx="3.1" ry="1.9" transform="rotate(1 1096 403)"/><ellipse cx="1608" cy="453" rx="1.7" ry="1.1" transform="rotate(1 1608 453)"/><ellipse cx="1381" cy="600" rx="1.2" ry="0.8" transform="rotate(-27 1381 600)"/><ellipse cx="1766" cy="386" rx="1.5" ry="0.9" transform="rotate(-17 1766 386)"/><ellipse cx="1459" cy="421" rx="2.5" ry="1.5" transform="rotate(-10 1459 421)"/><ellipse cx="1157" cy="485" rx="1.8" ry="1.1" transform="rotate(9 1157 485)"/><ellipse cx="1582" cy="396" rx="1.4" ry="0.9" transform="rotate(5 1582 396)"/><ellipse cx="864" cy="520" rx="2.6" ry="1.6" transform="rotate(-3 864 520)"/><ellipse cx="1274" cy="573" rx="2.8" ry="1.7" transform="rotate(-32 1274 573)"/><ellipse cx="1300" cy="253" rx="3.1" ry="1.9" transform="rotate(1 1300 253)"/><ellipse cx="1130" cy="349" rx="3.3" ry="2.0" transform="rotate(-15 1130 349)"/><ellipse cx="1349" cy="300" rx="1.5" ry="0.9" transform="rotate(-29 1349 300)"/><ellipse cx="1462" cy="468" rx="2.8" ry="1.7" transform="rotate(-37 1462 468)"/><ellipse cx="1627" cy="273" rx="2.7" ry="1.7" transform="rotate(-24 1627 273)"/><ellipse cx="1608" cy="314" rx="1.5" ry="0.9" transform="rotate(6 1608 314)"/><ellipse cx="1358" cy="494" rx="3.3" ry="2.0" transform="rotate(-34 1358 494)"/><ellipse cx="1402" cy="205" rx="2.5" ry="1.5" transform="rotate(-20 1402 205)"/><ellipse cx="1560" cy="480" rx="2.4" ry="1.5" transform="rotate(-36 1560 480)"/><ellipse cx="1475" cy="362" rx="1.6" ry="1.0" transform="rotate(-36 1475 362)"/><ellipse cx="1623" cy="434" rx="2.5" ry="1.6" transform="rotate(-39 1623 434)"/><ellipse cx="1540" cy="586" rx="2.2" ry="1.4" transform="rotate(-8 1540 586)"/><ellipse cx="1241" cy="407" rx="1.7" ry="1.0" transform="rotate(-37 1241 407)"/><ellipse cx="1124" cy="518" rx="2.1" ry="1.3" transform="rotate(-13 1124 518)"/><ellipse cx="1310" cy="309" rx="2.0" ry="1.2" transform="rotate(-9 1310 309)"/><ellipse cx="1463" cy="297" rx="2.2" ry="1.3" transform="rotate(0 1463 297)"/><ellipse cx="1621" cy="564" rx="3.1" ry="1.9" transform="rotate(4 1621 564)"/><ellipse cx="1685" cy="325" rx="2.2" ry="1.4" transform="rotate(-9 1685 325)"/><ellipse cx="1238" cy="533" rx="3.0" ry="1.8" transform="rotate(5 1238 533)"/><ellipse cx="1162" cy="354" rx="2.0" ry="1.3" transform="rotate(-31 1162 354)"/><ellipse cx="1378" cy="536" rx="2.0" ry="1.2" transform="rotate(7 1378 536)"/><ellipse cx="1501" cy="572" rx="1.7" ry="1.1" transform="rotate(-39 1501 572)"/><ellipse cx="1172" cy="320" rx="3.0" ry="1.9" transform="rotate(-31 1172 320)"/><ellipse cx="1767" cy="469" rx="1.7" ry="1.0" transform="rotate(4 1767 469)"/><ellipse cx="1126" cy="394" rx="3.2" ry="2.0" transform="rotate(-11 1126 394)"/><ellipse cx="1254" cy="442" rx="2.6" ry="1.6" transform="rotate(2 1254 442)"/><ellipse cx="1466" cy="583" rx="1.7" ry="1.0" transform="rotate(-40 1466 583)"/><ellipse cx="1011" cy="507" rx="3.2" ry="2.0" transform="rotate(-13 1011 507)"/><ellipse cx="1385" cy="199" rx="1.6" ry="1.0" transform="rotate(-15 1385 199)"/><ellipse cx="1432" cy="656" rx="2.5" ry="1.5" transform="rotate(-11 1432 656)"/><ellipse cx="1440" cy="217" rx="3.2" ry="1.9" transform="rotate(7 1440 217)"/><ellipse cx="997" cy="463" rx="2.3" ry="1.4" transform="rotate(-6 997 463)"/><ellipse cx="1479" cy="448" rx="2.9" ry="1.8" transform="rotate(-19 1479 448)"/><ellipse cx="1137" cy="548" rx="1.2" ry="0.7" transform="rotate(-36 1137 548)"/><ellipse cx="1528" cy="280" rx="1.4" ry="0.9" transform="rotate(-28 1528 280)"/><ellipse cx="1211" cy="378" rx="1.5" ry="0.9" transform="rotate(-3 1211 378)"/><ellipse cx="1350" cy="572" rx="2.6" ry="1.6" transform="rotate(-30 1350 572)"/><ellipse cx="1209" cy="318" rx="1.6" ry="1.0" transform="rotate(-28 1209 318)"/><ellipse cx="1590" cy="480" rx="1.3" ry="0.8" transform="rotate(-26 1590 480)"/><ellipse cx="1203" cy="484" rx="2.6" ry="1.6" transform="rotate(-29 1203 484)"/><ellipse cx="1333" cy="680" rx="2.1" ry="1.3" transform="rotate(-39 1333 680)"/><ellipse cx="1064" cy="629" rx="3.2" ry="1.9" transform="rotate(-6 1064 629)"/><ellipse cx="1462" cy="236" rx="1.9" ry="1.1" transform="rotate(-27 1462 236)"/><ellipse cx="1202" cy="532" rx="2.5" ry="1.5" transform="rotate(8 1202 532)"/><ellipse cx="1227" cy="612" rx="1.6" ry="1.0" transform="rotate(-6 1227 612)"/><ellipse cx="1356" cy="413" rx="1.7" ry="1.0" transform="rotate(-8 1356 413)"/><ellipse cx="1412" cy="628" rx="2.8" ry="1.7" transform="rotate(-17 1412 628)"/><ellipse cx="1457" cy="378" rx="2.7" ry="1.6" transform="rotate(-17 1457 378)"/><ellipse cx="1059" cy="484" rx="2.0" ry="1.2" transform="rotate(-8 1059 484)"/><ellipse cx="1522" cy="532" rx="2.2" ry="1.4" transform="rotate(-9 1522 532)"/><ellipse cx="1614" cy="554" rx="1.7" ry="1.1" transform="rotate(-13 1614 554)"/><ellipse cx="1653" cy="368" rx="2.1" ry="1.3" transform="rotate(-21 1653 368)"/><ellipse cx="1524" cy="513" rx="2.4" ry="1.5" transform="rotate(-11 1524 513)"/><ellipse cx="1222" cy="658" rx="2.3" ry="1.4" transform="rotate(-11 1222 658)"/><ellipse cx="1205" cy="502" rx="2.2" ry="1.3" transform="rotate(5 1205 502)"/><ellipse cx="1614" cy="391" rx="1.7" ry="1.1" transform="rotate(10 1614 391)"/><ellipse cx="1313" cy="244" rx="3.1" ry="1.9" transform="rotate(-2 1313 244)"/><ellipse cx="1493" cy="256" rx="3.0" ry="1.9" transform="rotate(-24 1493 256)"/><ellipse cx="947" cy="534" rx="2.6" ry="1.6" transform="rotate(-8 947 534)"/><ellipse cx="1053" cy="464" rx="2.7" ry="1.7" transform="rotate(-27 1053 464)"/><ellipse cx="1619" cy="525" rx="2.3" ry="1.4" transform="rotate(6 1619 525)"/><ellipse cx="1079" cy="586" rx="2.2" ry="1.4" transform="rotate(-6 1079 586)"/><ellipse cx="1831" cy="391" rx="2.6" ry="1.6" transform="rotate(0 1831 391)"/><ellipse cx="1254" cy="432" rx="2.6" ry="1.6" transform="rotate(6 1254 432)"/><ellipse cx="1369" cy="302" rx="2.9" ry="1.8" transform="rotate(-39 1369 302)"/><ellipse cx="1553" cy="347" rx="3.3" ry="2.0" transform="rotate(-11 1553 347)"/><ellipse cx="1390" cy="238" rx="2.1" ry="1.3" transform="rotate(8 1390 238)"/><ellipse cx="968" cy="583" rx="1.6" ry="1.0" transform="rotate(-39 968 583)"/><ellipse cx="1457" cy="227" rx="1.6" ry="1.0" transform="rotate(-4 1457 227)"/><ellipse cx="1252" cy="736" rx="3.0" ry="1.8" transform="rotate(3 1252 736)"/><ellipse cx="1208" cy="633" rx="1.2" ry="0.8" transform="rotate(-9 1208 633)"/><ellipse cx="1671" cy="454" rx="1.3" ry="0.8" transform="rotate(0 1671 454)"/><ellipse cx="1387" cy="267" rx="1.9" ry="1.2" transform="rotate(2 1387 267)"/><ellipse cx="1346" cy="326" rx="3.2" ry="2.0" transform="rotate(-22 1346 326)"/><ellipse cx="955" cy="561" rx="2.1" ry="1.3" transform="rotate(-26 955 561)"/><ellipse cx="1692" cy="472" rx="1.4" ry="0.9" transform="rotate(-10 1692 472)"/><ellipse cx="1485" cy="529" rx="2.1" ry="1.3" transform="rotate(9 1485 529)"/><ellipse cx="1781" cy="421" rx="1.6" ry="1.0" transform="rotate(-38 1781 421)"/><ellipse cx="1205" cy="669" rx="1.6" ry="1.0" transform="rotate(4 1205 669)"/><ellipse cx="1452" cy="661" rx="2.7" ry="1.7" transform="rotate(-10 1452 661)"/><ellipse cx="1136" cy="613" rx="2.7" ry="1.7" transform="rotate(7 1136 613)"/><ellipse cx="1177" cy="394" rx="3.3" ry="2.0" transform="rotate(-30 1177 394)"/><ellipse cx="1630" cy="306" rx="1.4" ry="0.9" transform="rotate(-39 1630 306)"/><ellipse cx="1563" cy="473" rx="3.3" ry="2.0" transform="rotate(1 1563 473)"/><ellipse cx="1769" cy="395" rx="3.2" ry="2.0" transform="rotate(9 1769 395)"/><ellipse cx="1496" cy="236" rx="2.3" ry="1.4" transform="rotate(-22 1496 236)"/><ellipse cx="1140" cy="622" rx="3.3" ry="2.0" transform="rotate(-5 1140 622)"/><ellipse cx="1484" cy="354" rx="2.7" ry="1.7" transform="rotate(-18 1484 354)"/><ellipse cx="1804" cy="378" rx="2.6" ry="1.6" transform="rotate(-35 1804 378)"/><ellipse cx="1127" cy="632" rx="1.2" ry="0.7" transform="rotate(-19 1127 632)"/><ellipse cx="1554" cy="468" rx="1.3" ry="0.8" transform="rotate(-39 1554 468)"/><ellipse cx="1019" cy="508" rx="2.4" ry="1.5" transform="rotate(-32 1019 508)"/><ellipse cx="1014" cy="619" rx="1.4" ry="0.9" transform="rotate(6 1014 619)"/><ellipse cx="1063" cy="404" rx="2.9" ry="1.8" transform="rotate(-22 1063 404)"/><ellipse cx="1153" cy="426" rx="3.1" ry="1.9" transform="rotate(-35 1153 426)"/><ellipse cx="1318" cy="590" rx="3.2" ry="2.0" transform="rotate(-29 1318 590)"/><ellipse cx="1032" cy="533" rx="3.3" ry="2.1" transform="rotate(-16 1032 533)"/><ellipse cx="1576" cy="457" rx="3.2" ry="2.0" transform="rotate(-30 1576 457)"/><ellipse cx="1377" cy="596" rx="1.2" ry="0.7" transform="rotate(-36 1377 596)"/><ellipse cx="1260" cy="750" rx="3.1" ry="1.9" transform="rotate(10 1260 750)"/><ellipse cx="1294" cy="612" rx="1.6" ry="1.0" transform="rotate(-21 1294 612)"/><ellipse cx="1513" cy="499" rx="2.9" ry="1.8" transform="rotate(-15 1513 499)"/><ellipse cx="1393" cy="238" rx="2.3" ry="1.4" transform="rotate(-37 1393 238)"/><ellipse cx="1755" cy="441" rx="2.2" ry="1.4" transform="rotate(-8 1755 441)"/><ellipse cx="1327" cy="625" rx="2.7" ry="1.7" transform="rotate(-20 1327 625)"/><ellipse cx="1166" cy="518" rx="2.2" ry="1.4" transform="rotate(-14 1166 518)"/><ellipse cx="1615" cy="543" rx="3.2" ry="2.0" transform="rotate(-24 1615 543)"/><ellipse cx="1335" cy="522" rx="1.8" ry="1.1" transform="rotate(-8 1335 522)"/><ellipse cx="1503" cy="541" rx="1.4" ry="0.9" transform="rotate(-22 1503 541)"/><ellipse cx="1420" cy="207" rx="3.4" ry="2.1" transform="rotate(-30 1420 207)"/><ellipse cx="1557" cy="471" rx="2.4" ry="1.5" transform="rotate(10 1557 471)"/><ellipse cx="1496" cy="548" rx="2.7" ry="1.7" transform="rotate(3 1496 548)"/><ellipse cx="1713" cy="404" rx="2.5" ry="1.6" transform="rotate(-29 1713 404)"/><ellipse cx="1141" cy="392" rx="1.6" ry="1.0" transform="rotate(2 1141 392)"/><ellipse cx="1517" cy="324" rx="2.8" ry="1.7" transform="rotate(2 1517 324)"/><ellipse cx="1723" cy="460" rx="2.5" ry="1.5" transform="rotate(-26 1723 460)"/><ellipse cx="1225" cy="371" rx="2.1" ry="1.3" transform="rotate(-37 1225 371)"/><ellipse cx="946" cy="557" rx="3.2" ry="2.0" transform="rotate(-30 946 557)"/><ellipse cx="1634" cy="272" rx="2.5" ry="1.5" transform="rotate(6 1634 272)"/><ellipse cx="1425" cy="278" rx="3.3" ry="2.0" transform="rotate(-16 1425 278)"/><ellipse cx="1685" cy="444" rx="1.3" ry="0.8" transform="rotate(-30 1685 444)"/><ellipse cx="1231" cy="539" rx="1.5" ry="0.9" transform="rotate(-16 1231 539)"/><ellipse cx="1193" cy="566" rx="1.6" ry="1.0" transform="rotate(-8 1193 566)"/><ellipse cx="1187" cy="407" rx="2.8" ry="1.7" transform="rotate(-23 1187 407)"/><ellipse cx="1254" cy="613" rx="3.3" ry="2.0" transform="rotate(-7 1254 613)"/><ellipse cx="1433" cy="257" rx="2.3" ry="1.4" transform="rotate(-35 1433 257)"/><ellipse cx="1250" cy="557" rx="3.0" ry="1.8" transform="rotate(8 1250 557)"/><ellipse cx="1131" cy="535" rx="1.3" ry="0.8" transform="rotate(-25 1131 535)"/><ellipse cx="1504" cy="202" rx="2.9" ry="1.8" transform="rotate(5 1504 202)"/><ellipse cx="1432" cy="312" rx="1.8" ry="1.1" transform="rotate(-4 1432 312)"/><ellipse cx="1659" cy="422" rx="2.9" ry="1.8" transform="rotate(7 1659 422)"/><ellipse cx="1641" cy="394" rx="1.9" ry="1.2" transform="rotate(-28 1641 394)"/><ellipse cx="1162" cy="666" rx="1.8" ry="1.1" transform="rotate(-22 1162 666)"/><ellipse cx="1353" cy="556" rx="1.9" ry="1.2" transform="rotate(-13 1353 556)"/><ellipse cx="1107" cy="632" rx="1.5" ry="0.9" transform="rotate(-6 1107 632)"/><ellipse cx="1223" cy="409" rx="2.4" ry="1.5" transform="rotate(-8 1223 409)"/><ellipse cx="1372" cy="701" rx="1.4" ry="0.8" transform="rotate(-1 1372 701)"/><ellipse cx="1251" cy="742" rx="3.3" ry="2.0" transform="rotate(-9 1251 742)"/><ellipse cx="1075" cy="652" rx="1.2" ry="0.7" transform="rotate(1 1075 652)"/><ellipse cx="1457" cy="523" rx="2.8" ry="1.7" transform="rotate(-4 1457 523)"/><ellipse cx="1339" cy="731" rx="2.0" ry="1.2" transform="rotate(5 1339 731)"/><ellipse cx="1318" cy="616" rx="1.3" ry="0.8" transform="rotate(-23 1318 616)"/><ellipse cx="1110" cy="357" rx="1.6" ry="1.0" transform="rotate(-38 1110 357)"/><ellipse cx="976" cy="523" rx="1.5" ry="0.9" transform="rotate(-38 976 523)"/><ellipse cx="1693" cy="472" rx="1.5" ry="0.9" transform="rotate(-1 1693 472)"/><ellipse cx="1379" cy="636" rx="3.3" ry="2.1" transform="rotate(-24 1379 636)"/><ellipse cx="1286" cy="547" rx="1.4" ry="0.8" transform="rotate(-7 1286 547)"/><ellipse cx="1197" cy="450" rx="2.9" ry="1.8" transform="rotate(-24 1197 450)"/><ellipse cx="1601" cy="371" rx="2.3" ry="1.4" transform="rotate(-19 1601 371)"/><ellipse cx="1331" cy="552" rx="2.6" ry="1.6" transform="rotate(-3 1331 552)"/><ellipse cx="1009" cy="483" rx="2.2" ry="1.4" transform="rotate(-24 1009 483)"/><ellipse cx="1433" cy="452" rx="2.6" ry="1.6" transform="rotate(-28 1433 452)"/><ellipse cx="989" cy="552" rx="1.8" ry="1.1" transform="rotate(2 989 552)"/><ellipse cx="1237" cy="292" rx="3.0" ry="1.8" transform="rotate(-29 1237 292)"/><ellipse cx="1648" cy="315" rx="1.7" ry="1.1" transform="rotate(-6 1648 315)"/><ellipse cx="1435" cy="410" rx="2.6" ry="1.6" transform="rotate(-20 1435 410)"/><ellipse cx="1189" cy="495" rx="2.8" ry="1.7" transform="rotate(-37 1189 495)"/><ellipse cx="1431" cy="642" rx="1.5" ry="0.9" transform="rotate(3 1431 642)"/><ellipse cx="1276" cy="670" rx="1.5" ry="0.9" transform="rotate(-7 1276 670)"/><ellipse cx="1289" cy="574" rx="1.7" ry="1.0" transform="rotate(-7 1289 574)"/><ellipse cx="1739" cy="475" rx="1.3" ry="0.8" transform="rotate(-10 1739 475)"/><ellipse cx="963" cy="500" rx="2.3" ry="1.4" transform="rotate(-20 963 500)"/><ellipse cx="1094" cy="448" rx="2.7" ry="1.6" transform="rotate(-36 1094 448)"/><ellipse cx="1179" cy="443" rx="2.6" ry="1.6" transform="rotate(-12 1179 443)"/><ellipse cx="1021" cy="590" rx="2.1" ry="1.3" transform="rotate(4 1021 590)"/><ellipse cx="1685" cy="301" rx="2.6" ry="1.6" transform="rotate(-29 1685 301)"/><ellipse cx="1583" cy="459" rx="2.5" ry="1.5" transform="rotate(-16 1583 459)"/><ellipse cx="995" cy="433" rx="2.4" ry="1.5" transform="rotate(-22 995 433)"/><ellipse cx="1428" cy="653" rx="2.3" ry="1.4" transform="rotate(10 1428 653)"/><ellipse cx="1174" cy="347" rx="2.4" ry="1.4" transform="rotate(-20 1174 347)"/><ellipse cx="1458" cy="182" rx="2.6" ry="1.6" transform="rotate(-40 1458 182)"/><ellipse cx="1240" cy="434" rx="2.9" ry="1.8" transform="rotate(-30 1240 434)"/><ellipse cx="1546" cy="597" rx="1.2" ry="0.8" transform="rotate(-25 1546 597)"/><ellipse cx="914" cy="532" rx="2.0" ry="1.3" transform="rotate(-1 914 532)"/><ellipse cx="1050" cy="432" rx="2.4" ry="1.5" transform="rotate(10 1050 432)"/><ellipse cx="1758" cy="459" rx="2.5" ry="1.6" transform="rotate(-32 1758 459)"/><ellipse cx="1337" cy="424" rx="2.5" ry="1.5" transform="rotate(-32 1337 424)"/><ellipse cx="1504" cy="373" rx="2.9" ry="1.8" transform="rotate(-21 1504 373)"/><ellipse cx="1370" cy="345" rx="2.1" ry="1.3" transform="rotate(6 1370 345)"/><ellipse cx="1248" cy="593" rx="1.7" ry="1.1" transform="rotate(-5 1248 593)"/><ellipse cx="1395" cy="419" rx="3.2" ry="2.0" transform="rotate(-38 1395 419)"/><ellipse cx="1287" cy="748" rx="1.5" ry="0.9" transform="rotate(-10 1287 748)"/><ellipse cx="1496" cy="441" rx="1.3" ry="0.8" transform="rotate(1 1496 441)"/><ellipse cx="1580" cy="486" rx="2.0" ry="1.2" transform="rotate(0 1580 486)"/><ellipse cx="1388" cy="223" rx="3.1" ry="1.9" transform="rotate(-21 1388 223)"/><ellipse cx="1312" cy="547" rx="2.9" ry="1.8" transform="rotate(-8 1312 547)"/><ellipse cx="1421" cy="255" rx="3.3" ry="2.0" transform="rotate(-17 1421 255)"/><ellipse cx="1356" cy="720" rx="1.6" ry="1.0" transform="rotate(-22 1356 720)"/><ellipse cx="1288" cy="622" rx="2.1" ry="1.3" transform="rotate(-14 1288 622)"/><ellipse cx="1657" cy="328" rx="2.0" ry="1.3" transform="rotate(-16 1657 328)"/><ellipse cx="1395" cy="556" rx="3.1" ry="1.9" transform="rotate(10 1395 556)"/><ellipse cx="1304" cy="596" rx="1.4" ry="0.9" transform="rotate(-4 1304 596)"/><ellipse cx="1050" cy="567" rx="2.7" ry="1.7" transform="rotate(-36 1050 567)"/><ellipse cx="1079" cy="548" rx="2.5" ry="1.6" transform="rotate(-38 1079 548)"/><ellipse cx="1408" cy="365" rx="2.3" ry="1.4" transform="rotate(-8 1408 365)"/><ellipse cx="1062" cy="634" rx="2.5" ry="1.5" transform="rotate(-12 1062 634)"/><ellipse cx="1310" cy="708" rx="3.3" ry="2.0" transform="rotate(-13 1310 708)"/><ellipse cx="1095" cy="478" rx="2.2" ry="1.4" transform="rotate(-28 1095 478)"/><ellipse cx="1296" cy="249" rx="1.6" ry="1.0" transform="rotate(-32 1296 249)"/><ellipse cx="1832" cy="389" rx="2.8" ry="1.7" transform="rotate(-4 1832 389)"/><ellipse cx="1241" cy="469" rx="3.2" ry="2.0" transform="rotate(8 1241 469)"/><ellipse cx="1414" cy="672" rx="2.1" ry="1.3" transform="rotate(-35 1414 672)"/><ellipse cx="1300" cy="382" rx="2.0" ry="1.2" transform="rotate(-26 1300 382)"/><ellipse cx="1346" cy="241" rx="1.3" ry="0.8" transform="rotate(-38 1346 241)"/><ellipse cx="1181" cy="490" rx="3.3" ry="2.1" transform="rotate(-31 1181 490)"/><ellipse cx="1396" cy="358" rx="2.0" ry="1.3" transform="rotate(-7 1396 358)"/><ellipse cx="1556" cy="446" rx="1.4" ry="0.9" transform="rotate(-7 1556 446)"/><ellipse cx="1173" cy="709" rx="2.2" ry="1.3" transform="rotate(5 1173 709)"/><ellipse cx="1310" cy="517" rx="1.8" ry="1.1" transform="rotate(-15 1310 517)"/><ellipse cx="1672" cy="409" rx="2.1" ry="1.3" transform="rotate(-30 1672 409)"/><ellipse cx="1477" cy="464" rx="1.7" ry="1.1" transform="rotate(5 1477 464)"/><ellipse cx="1274" cy="607" rx="2.0" ry="1.3" transform="rotate(-25 1274 607)"/><ellipse cx="1175" cy="571" rx="2.9" ry="1.8" transform="rotate(10 1175 571)"/><ellipse cx="975" cy="492" rx="2.2" ry="1.3" transform="rotate(-1 975 492)"/><ellipse cx="958" cy="460" rx="3.2" ry="2.0" transform="rotate(-35 958 460)"/><ellipse cx="923" cy="463" rx="3.3" ry="2.0" transform="rotate(-40 923 463)"/><ellipse cx="1152" cy="610" rx="2.2" ry="1.4" transform="rotate(-25 1152 610)"/><ellipse cx="1666" cy="336" rx="3.2" ry="1.9" transform="rotate(-2 1666 336)"/><ellipse cx="1328" cy="500" rx="2.7" ry="1.6" transform="rotate(1 1328 500)"/><ellipse cx="1189" cy="526" rx="1.9" ry="1.2" transform="rotate(-4 1189 526)"/><ellipse cx="1410" cy="681" rx="3.1" ry="1.9" transform="rotate(8 1410 681)"/><ellipse cx="991" cy="520" rx="2.4" ry="1.5" transform="rotate(-19 991 520)"/><ellipse cx="1156" cy="409" rx="2.3" ry="1.4" transform="rotate(-6 1156 409)"/><ellipse cx="1311" cy="535" rx="3.2" ry="2.0" transform="rotate(-39 1311 535)"/><ellipse cx="1230" cy="606" rx="2.0" ry="1.3" transform="rotate(-35 1230 606)"/><ellipse cx="1464" cy="657" rx="3.0" ry="1.8" transform="rotate(-14 1464 657)"/><ellipse cx="968" cy="483" rx="1.4" ry="0.8" transform="rotate(-15 968 483)"/><ellipse cx="1692" cy="373" rx="1.9" ry="1.2" transform="rotate(-34 1692 373)"/><ellipse cx="1089" cy="645" rx="3.0" ry="1.8" transform="rotate(-37 1089 645)"/><ellipse cx="1562" cy="380" rx="1.6" ry="1.0" transform="rotate(4 1562 380)"/><ellipse cx="1413" cy="338" rx="1.6" ry="1.0" transform="rotate(-17 1413 338)"/><ellipse cx="1505" cy="619" rx="2.2" ry="1.3" transform="rotate(-38 1505 619)"/><ellipse cx="1134" cy="609" rx="2.3" ry="1.4" transform="rotate(-26 1134 609)"/><ellipse cx="946" cy="450" rx="3.0" ry="1.8" transform="rotate(-28 946 450)"/><ellipse cx="1523" cy="616" rx="1.9" ry="1.2" transform="rotate(-16 1523 616)"/><ellipse cx="1406" cy="688" rx="2.1" ry="1.3" transform="rotate(8 1406 688)"/><ellipse cx="1472" cy="177" rx="1.6" ry="1.0" transform="rotate(-7 1472 177)"/><ellipse cx="1322" cy="279" rx="3.1" ry="1.9" transform="rotate(-18 1322 279)"/><ellipse cx="1360" cy="445" rx="3.2" ry="2.0" transform="rotate(0 1360 445)"/><ellipse cx="968" cy="568" rx="3.3" ry="2.0" transform="rotate(0 968 568)"/><ellipse cx="1442" cy="571" rx="1.4" ry="0.9" transform="rotate(-37 1442 571)"/><ellipse cx="932" cy="532" rx="1.5" ry="0.9" transform="rotate(-37 932 532)"/><ellipse cx="1723" cy="373" rx="2.9" ry="1.8" transform="rotate(-29 1723 373)"/><ellipse cx="893" cy="528" rx="1.2" ry="0.7" transform="rotate(3 893 528)"/><ellipse cx="1651" cy="391" rx="2.5" ry="1.5" transform="rotate(3 1651 391)"/><ellipse cx="1277" cy="682" rx="2.8" ry="1.7" transform="rotate(-24 1277 682)"/><ellipse cx="1065" cy="594" rx="2.8" ry="1.7" transform="rotate(-30 1065 594)"/><ellipse cx="1026" cy="414" rx="2.9" ry="1.8" transform="rotate(-12 1026 414)"/><ellipse cx="1792" cy="383" rx="1.7" ry="1.1" transform="rotate(-15 1792 383)"/><ellipse cx="1301" cy="395" rx="1.5" ry="0.9" transform="rotate(-15 1301 395)"/><ellipse cx="1478" cy="250" rx="2.5" ry="1.5" transform="rotate(-34 1478 250)"/><ellipse cx="1208" cy="451" rx="2.9" ry="1.8" transform="rotate(-3 1208 451)"/><ellipse cx="1275" cy="436" rx="1.5" ry="0.9" transform="rotate(-6 1275 436)"/><ellipse cx="1582" cy="522" rx="1.3" ry="0.8" transform="rotate(-25 1582 522)"/><ellipse cx="1046" cy="428" rx="2.7" ry="1.7" transform="rotate(-36 1046 428)"/><ellipse cx="1450" cy="540" rx="1.3" ry="0.8" transform="rotate(-27 1450 540)"/><ellipse cx="1733" cy="435" rx="1.5" ry="0.9" transform="rotate(-27 1733 435)"/><ellipse cx="1274" cy="400" rx="3.1" ry="1.9" transform="rotate(-15 1274 400)"/><ellipse cx="1074" cy="540" rx="2.8" ry="1.7" transform="rotate(2 1074 540)"/><ellipse cx="1448" cy="289" rx="2.8" ry="1.7" transform="rotate(4 1448 289)"/><ellipse cx="1299" cy="707" rx="1.4" ry="0.9" transform="rotate(-7 1299 707)"/><ellipse cx="1624" cy="411" rx="1.3" ry="0.8" transform="rotate(-39 1624 411)"/><ellipse cx="1392" cy="291" rx="3.1" ry="1.9" transform="rotate(5 1392 291)"/><ellipse cx="1589" cy="454" rx="3.3" ry="2.0" transform="rotate(-4 1589 454)"/><ellipse cx="1382" cy="366" rx="2.1" ry="1.3" transform="rotate(-7 1382 366)"/><ellipse cx="1667" cy="450" rx="1.3" ry="0.8" transform="rotate(-30 1667 450)"/><ellipse cx="1587" cy="580" rx="3.1" ry="1.9" transform="rotate(9 1587 580)"/><ellipse cx="1307" cy="503" rx="1.2" ry="0.8" transform="rotate(-30 1307 503)"/><ellipse cx="1193" cy="327" rx="2.7" ry="1.7" transform="rotate(3 1193 327)"/><ellipse cx="1374" cy="265" rx="1.6" ry="1.0" transform="rotate(-35 1374 265)"/><ellipse cx="1378" cy="614" rx="2.9" ry="1.8" transform="rotate(-15 1378 614)"/><ellipse cx="1660" cy="465" rx="1.3" ry="0.8" transform="rotate(-30 1660 465)"/><ellipse cx="1770" cy="369" rx="2.9" ry="1.8" transform="rotate(-16 1770 369)"/><ellipse cx="985" cy="580" rx="2.9" ry="1.8" transform="rotate(-6 985 580)"/><ellipse cx="1468" cy="477" rx="3.1" ry="1.9" transform="rotate(-31 1468 477)"/><ellipse cx="1701" cy="507" rx="1.6" ry="1.0" transform="rotate(-1 1701 507)"/><ellipse cx="1173" cy="572" rx="1.3" ry="0.8" transform="rotate(-19 1173 572)"/><ellipse cx="1340" cy="392" rx="1.5" ry="0.9" transform="rotate(-6 1340 392)"/><ellipse cx="1395" cy="254" rx="1.8" ry="1.1" transform="rotate(-39 1395 254)"/><ellipse cx="1066" cy="621" rx="1.7" ry="1.0" transform="rotate(-36 1066 621)"/><ellipse cx="1362" cy="276" rx="1.8" ry="1.1" transform="rotate(-15 1362 276)"/><ellipse cx="1017" cy="524" rx="2.3" ry="1.4" transform="rotate(-6 1017 524)"/><ellipse cx="1054" cy="421" rx="2.1" ry="1.3" transform="rotate(-29 1054 421)"/><ellipse cx="1211" cy="467" rx="1.7" ry="1.1" transform="rotate(-29 1211 467)"/><ellipse cx="1556" cy="360" rx="1.5" ry="0.9" transform="rotate(-11 1556 360)"/><ellipse cx="1455" cy="303" rx="2.6" ry="1.6" transform="rotate(-23 1455 303)"/><ellipse cx="1217" cy="369" rx="1.5" ry="0.9" transform="rotate(-10 1217 369)"/><ellipse cx="1553" cy="608" rx="1.4" ry="0.9" transform="rotate(3 1553 608)"/><ellipse cx="1124" cy="517" rx="1.3" ry="0.8" transform="rotate(-21 1124 517)"/><ellipse cx="1575" cy="519" rx="1.9" ry="1.2" transform="rotate(-40 1575 519)"/><ellipse cx="1333" cy="290" rx="2.3" ry="1.4" transform="rotate(-37 1333 290)"/><ellipse cx="1452" cy="305" rx="3.0" ry="1.9" transform="rotate(-22 1452 305)"/><ellipse cx="964" cy="482" rx="2.0" ry="1.2" transform="rotate(-23 964 482)"/><ellipse cx="1386" cy="336" rx="2.7" ry="1.7" transform="rotate(-13 1386 336)"/><ellipse cx="1264" cy="738" rx="2.8" ry="1.7" transform="rotate(-36 1264 738)"/><ellipse cx="1189" cy="632" rx="2.2" ry="1.4" transform="rotate(10 1189 632)"/><ellipse cx="1287" cy="514" rx="2.0" ry="1.2" transform="rotate(-4 1287 514)"/><ellipse cx="1172" cy="587" rx="3.3" ry="2.0" transform="rotate(-12 1172 587)"/><ellipse cx="1673" cy="423" rx="1.5" ry="0.9" transform="rotate(-38 1673 423)"/><ellipse cx="1506" cy="238" rx="2.6" ry="1.6" transform="rotate(9 1506 238)"/><ellipse cx="1458" cy="206" rx="2.8" ry="1.7" transform="rotate(-11 1458 206)"/><ellipse cx="1553" cy="284" rx="1.3" ry="0.8" transform="rotate(6 1553 284)"/><ellipse cx="862" cy="501" rx="2.6" ry="1.6" transform="rotate(-3 862 501)"/><ellipse cx="1030" cy="445" rx="1.4" ry="0.9" transform="rotate(-10 1030 445)"/><ellipse cx="1344" cy="491" rx="1.2" ry="0.7" transform="rotate(-1 1344 491)"/><ellipse cx="1270" cy="704" rx="2.0" ry="1.2" transform="rotate(-17 1270 704)"/><ellipse cx="1615" cy="391" rx="2.9" ry="1.8" transform="rotate(-2 1615 391)"/><ellipse cx="1409" cy="330" rx="2.5" ry="1.5" transform="rotate(-7 1409 330)"/><ellipse cx="1246" cy="462" rx="2.8" ry="1.7" transform="rotate(-40 1246 462)"/><ellipse cx="1415" cy="228" rx="2.4" ry="1.5" transform="rotate(-28 1415 228)"/><ellipse cx="1707" cy="481" rx="1.5" ry="1.0" transform="rotate(-5 1707 481)"/><ellipse cx="969" cy="471" rx="1.6" ry="1.0" transform="rotate(-2 969 471)"/><ellipse cx="1366" cy="704" rx="2.4" ry="1.5" transform="rotate(-9 1366 704)"/><ellipse cx="1169" cy="416" rx="2.2" ry="1.3" transform="rotate(-37 1169 416)"/><ellipse cx="1409" cy="392" rx="2.2" ry="1.3" transform="rotate(-17 1409 392)"/><ellipse cx="945" cy="537" rx="2.4" ry="1.5" transform="rotate(-38 945 537)"/><ellipse cx="1078" cy="375" rx="1.7" ry="1.1" transform="rotate(-22 1078 375)"/><ellipse cx="1079" cy="650" rx="1.5" ry="0.9" transform="rotate(8 1079 650)"/><ellipse cx="1117" cy="590" rx="2.2" ry="1.4" transform="rotate(-28 1117 590)"/><ellipse cx="1555" cy="304" rx="1.7" ry="1.0" transform="rotate(-9 1555 304)"/><ellipse cx="1502" cy="288" rx="1.7" ry="1.1" transform="rotate(-15 1502 288)"/><ellipse cx="1594" cy="429" rx="3.2" ry="2.0" transform="rotate(-6 1594 429)"/><ellipse cx="1316" cy="731" rx="2.3" ry="1.4" transform="rotate(-25 1316 731)"/><ellipse cx="1337" cy="558" rx="2.1" ry="1.3" transform="rotate(8 1337 558)"/><ellipse cx="1318" cy="396" rx="1.2" ry="0.7" transform="rotate(-21 1318 396)"/><ellipse cx="1187" cy="387" rx="2.4" ry="1.5" transform="rotate(-22 1187 387)"/><ellipse cx="1753" cy="381" rx="1.7" ry="1.0" transform="rotate(-35 1753 381)"/><ellipse cx="1115" cy="629" rx="2.7" ry="1.7" transform="rotate(0 1115 629)"/><ellipse cx="1184" cy="363" rx="1.9" ry="1.2" transform="rotate(-7 1184 363)"/><ellipse cx="1582" cy="441" rx="1.9" ry="1.2" transform="rotate(-19 1582 441)"/><ellipse cx="1325" cy="267" rx="2.7" ry="1.6" transform="rotate(-3 1325 267)"/><ellipse cx="1522" cy="520" rx="2.8" ry="1.7" transform="rotate(-13 1522 520)"/><ellipse cx="1179" cy="518" rx="3.3" ry="2.0" transform="rotate(-13 1179 518)"/><ellipse cx="1428" cy="645" rx="1.8" ry="1.1" transform="rotate(-22 1428 645)"/><ellipse cx="1545" cy="222" rx="2.9" ry="1.8" transform="rotate(-33 1545 222)"/><ellipse cx="1358" cy="712" rx="3.1" ry="1.9" transform="rotate(-6 1358 712)"/><ellipse cx="1323" cy="737" rx="2.4" ry="1.5" transform="rotate(-37 1323 737)"/><ellipse cx="1428" cy="603" rx="2.7" ry="1.7" transform="rotate(-20 1428 603)"/><ellipse cx="1203" cy="643" rx="3.1" ry="1.9" transform="rotate(-5 1203 643)"/><ellipse cx="1664" cy="481" rx="2.6" ry="1.6" transform="rotate(5 1664 481)"/><ellipse cx="1169" cy="634" rx="2.7" ry="1.7" transform="rotate(-34 1169 634)"/><ellipse cx="1424" cy="447" rx="1.5" ry="0.9" transform="rotate(-25 1424 447)"/><ellipse cx="1195" cy="344" rx="2.0" ry="1.2" transform="rotate(-13 1195 344)"/><ellipse cx="1555" cy="334" rx="3.3" ry="2.1" transform="rotate(0 1555 334)"/><ellipse cx="1798" cy="376" rx="1.7" ry="1.1" transform="rotate(-37 1798 376)"/><ellipse cx="1600" cy="560" rx="2.0" ry="1.2" transform="rotate(-4 1600 560)"/><ellipse cx="1279" cy="642" rx="1.5" ry="0.9" transform="rotate(-34 1279 642)"/><ellipse cx="1349" cy="478" rx="2.6" ry="1.6" transform="rotate(-33 1349 478)"/><ellipse cx="1224" cy="429" rx="3.2" ry="2.0" transform="rotate(-4 1224 429)"/><ellipse cx="1514" cy="486" rx="1.9" ry="1.2" transform="rotate(-14 1514 486)"/><ellipse cx="1398" cy="472" rx="2.5" ry="1.5" transform="rotate(8 1398 472)"/><ellipse cx="928" cy="463" rx="1.9" ry="1.2" transform="rotate(-32 928 463)"/><ellipse cx="1661" cy="450" rx="3.0" ry="1.8" transform="rotate(-16 1661 450)"/><ellipse cx="1551" cy="397" rx="3.0" ry="1.9" transform="rotate(-8 1551 397)"/><ellipse cx="1463" cy="209" rx="2.7" ry="1.7" transform="rotate(4 1463 209)"/><ellipse cx="1058" cy="519" rx="3.0" ry="1.8" transform="rotate(-6 1058 519)"/><ellipse cx="1509" cy="507" rx="1.3" ry="0.8" transform="rotate(-32 1509 507)"/><ellipse cx="1623" cy="386" rx="2.5" ry="1.5" transform="rotate(-38 1623 386)"/><ellipse cx="920" cy="492" rx="3.0" ry="1.9" transform="rotate(-11 920 492)"/><ellipse cx="1328" cy="713" rx="2.1" ry="1.3" transform="rotate(-40 1328 713)"/><ellipse cx="1021" cy="499" rx="1.8" ry="1.1" transform="rotate(-25 1021 499)"/><ellipse cx="1797" cy="379" rx="2.3" ry="1.4" transform="rotate(-7 1797 379)"/><ellipse cx="1493" cy="348" rx="2.3" ry="1.4" transform="rotate(10 1493 348)"/><ellipse cx="1552" cy="506" rx="3.3" ry="2.0" transform="rotate(-30 1552 506)"/><ellipse cx="1557" cy="492" rx="2.7" ry="1.7" transform="rotate(-27 1557 492)"/><ellipse cx="1333" cy="329" rx="1.5" ry="0.9" transform="rotate(-25 1333 329)"/><ellipse cx="1526" cy="289" rx="1.5" ry="0.9" transform="rotate(3 1526 289)"/><ellipse cx="1065" cy="529" rx="2.2" ry="1.4" transform="rotate(6 1065 529)"/><ellipse cx="1651" cy="428" rx="2.3" ry="1.4" transform="rotate(-39 1651 428)"/><ellipse cx="1308" cy="505" rx="2.9" ry="1.8" transform="rotate(-36 1308 505)"/><ellipse cx="1288" cy="428" rx="2.4" ry="1.5" transform="rotate(-14 1288 428)"/><ellipse cx="1620" cy="449" rx="2.2" ry="1.3" transform="rotate(-29 1620 449)"/><ellipse cx="1368" cy="681" rx="3.1" ry="1.9" transform="rotate(-2 1368 681)"/><ellipse cx="1447" cy="486" rx="2.7" ry="1.7" transform="rotate(-20 1447 486)"/><ellipse cx="1289" cy="642" rx="1.2" ry="0.7" transform="rotate(-9 1289 642)"/><ellipse cx="1409" cy="547" rx="2.7" ry="1.6" transform="rotate(-28 1409 547)"/><ellipse cx="1680" cy="409" rx="1.3" ry="0.8" transform="rotate(10 1680 409)"/><ellipse cx="963" cy="559" rx="3.2" ry="2.0" transform="rotate(-40 963 559)"/><ellipse cx="1352" cy="294" rx="2.6" ry="1.6" transform="rotate(-10 1352 294)"/><ellipse cx="1051" cy="603" rx="2.0" ry="1.2" transform="rotate(-35 1051 603)"/><ellipse cx="1751" cy="489" rx="2.5" ry="1.5" transform="rotate(-29 1751 489)"/><ellipse cx="1236" cy="595" rx="3.3" ry="2.0" transform="rotate(-5 1236 595)"/><ellipse cx="1359" cy="254" rx="1.7" ry="1.0" transform="rotate(-5 1359 254)"/><ellipse cx="1215" cy="697" rx="2.2" ry="1.3" transform="rotate(3 1215 697)"/><ellipse cx="1212" cy="724" rx="2.1" ry="1.3" transform="rotate(-15 1212 724)"/><ellipse cx="1431" cy="631" rx="3.3" ry="2.1" transform="rotate(-3 1431 631)"/><ellipse cx="1490" cy="536" rx="1.9" ry="1.2" transform="rotate(-28 1490 536)"/><ellipse cx="1196" cy="390" rx="3.1" ry="1.9" transform="rotate(9 1196 390)"/><ellipse cx="1171" cy="673" rx="2.0" ry="1.2" transform="rotate(-17 1171 673)"/><ellipse cx="1478" cy="190" rx="2.4" ry="1.5" transform="rotate(10 1478 190)"/><ellipse cx="1506" cy="470" rx="1.9" ry="1.2" transform="rotate(10 1506 470)"/><ellipse cx="1733" cy="453" rx="1.7" ry="1.1" transform="rotate(3 1733 453)"/></g>
<polygon points="829.0,517.0 1444.0,160.0 1879.0,413.0 1280.0,772.0" fill="none" stroke="#21120a" stroke-width="2.4" stroke-linejoin="round"/>
<polygon points="1249.0,116.2 1280.0,134.0 1280.0,250.0 1249.0,232.2" fill="#a9683a"/>
<clipPath id="cw1"><polygon points="1249.0,116.2 1280.0,134.0 1280.0,250.0 1249.0,232.2"/></clipPath>
<g clip-path="url(#cw1)" opacity="0.45"><rect x="114.2" y="-1282.0" width="137.8" height="35.0" fill="#000" filter="url(#fWood)" transform="rotate(90.00)"/></g>
<polygon points="1249.0,116.2 1280.0,134.0 1280.0,250.0 1249.0,232.2" fill="#4a2208" opacity="0.16"/>
<polygon points="1249.0,116.2 1280.0,134.0 1280.0,250.0 1249.0,232.2" fill="none" stroke="#21120a" stroke-width="2.1" stroke-linejoin="round"/>
<polygon points="1280.0,134.0 1311.0,116.2 1311.0,232.2 1280.0,250.0" fill="#c4824b"/>
<clipPath id="cw2"><polygon points="1280.0,134.0 1311.0,116.2 1311.0,232.2 1280.0,250.0"/></clipPath>
<g clip-path="url(#cw2)" opacity="0.45"><rect x="114.2" y="-1313.0" width="137.8" height="35.0" fill="#000" filter="url(#fWood)" transform="rotate(90.00)"/></g>
<polygon points="1280.0,134.0 1311.0,116.2 1311.0,232.2 1280.0,250.0" fill="#4a2208" opacity="0.04"/>
<polygon points="1280.0,134.0 1311.0,116.2 1311.0,232.2 1280.0,250.0" fill="none" stroke="#21120a" stroke-width="2.1" stroke-linejoin="round"/>
<polygon points="1249.0,116.2 1280.0,98.4 1311.0,116.2 1280.0,134.0" fill="#dca66d"/>
<clipPath id="cw3"><polygon points="1249.0,116.2 1280.0,98.4 1311.0,116.2 1280.0,134.0"/></clipPath>
<g clip-path="url(#cw3)" opacity="0.35"><rect x="1023.4" y="720.6" width="57.8" height="34.9" fill="#000" filter="url(#fWood)" transform="rotate(-29.86)"/></g>
<polygon points="1249.0,116.2 1280.0,98.4 1311.0,116.2 1280.0,134.0" fill="none" stroke="#21120a" stroke-width="2.1" stroke-linejoin="round"/>
<polygon points="917.5,344.5 948.0,362.0 948.0,420.0 917.5,402.5" fill="#b06f3d"/>
<clipPath id="cw4"><polygon points="917.5,344.5 948.0,362.0 948.0,420.0 917.5,402.5"/></clipPath>
<g clip-path="url(#cw4)" opacity="0.45"><rect x="342.5" y="-950.0" width="79.5" height="34.5" fill="#000" filter="url(#fWood)" transform="rotate(90.00)"/></g>
<polygon points="917.5,344.5 948.0,362.0 948.0,420.0 917.5,402.5" fill="#4a2208" opacity="0.16"/>
<polygon points="917.5,344.5 948.0,362.0 948.0,420.0 917.5,402.5" fill="none" stroke="#21120a" stroke-width="2.1" stroke-linejoin="round"/>
<polygon points="948.0,362.0 978.5,344.5 978.5,402.5 948.0,420.0" fill="#c98950"/>
<clipPath id="cw5"><polygon points="948.0,362.0 978.5,344.5 978.5,402.5 948.0,420.0"/></clipPath>
<g clip-path="url(#cw5)" opacity="0.45"><rect x="342.5" y="-980.5" width="79.5" height="34.5" fill="#000" filter="url(#fWood)" transform="rotate(90.00)"/></g>
<polygon points="948.0,362.0 978.5,344.5 978.5,402.5 948.0,420.0" fill="#4a2208" opacity="0.04"/>
<polygon points="948.0,362.0 978.5,344.5 978.5,402.5 948.0,420.0" fill="none" stroke="#21120a" stroke-width="2.1" stroke-linejoin="round"/>
<polygon points="917.5,344.5 948.0,327.0 978.5,344.5 948.0,362.0" fill="#dca66d"/>
<clipPath id="cw6"><polygon points="917.5,344.5 948.0,327.0 978.5,344.5 948.0,362.0"/></clipPath>
<g clip-path="url(#cw6)" opacity="0.35"><rect x="622.2" y="753.5" width="56.9" height="34.4" fill="#000" filter="url(#fWood)" transform="rotate(-29.86)"/></g>
<polygon points="917.5,344.5 948.0,327.0 978.5,344.5 948.0,362.0" fill="none" stroke="#21120a" stroke-width="2.1" stroke-linejoin="round"/>
<polygon points="785.0,503.0 1420.0,135.0 1444.0,148.4 809.0,516.4" fill="#d9a268"/>
<clipPath id="cw7"><polygon points="785.0,503.0 1420.0,135.0 1444.0,148.4 809.0,516.4"/></clipPath>
<g clip-path="url(#cw7)" opacity="0.4"><rect x="428.4" y="822.0" width="752.1" height="30.6" fill="#000" filter="url(#fWood)" transform="rotate(-29.86)"/></g>
<polygon points="785.0,503.0 1420.0,135.0 1444.0,148.4 809.0,516.4" fill="none" stroke="#21120a" stroke-width="2.1" stroke-linejoin="round"/>
<polygon points="812.0,516.0 1444.0,148.4 1444.0,162.0 829.0,517.5" fill="#b87943"/>
<clipPath id="cw8"><polygon points="812.0,516.0 1444.0,148.4 1444.0,162.0 829.0,517.5"/></clipPath>
<g clip-path="url(#cw8)" opacity="0.4"><rect x="445.4" y="845.6" width="735.1" height="18.0" fill="#000" filter="url(#fWood)" transform="rotate(-29.86)"/></g>
<polygon points="812.0,516.0 1444.0,148.4 1444.0,162.0 829.0,517.5" fill="none" stroke="#21120a" stroke-width="2.0" stroke-linejoin="round"/>
<polygon points="785.0,503.0 785.0,527.0 789.0,529.0 812.0,516.0" fill="#d29a63" stroke="#21120a" stroke-width="2.0" stroke-linejoin="round" />
<polygon points="910.0,397.0 1264.0,191.5 1275.0,201.5 920.0,406.5" fill="#f6da55" stroke="#21120a" stroke-width="2.0" stroke-linejoin="round" />
<polygon points="920.0,406.5 1275.0,201.5 1275.0,236.0 920.0,442.0" fill="#edc238" stroke="#21120a" stroke-width="2.2" stroke-linejoin="round" />
<polygon points="904.0,399.5 910.0,396.5 920.0,406.5 920.0,443.0 904.0,434.0" fill="#3c3f3c" stroke="#21120a" stroke-width="2.0" stroke-linejoin="round" />
<polygon points="1264.0,191.5 1280.0,202.0 1280.0,236.0 1275.0,238.0 1275.0,201.5" fill="#3c3f3c" stroke="#21120a" stroke-width="2.0" stroke-linejoin="round" />
<g transform="translate(961.1,401.5) rotate(-57)"><ellipse rx="17.5" ry="10.5" fill="#4d4a33" stroke="#21120a" stroke-width="2"/><ellipse rx="13.5" ry="7" fill="#5f5c40"/></g>
<polygon points="956.9,393.5 961.9,391.0 961.1,407.8 956.0,411.2" fill="#b9dd5e" stroke="#21120a" stroke-width="1.2" stroke-linejoin="round" />
<g transform="translate(1236.7,239.5) rotate(-57)"><ellipse rx="17.5" ry="10.5" fill="#4d4a33" stroke="#21120a" stroke-width="2"/><ellipse rx="13.5" ry="7" fill="#5f5c40"/></g>
<polygon points="1232.5,231.5 1237.5,229.0 1236.7,245.8 1231.6,249.2" fill="#b9dd5e" stroke="#21120a" stroke-width="1.2" stroke-linejoin="round" />
<polygon points="1066.4,306.9 1071.0,304.0 1105.0,283.9 1116.8,290.2 1116.8,304.1 1079.7,328.0 1077.2,326.7 1077.2,315.4" fill="#54554e" stroke="#21120a" stroke-width="2.0" stroke-linejoin="round" />
<polygon points="1076.5,305.3 1100.5,291.5 1110.5,296.5 1110.5,303.0 1085.3,319.2 1083.5,316.7" fill="#d9ecaa" stroke="#21120a" stroke-width="1.4" stroke-linejoin="round" />
<polygon points="1083.0,303.5 1097.5,295.0 1104.5,299.0 1104.5,305.5 1090.0,314.5 1086.5,311.5" fill="#b2e565" stroke="#21120a" stroke-width="1.0" stroke-linejoin="round" />
<polygon points="788.0,529.0 1250.0,793.0 1250.0,915.0 788.0,651.0" fill="url(#gBoardL)"/>
<clipPath id="cw9"><polygon points="788.0,529.0 1250.0,793.0 1250.0,915.0 788.0,651.0"/></clipPath>
<g clip-path="url(#cw9)" opacity="0.45"><rect x="944.8" y="63.5" width="596.8" height="110.8" fill="#000" filter="url(#fWood)" transform="rotate(29.86)"/></g>
<polygon points="788.0,529.0 1250.0,793.0 1250.0,915.0 788.0,651.0" fill="none" stroke="#21120a" stroke-width="2.1" stroke-linejoin="round"/>
<polygon points="784.5,526.0 788.0,529.0 788.0,651.0 784.5,649.0" fill="#8e5a30" stroke="#21120a" stroke-width="1.6" stroke-linejoin="round" />
<polygon points="788.0,529.0 814.0,514.5 829.0,517.5 1251.0,758.0 1250.0,793.0" fill="#d9a166"/>
<clipPath id="cw10"><polygon points="788.0,529.0 814.0,514.5 829.0,517.5 1251.0,758.0 1250.0,793.0"/></clipPath>
<g clip-path="url(#cw10)" opacity="0.4"><rect x="944.8" y="32.6" width="536.1" height="35.9" fill="#000" filter="url(#fWood)" transform="rotate(29.86)"/></g>
<polygon points="788.0,529.0 814.0,514.5 829.0,517.5 1251.0,758.0 1250.0,793.0" fill="none" stroke="#21120a" stroke-width="2.1" stroke-linejoin="round"/>
<polygon points="1028.0,667.0 1090.0,702.0 1090.0,824.0 1028.0,789.0" fill="#7a4218" opacity="0.22"/>
<polygon points="1311.0,771.0 1923.0,417.0 1923.0,541.0 1311.0,895.0" fill="url(#gBoardR)"/>
<clipPath id="cw11"><polygon points="1311.0,771.0 1923.0,417.0 1923.0,541.0 1311.0,895.0"/></clipPath>
<g clip-path="url(#cw11)" opacity="0.45"><rect x="689.5" y="1317.0" width="772.7" height="113.9" fill="#000" filter="url(#fWood)" transform="rotate(-29.86)"/></g>
<polygon points="1311.0,771.0 1923.0,417.0 1923.0,541.0 1311.0,895.0" fill="none" stroke="#21120a" stroke-width="2.1" stroke-linejoin="round"/>
<polygon points="1466.0,681.0 1507.0,657.5 1507.0,781.5 1466.0,805.0" fill="#6e3a14" opacity="0.36"/>
<polygon points="1776.0,501.5 1808.0,483.0 1808.0,607.0 1776.0,625.5" fill="#6e3a14" opacity="0.38"/>
<polygon points="1311.0,771.0 1923.0,417.0 1899.0,402.0 1311.0,742.0" fill="#dba368"/>
<clipPath id="cw12"><polygon points="1311.0,771.0 1923.0,417.0 1899.0,402.0 1311.0,742.0"/></clipPath>
<g clip-path="url(#cw12)" opacity="0.4"><rect x="751.2" y="1292.0" width="711.0" height="31.3" fill="#000" filter="url(#fWood)" transform="rotate(-29.86)"/></g>
<polygon points="1311.0,771.0 1923.0,417.0 1899.0,402.0 1311.0,742.0" fill="none" stroke="#21120a" stroke-width="2.1" stroke-linejoin="round"/>
<polygon points="720.5,425.9 752.0,444.0 752.0,775.0 720.5,756.9" fill="#ad6e41"/>
<clipPath id="cw13"><polygon points="720.5,425.9 752.0,444.0 752.0,775.0 720.5,756.9"/></clipPath>
<g clip-path="url(#cw13)" opacity="0.45"><rect x="423.9" y="-754.0" width="353.1" height="35.5" fill="#000" filter="url(#fWood)" transform="rotate(90.00)"/></g>
<polygon points="720.5,425.9 752.0,444.0 752.0,775.0 720.5,756.9" fill="#4a2208" opacity="0.16"/>
<polygon points="720.5,425.9 752.0,444.0 752.0,775.0 720.5,756.9" fill="none" stroke="#21120a" stroke-width="2.1" stroke-linejoin="round"/>
<polygon points="752.0,444.0 783.5,425.9 783.5,756.9 752.0,775.0" fill="#c2814b"/>
<clipPath id="cw14"><polygon points="752.0,444.0 783.5,425.9 783.5,756.9 752.0,775.0"/></clipPath>
<g clip-path="url(#cw14)" opacity="0.45"><rect x="423.9" y="-785.5" width="353.1" height="35.5" fill="#000" filter="url(#fWood)" transform="rotate(90.00)"/></g>
<polygon points="752.0,444.0 783.5,425.9 783.5,756.9 752.0,775.0" fill="#4a2208" opacity="0.04"/>
<polygon points="752.0,444.0 783.5,425.9 783.5,756.9 752.0,775.0" fill="none" stroke="#21120a" stroke-width="2.1" stroke-linejoin="round"/>
<polygon points="752.0,600.0 783.0,500.0 783.0,757.0 752.0,775.0" fill="#6b3814" opacity="0.32"/>
<path d="M752.0,444.0 L752.0,775.0" fill="none" stroke="#21120a" stroke-width="2.1" stroke-linejoin="round" stroke-linecap="round" />
<polygon points="720.5,425.9 752.0,407.8 783.5,425.9 752.0,444.0" fill="#dca66d"/>
<clipPath id="cw15"><polygon points="720.5,425.9 752.0,407.8 783.5,425.9 752.0,444.0"/></clipPath>
<g clip-path="url(#cw15)" opacity="0.35"><rect x="410.8" y="726.1" width="58.6" height="35.4" fill="#000" filter="url(#fWood)" transform="rotate(-29.86)"/></g>
<polygon points="720.5,425.9 752.0,407.8 783.5,425.9 752.0,444.0" fill="none" stroke="#21120a" stroke-width="2.1" stroke-linejoin="round"/>
<circle cx="735" cy="550" r="3.6" fill="#5b4a3c" stroke="#21120a" stroke-width="1.5"/>
<circle cx="735" cy="623" r="3.6" fill="#5b4a3c" stroke="#21120a" stroke-width="1.5"/>
<polygon points="965.0,643.2 996.0,661.0 996.0,917.0 965.0,899.2" fill="#ab6c3f"/>
<clipPath id="cw16"><polygon points="965.0,643.2 996.0,661.0 996.0,917.0 965.0,899.2"/></clipPath>
<g clip-path="url(#cw16)" opacity="0.45"><rect x="641.2" y="-998.0" width="277.8" height="35.0" fill="#000" filter="url(#fWood)" transform="rotate(90.00)"/></g>
<polygon points="965.0,643.2 996.0,661.0 996.0,917.0 965.0,899.2" fill="#4a2208" opacity="0.16"/>
<polygon points="965.0,643.2 996.0,661.0 996.0,917.0 965.0,899.2" fill="none" stroke="#21120a" stroke-width="2.1" stroke-linejoin="round"/>
<polygon points="996.0,661.0 1027.0,643.2 1027.0,899.2 996.0,917.0" fill="#c3824c"/>
<clipPath id="cw17"><polygon points="996.0,661.0 1027.0,643.2 1027.0,899.2 996.0,917.0"/></clipPath>
<g clip-path="url(#cw17)" opacity="0.45"><rect x="641.2" y="-1029.0" width="277.8" height="35.0" fill="#000" filter="url(#fWood)" transform="rotate(90.00)"/></g>
<polygon points="996.0,661.0 1027.0,643.2 1027.0,899.2 996.0,917.0" fill="#4a2208" opacity="0.04"/>
<polygon points="996.0,661.0 1027.0,643.2 1027.0,899.2 996.0,917.0" fill="none" stroke="#21120a" stroke-width="2.1" stroke-linejoin="round"/>
<polygon points="996.0,760.0 1027.0,690.0 1027.0,899.0 996.0,917.0" fill="#6b3814" opacity="0.32"/>
<path d="M996.0,661.0 L996.0,917.0" fill="none" stroke="#21120a" stroke-width="2.1" stroke-linejoin="round" stroke-linecap="round" />
<polygon points="965.0,643.2 996.0,625.4 1027.0,643.2 996.0,661.0" fill="#dca66d"/>
<clipPath id="cw18"><polygon points="965.0,643.2 996.0,625.4 1027.0,643.2 996.0,661.0"/></clipPath>
<g clip-path="url(#cw18)" opacity="0.35"><rect x="514.7" y="1036.2" width="57.8" height="34.9" fill="#000" filter="url(#fWood)" transform="rotate(-29.86)"/></g>
<polygon points="965.0,643.2 996.0,625.4 1027.0,643.2 996.0,661.0" fill="none" stroke="#21120a" stroke-width="2.1" stroke-linejoin="round"/>
<polygon points="1507.0,615.2 1538.0,633.0 1538.0,922.0 1507.0,904.2" fill="#b5733f"/>
<clipPath id="cw19"><polygon points="1507.0,615.2 1538.0,633.0 1538.0,922.0 1507.0,904.2"/></clipPath>
<g clip-path="url(#cw19)" opacity="0.45"><rect x="613.2" y="-1540.0" width="310.8" height="35.0" fill="#000" filter="url(#fWood)" transform="rotate(90.00)"/></g>
<polygon points="1507.0,615.2 1538.0,633.0 1538.0,922.0 1507.0,904.2" fill="#4a2208" opacity="0.16"/>
<polygon points="1507.0,615.2 1538.0,633.0 1538.0,922.0 1507.0,904.2" fill="none" stroke="#21120a" stroke-width="2.1" stroke-linejoin="round"/>
<polygon points="1538.0,633.0 1569.0,615.2 1569.0,904.2 1538.0,922.0" fill="#cd8d53"/>
<clipPath id="cw20"><polygon points="1538.0,633.0 1569.0,615.2 1569.0,904.2 1538.0,922.0"/></clipPath>
<g clip-path="url(#cw20)" opacity="0.45"><rect x="613.2" y="-1571.0" width="310.8" height="35.0" fill="#000" filter="url(#fWood)" transform="rotate(90.00)"/></g>
<polygon points="1538.0,633.0 1569.0,615.2 1569.0,904.2 1538.0,922.0" fill="#4a2208" opacity="0.04"/>
<polygon points="1538.0,633.0 1569.0,615.2 1569.0,904.2 1538.0,922.0" fill="none" stroke="#21120a" stroke-width="2.1" stroke-linejoin="round"/>
<polygon points="1507.0,615.2 1538.0,597.4 1569.0,615.2 1538.0,633.0" fill="#dca66d"/>
<clipPath id="cw21"><polygon points="1507.0,615.2 1538.0,597.4 1569.0,615.2 1538.0,633.0"/></clipPath>
<g clip-path="url(#cw21)" opacity="0.35"><rect x="998.7" y="1281.8" width="57.8" height="34.9" fill="#000" filter="url(#fWood)" transform="rotate(-29.86)"/></g>
<polygon points="1507.0,615.2 1538.0,597.4 1569.0,615.2 1538.0,633.0" fill="none" stroke="#21120a" stroke-width="2.1" stroke-linejoin="round"/>
<polygon points="1807.0,448.2 1838.0,466.0 1838.0,745.0 1807.0,727.2" fill="#b67440"/>
<clipPath id="cw22"><polygon points="1807.0,448.2 1838.0,466.0 1838.0,745.0 1807.0,727.2"/></clipPath>
<g clip-path="url(#cw22)" opacity="0.45"><rect x="446.2" y="-1840.0" width="300.8" height="35.0" fill="#000" filter="url(#fWood)" transform="rotate(90.00)"/></g>
<polygon points="1807.0,448.2 1838.0,466.0 1838.0,745.0 1807.0,727.2" fill="#4a2208" opacity="0.16"/>
<polygon points="1807.0,448.2 1838.0,466.0 1838.0,745.0 1807.0,727.2" fill="none" stroke="#21120a" stroke-width="2.1" stroke-linejoin="round"/>
<polygon points="1838.0,466.0 1869.0,448.2 1869.0,727.2 1838.0,745.0" fill="#ce8e54"/>
<clipPath id="cw23"><polygon points="1838.0,466.0 1869.0,448.2 1869.0,727.2 1838.0,745.0"/></clipPath>
<g clip-path="url(#cw23)" opacity="0.45"><rect x="446.2" y="-1871.0" width="300.8" height="35.0" fill="#000" filter="url(#fWood)" transform="rotate(90.00)"/></g>
<polygon points="1838.0,466.0 1869.0,448.2 1869.0,727.2 1838.0,745.0" fill="#4a2208" opacity="0.04"/>
<polygon points="1838.0,466.0 1869.0,448.2 1869.0,727.2 1838.0,745.0" fill="none" stroke="#21120a" stroke-width="2.1" stroke-linejoin="round"/>
<polygon points="1807.0,448.2 1838.0,430.4 1869.0,448.2 1838.0,466.0" fill="#dca66d"/>
<clipPath id="cw24"><polygon points="1807.0,448.2 1838.0,430.4 1869.0,448.2 1838.0,466.0"/></clipPath>
<g clip-path="url(#cw24)" opacity="0.35"><rect x="1342.1" y="1286.3" width="57.8" height="34.9" fill="#000" filter="url(#fWood)" transform="rotate(-29.86)"/></g>
<polygon points="1807.0,448.2 1838.0,430.4 1869.0,448.2 1838.0,466.0" fill="none" stroke="#21120a" stroke-width="2.1" stroke-linejoin="round"/>
<polygon points="1049.0,1047.0 1081.5,1061.0 1094.0,1130.0 1063.0,1106.0" fill="url(#gPegL)"/>
<clipPath id="cw25"><polygon points="1049.0,1047.0 1081.5,1061.0 1094.0,1130.0 1063.0,1106.0"/></clipPath>
<g clip-path="url(#cw25)" opacity="0.55"><rect x="1214.3" y="-878.5" width="93.7" height="33.6" fill="#000" filter="url(#fWood)" transform="rotate(79.80)"/></g>
<polygon points="1049.0,1047.0 1081.5,1061.0 1094.0,1130.0 1063.0,1106.0" fill="none" stroke="#21120a" stroke-width="2.1" stroke-linejoin="round"/>
<polygon points="1081.5,1061.0 1112.0,1044.5 1122.0,1086.0 1102.0,1132.0 1094.0,1130.0" fill="#cf9058"/>
<clipPath id="cw26"><polygon points="1081.5,1061.0 1112.0,1044.5 1122.0,1086.0 1102.0,1132.0 1094.0,1130.0"/></clipPath>
<g clip-path="url(#cw26)" opacity="0.55"><rect x="1223.0" y="-913.9" width="88.3" height="39.4" fill="#000" filter="url(#fWood)" transform="rotate(79.80)"/></g>
<polygon points="1081.5,1061.0 1112.0,1044.5 1122.0,1086.0 1102.0,1132.0 1094.0,1130.0" fill="none" stroke="#21120a" stroke-width="2.1" stroke-linejoin="round"/>
<polygon points="1079.0,1025.6 1112.0,1044.5 1081.5,1061.0 1049.0,1047.0" fill="#dca66d"/>
<clipPath id="cw27"><polygon points="1079.0,1025.6 1112.0,1044.5 1081.5,1061.0 1049.0,1047.0"/></clipPath>
<g clip-path="url(#cw27)" opacity="0.35"><rect x="386.6" y="1424.6" width="59.9" height="36.8" fill="#000" filter="url(#fWood)" transform="rotate(-29.86)"/></g>
<polygon points="1079.0,1025.6 1112.0,1044.5 1081.5,1061.0 1049.0,1047.0" fill="none" stroke="#21120a" stroke-width="2.1" stroke-linejoin="round"/>
<polygon points="1450.6,1044.5 1478.0,1061.0 1466.0,1130.0 1439.0,1086.0" fill="#c58349"/>
<clipPath id="cw28"><polygon points="1450.6,1044.5 1478.0,1061.0 1466.0,1130.0 1439.0,1086.0"/></clipPath>
<g clip-path="url(#cw28)" opacity="0.55"><rect x="769.0" y="-1645.0" width="85.4" height="38.4" fill="#000" filter="url(#fWood)" transform="rotate(100.20)"/></g>
<polygon points="1450.6,1044.5 1478.0,1061.0 1466.0,1130.0 1439.0,1086.0" fill="none" stroke="#21120a" stroke-width="2.1" stroke-linejoin="round"/>
<polygon points="1478.0,1061.0 1510.0,1047.0 1493.0,1107.5 1466.0,1130.0" fill="#d39359"/>
<clipPath id="cw29"><polygon points="1478.0,1061.0 1510.0,1047.0 1493.0,1107.5 1466.0,1130.0"/></clipPath>
<g clip-path="url(#cw29)" opacity="0.55"><rect x="760.9" y="-1673.6" width="93.5" height="33.0" fill="#000" filter="url(#fWood)" transform="rotate(100.20)"/></g>
<polygon points="1478.0,1061.0 1510.0,1047.0 1493.0,1107.5 1466.0,1130.0" fill="none" stroke="#21120a" stroke-width="2.1" stroke-linejoin="round"/>
<polygon points="1479.5,1025.6 1510.0,1047.0 1478.0,1061.0 1450.6,1044.5" fill="#dca66d"/>
<clipPath id="cw30"><polygon points="1479.5,1025.6 1510.0,1047.0 1478.0,1061.0 1450.6,1044.5"/></clipPath>
<g clip-path="url(#cw30)" opacity="0.35"><rect x="1776.0" y="151.0" width="56.8" height="35.4" fill="#000" filter="url(#fWood)" transform="rotate(29.86)"/></g>
<polygon points="1479.5,1025.6 1510.0,1047.0 1478.0,1061.0 1450.6,1044.5" fill="none" stroke="#21120a" stroke-width="2.1" stroke-linejoin="round"/>
<polygon points="1248.5,739.9 1280.0,758.0 1280.0,1050.0 1248.5,1031.9" fill="#b87643"/>
<clipPath id="cw31"><polygon points="1248.5,739.9 1280.0,758.0 1280.0,1050.0 1248.5,1031.9"/></clipPath>
<g clip-path="url(#cw31)" opacity="0.45"><rect x="737.9" y="-1282.0" width="314.1" height="35.5" fill="#000" filter="url(#fWood)" transform="rotate(90.00)"/></g>
<polygon points="1248.5,739.9 1280.0,758.0 1280.0,1050.0 1248.5,1031.9" fill="#4a2208" opacity="0.16"/>
<polygon points="1248.5,739.9 1280.0,758.0 1280.0,1050.0 1248.5,1031.9" fill="none" stroke="#21120a" stroke-width="2.1" stroke-linejoin="round"/>
<polygon points="1280.0,758.0 1311.5,739.9 1311.5,1031.9 1280.0,1050.0" fill="#cb8b51"/>
<clipPath id="cw32"><polygon points="1280.0,758.0 1311.5,739.9 1311.5,1031.9 1280.0,1050.0"/></clipPath>
<g clip-path="url(#cw32)" opacity="0.45"><rect x="737.9" y="-1313.5" width="314.1" height="35.5" fill="#000" filter="url(#fWood)" transform="rotate(90.00)"/></g>
<polygon points="1280.0,758.0 1311.5,739.9 1311.5,1031.9 1280.0,1050.0" fill="#4a2208" opacity="0.04"/>
<polygon points="1280.0,758.0 1311.5,739.9 1311.5,1031.9 1280.0,1050.0" fill="none" stroke="#21120a" stroke-width="2.1" stroke-linejoin="round"/>
<polygon points="1248.5,739.9 1280.0,721.8 1311.5,739.9 1280.0,758.0" fill="#dca66d"/>
<clipPath id="cw33"><polygon points="1248.5,739.9 1280.0,721.8 1311.5,739.9 1280.0,758.0"/></clipPath>
<g clip-path="url(#cw33)" opacity="0.35"><rect x="712.5" y="1261.2" width="58.6" height="35.4" fill="#000" filter="url(#fWood)" transform="rotate(-29.86)"/></g>
<polygon points="1248.5,739.9 1280.0,721.8 1311.5,739.9 1280.0,758.0" fill="none" stroke="#21120a" stroke-width="2.1" stroke-linejoin="round"/>
<polygon points="1279.0,830.0 1279.0,886.0 1161.0,1105.0 1102.0,1133.0" fill="#c98a51"/>
<clipPath id="cw34"><polygon points="1279.0,830.0 1279.0,886.0 1161.0,1105.0 1102.0,1133.0"/></clipPath>
<g clip-path="url(#cw34)" opacity="0.55"><rect x="69.5" y="-1561.9" width="354.9" height="40.8" fill="#000" filter="url(#fWood)" transform="rotate(120.29)"/></g>
<polygon points="1279.0,830.0 1279.0,886.0 1161.0,1105.0 1102.0,1133.0" fill="none" stroke="#21120a" stroke-width="2.1" stroke-linejoin="round"/>
<polygon points="1249.0,813.0 1279.0,830.0 1102.0,1133.0 1122.0,1085.0 1113.0,1046.0" fill="#d49a5f"/>
<clipPath id="cw35"><polygon points="1249.0,813.0 1279.0,830.0 1102.0,1133.0 1122.0,1085.0 1113.0,1046.0"/></clipPath>
<g clip-path="url(#cw35)" opacity="0.45"><rect x="69.5" y="-1525.0" width="354.9" height="38.5" fill="#000" filter="url(#fWood)" transform="rotate(120.29)"/></g>
<polygon points="1249.0,813.0 1279.0,830.0 1102.0,1133.0 1122.0,1085.0 1113.0,1046.0" fill="none" stroke="#21120a" stroke-width="2.1" stroke-linejoin="round"/>
<path d="M1272.0,836.0 L1106.0,1130.0" fill="none" stroke="#21120a" stroke-width="1.6" stroke-linejoin="round" stroke-linecap="round" />
<polygon points="1281.0,830.0 1281.0,886.0 1425.0,1098.0 1456.0,1131.0" fill="#b87742"/>
<clipPath id="cw36"><polygon points="1281.0,830.0 1281.0,886.0 1425.0,1098.0 1456.0,1131.0"/></clipPath>
<g clip-path="url(#cw36)" opacity="0.55"><rect x="1359.4" y="-692.3" width="352.2" height="32.1" fill="#000" filter="url(#fWood)" transform="rotate(59.83)"/></g>
<polygon points="1281.0,830.0 1281.0,886.0 1425.0,1098.0 1456.0,1131.0" fill="none" stroke="#21120a" stroke-width="2.1" stroke-linejoin="round"/>
<polygon points="1313.0,813.0 1281.0,830.0 1456.0,1131.0 1439.0,1085.0 1453.0,1047.0" fill="#d59b61"/>
<clipPath id="cw37"><polygon points="1313.0,813.0 1281.0,830.0 1456.0,1131.0 1439.0,1085.0 1453.0,1047.0"/></clipPath>
<g clip-path="url(#cw37)" opacity="0.45"><rect x="1359.4" y="-731.9" width="352.2" height="43.6" fill="#000" filter="url(#fWood)" transform="rotate(59.83)"/></g>
<polygon points="1313.0,813.0 1281.0,830.0 1456.0,1131.0 1439.0,1085.0 1453.0,1047.0" fill="none" stroke="#21120a" stroke-width="2.1" stroke-linejoin="round"/>
<path d="M1288.0,836.0 L1452.0,1129.0" fill="none" stroke="#21120a" stroke-width="1.6" stroke-linejoin="round" stroke-linecap="round" />
<ellipse cx="1232" cy="806" rx="3.3" ry="4.2" fill="#b3a08a" stroke="#21120a" stroke-width="1.6" transform="rotate(-20 1232 806)"/>
<ellipse cx="1240" cy="858" rx="3.3" ry="4.2" fill="#b3a08a" stroke="#21120a" stroke-width="1.6" transform="rotate(-20 1240 858)"/>
<ellipse cx="1321" cy="860" rx="3.3" ry="4.2" fill="#b3a08a" stroke="#21120a" stroke-width="1.6" transform="rotate(-20 1321 860)"/>
<line x1="1150.7" y1="1150.8" x2="1263.3" y2="1083.2" stroke="#fbf7f1" stroke-width="3.6"/>
<polygon points="1277.0,1075.0 1256.0,1078.9 1263.7,1091.7" fill="#fbf7f1"/>
<polygon points="1137.0,1159.0 1158.0,1155.1 1150.3,1142.3" fill="#fbf7f1"/>
<line x1="1410.3" y1="1150.7" x2="1298.7" y2="1083.3" stroke="#fbf7f1" stroke-width="3.6"/>
<polygon points="1285.0,1075.0 1298.2,1091.8 1306.0,1078.9" fill="#fbf7f1"/>
<polygon points="1424.0,1159.0 1410.8,1142.2 1403.0,1155.1" fill="#fbf7f1"/>
<path d="M1171,1074 C1192,1074 1212,1088 1217,1110" fill="none" stroke="#fbf7f1" stroke-width="3.4" stroke-linejoin="round" stroke-linecap="round" />
<text x="1188" y="1068" font-size="40" textLength="62" lengthAdjust="spacingAndGlyphs" font-family="Liberation Sans, sans-serif" fill="#fbf7f1" stroke="#fbf7f1" stroke-width="1.4">45°</text>
<text x="1216" y="1153" font-size="41" textLength="141" lengthAdjust="spacingAndGlyphs" font-family="Liberation Sans, sans-serif" fill="#fbf7f1" stroke="#fbf7f1" stroke-width="1.4">350mm</text>
<path d="M832.0,152.5 L956.0,152.5 L1066.2,261.4" fill="none" stroke="#4a738b" stroke-width="4.4" stroke-linejoin="miter"/>
<polygon points="1082.5,277.5 1069.6,252.1 1057.0,264.9" fill="#4a738b"/>
<path d="M685.0,314.0 L737.5,314.0 L751.9,419.3" fill="none" stroke="#4a738b" stroke-width="4.4" stroke-linejoin="miter"/>
<polygon points="755.0,442.0 760.3,414.0 742.4,416.5" fill="#4a738b"/>
<path d="M1571.0,135.0 L1432.0,135.0 L1275.1,221.0" fill="none" stroke="#4a738b" stroke-width="4.4" stroke-linejoin="miter"/>
<polygon points="1255.0,232.0 1283.0,226.9 1274.4,211.1" fill="#4a738b"/>
<path d="M1901.0,302.5 L1775.0,302.5 L1641.1,384.1" fill="none" stroke="#4a738b" stroke-width="4.4" stroke-linejoin="miter"/>
<polygon points="1621.5,396.0 1649.2,389.6 1639.9,374.3" fill="#4a738b"/>
<path d="M515.0,1056.5 L667.5,1056.5 L963.5,873.1" fill="none" stroke="#4a738b" stroke-width="4.4" stroke-linejoin="miter"/>
<polygon points="983.0,861.0 955.3,867.6 964.8,882.9" fill="#4a738b"/>
<path d="M854.0,1249.0 L927.5,1249.0 L1061.6,1109.1" fill="none" stroke="#4a738b" stroke-width="4.4" stroke-linejoin="miter"/>
<polygon points="1077.5,1092.5 1052.3,1105.8 1065.3,1118.2" fill="#4a738b"/>
<path d="M1898.0,1071.5 L1837.5,1071.5 L1568.9,886.0" fill="none" stroke="#4a738b" stroke-width="4.4" stroke-linejoin="miter"/>
<polygon points="1550.0,873.0 1567.1,895.7 1577.3,880.9" fill="#4a738b"/>
<path d="M1758.0,1256.5 L1669.0,1256.5 L1454.6,911.0" fill="none" stroke="#4a738b" stroke-width="4.4" stroke-linejoin="miter"/>
<polygon points="1442.5,891.5 1449.1,919.2 1464.4,909.7" fill="#4a738b"/>
<circle cx="195" cy="154.1" r="43" fill="#e2a33c"/>
<text x="195" y="173.6" font-size="54.5" text-anchor="middle" font-family="Liberation Sans, sans-serif" fill="#fff6e6" stroke="#fff6e6" stroke-width="1.8">1</text>
<text x="261.8" y="171" font-size="52" textLength="554" lengthAdjust="spacingAndGlyphs" font-family="Liberation Sans, sans-serif" fill="#2b4a5b" stroke="#2b4a5b" stroke-width="1.8">150x25mm sawn board</text>
<circle cx="195" cy="336.6" r="43" fill="#e2a33c"/>
<text x="195" y="356.1" font-size="54.5" text-anchor="middle" font-family="Liberation Sans, sans-serif" fill="#fff6e6" stroke="#fff6e6" stroke-width="1.8">2</text>
<text x="261.8" y="329" font-size="52" textLength="404" lengthAdjust="spacingAndGlyphs" font-family="Liberation Sans, sans-serif" fill="#2b4a5b" stroke="#2b4a5b" stroke-width="1.8">50x50mm timber</text>
<text x="261.8" y="387.5" font-size="52" textLength="126.5" lengthAdjust="spacingAndGlyphs" font-family="Liberation Sans, sans-serif" fill="#2b4a5b" stroke="#2b4a5b" stroke-width="1.8">stake</text>
<circle cx="1632.5" cy="135.6" r="43" fill="#e2a33c"/>
<text x="1632.5" y="155.1" font-size="54.5" text-anchor="middle" font-family="Liberation Sans, sans-serif" fill="#fff6e6" stroke="#fff6e6" stroke-width="1.8">6</text>
<text x="1698.3" y="152.5" font-size="52" textLength="401.5" lengthAdjust="spacingAndGlyphs" font-family="Liberation Sans, sans-serif" fill="#2b4a5b" stroke="#2b4a5b" stroke-width="1.8">Spirit level check</text>
<circle cx="1962.5" cy="303.1" r="43" fill="#e2a33c"/>
<text x="1962.5" y="322.6" font-size="54.5" text-anchor="middle" font-family="Liberation Sans, sans-serif" fill="#fff6e6" stroke="#fff6e6" stroke-width="1.8">4</text>
<text x="2029.3" y="320" font-size="52" textLength="325" lengthAdjust="spacingAndGlyphs" font-family="Liberation Sans, sans-serif" fill="#2b4a5b" stroke="#2b4a5b" stroke-width="1.8">Concrete slab</text>
<circle cx="157.5" cy="1055.6" r="43" fill="#e2a33c"/>
<text x="157.5" y="1075.1" font-size="54.5" text-anchor="middle" font-family="Liberation Sans, sans-serif" fill="#fff6e6" stroke="#fff6e6" stroke-width="1.8">5</text>
<text x="222.3" y="1043" font-size="52" textLength="268.5" lengthAdjust="spacingAndGlyphs" font-family="Liberation Sans, sans-serif" fill="#2b4a5b" stroke="#2b4a5b" stroke-width="1.8">Compacted</text>
<text x="222.3" y="1100" font-size="52" textLength="216" lengthAdjust="spacingAndGlyphs" font-family="Liberation Sans, sans-serif" fill="#2b4a5b" stroke="#2b4a5b" stroke-width="1.8">sub-base</text>
<circle cx="416" cy="1245.6" r="43" fill="#e2a33c"/>
<text x="416" y="1265.1" font-size="54.5" text-anchor="middle" font-family="Liberation Sans, sans-serif" fill="#fff6e6" stroke="#fff6e6" stroke-width="1.8">3</text>
<text x="480.8" y="1234" font-size="52" textLength="352.5" lengthAdjust="spacingAndGlyphs" font-family="Liberation Sans, sans-serif" fill="#2b4a5b" stroke="#2b4a5b" stroke-width="1.8">Diagonal brace</text>
<text x="480.8" y="1291.5" font-size="52" textLength="210" lengthAdjust="spacingAndGlyphs" font-family="Liberation Sans, sans-serif" fill="#2b4a5b" stroke="#2b4a5b" stroke-width="1.8">at corner</text>
<circle cx="1958.5" cy="1071.1" r="43" fill="#e2a33c"/>
<text x="1958.5" y="1090.6" font-size="54.5" text-anchor="middle" font-family="Liberation Sans, sans-serif" fill="#fff6e6" stroke="#fff6e6" stroke-width="1.8">2</text>
<text x="2024.3" y="1057.5" font-size="52" textLength="304" lengthAdjust="spacingAndGlyphs" font-family="Liberation Sans, sans-serif" fill="#2b4a5b" stroke="#2b4a5b" stroke-width="1.8">Freshly sawn</text>
<text x="2024.3" y="1116.5" font-size="52" textLength="401.5" lengthAdjust="spacingAndGlyphs" font-family="Liberation Sans, sans-serif" fill="#2b4a5b" stroke="#2b4a5b" stroke-width="1.8">50x50mm timber</text>
<text x="2024" y="1167.5" font-size="25" textLength="21" lengthAdjust="spacingAndGlyphs" font-family="Liberation Sans, DejaVu Sans, sans-serif" fill="#2b4a5b" stroke="#2b4a5b" stroke-width="0.9">≥</text>
<text x="2049.8" y="1173" font-size="52" textLength="403.5" lengthAdjust="spacingAndGlyphs" font-family="Liberation Sans, sans-serif" fill="#2b4a5b" stroke="#2b4a5b" stroke-width="1.8">~600mm centres</text>
<circle cx="1817.5" cy="1256.1" r="43" fill="#e2a33c"/>
<text x="1817.5" y="1275.6" font-size="54.5" text-anchor="middle" font-family="Liberation Sans, sans-serif" fill="#fff6e6" stroke="#fff6e6" stroke-width="1.8">6</text>
<text x="1882.3" y="1272.5" font-size="52" textLength="400" lengthAdjust="spacingAndGlyphs" font-family="Liberation Sans, sans-serif" fill="#2b4a5b" stroke="#2b4a5b" stroke-width="1.8">Spirit level check</text>
</svg>
</body></html>
